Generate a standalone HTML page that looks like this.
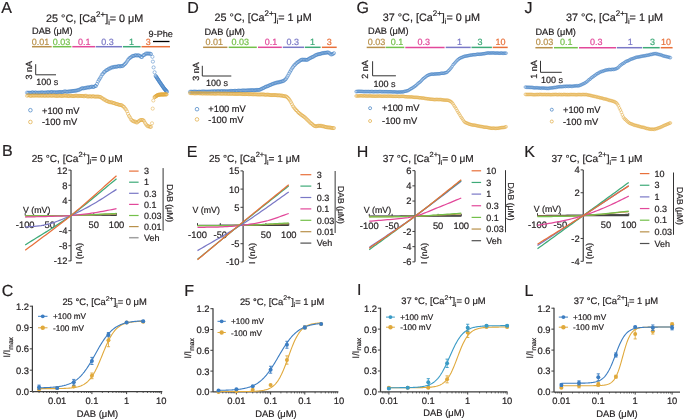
<!DOCTYPE html>
<html><head><meta charset="utf-8"><style>
html,body{margin:0;padding:0;background:#fff;width:685px;height:420px;overflow:hidden}
svg{display:block;filter:blur(0.3px)}
text{font-family:"Liberation Sans", sans-serif;text-rendering:geometricPrecision}
</style></head><body>
<svg width="685" height="420" viewBox="0 0 685 420">
<rect width="685" height="420" fill="#fff"/>
<text x="1.30" y="13.00" font-size="16" fill="#231f20" stroke="#231f20" stroke-width="0.2" text-anchor="start">A</text>
<text x="46.10" y="21.60" font-size="10.8" fill="#231f20" stroke="#231f20" stroke-width="0.2">25 °C, [Ca<tspan font-size="7.99" dy="-4.97">2+</tspan><tspan dy="4.97">]</tspan><tspan font-size="7.34" dy="3.02">i</tspan><tspan dy="-3.02">= 0 μM</tspan></text>
<text x="32.00" y="33.50" font-size="9.2" fill="#231f20" stroke="#231f20" stroke-width="0.2" text-anchor="start">DAB (μM)</text>
<line x1="32.00" y1="46.70" x2="51.70" y2="46.70" stroke="#b8904a" stroke-width="1.5"/>
<line x1="52.80" y1="46.70" x2="71.40" y2="46.70" stroke="#74c04a" stroke-width="1.5"/>
<line x1="72.30" y1="46.70" x2="95.10" y2="46.70" stroke="#e2489a" stroke-width="1.5"/>
<line x1="95.70" y1="46.70" x2="122.00" y2="46.70" stroke="#7a78c6" stroke-width="1.5"/>
<line x1="122.90" y1="46.70" x2="140.60" y2="46.70" stroke="#3eaa78" stroke-width="1.5"/>
<line x1="141.50" y1="46.70" x2="170.00" y2="46.70" stroke="#e8703a" stroke-width="1.5"/>
<text x="31.70" y="44.70" font-size="9.0" fill="#b8904a" stroke="#b8904a" stroke-width="0.2" text-anchor="start">0.01</text>
<text x="52.70" y="44.70" font-size="9.0" fill="#74c04a" stroke="#74c04a" stroke-width="0.2" text-anchor="start">0.03</text>
<text x="77.90" y="44.70" font-size="9.0" fill="#e2489a" stroke="#e2489a" stroke-width="0.2" text-anchor="start">0.1</text>
<text x="101.30" y="44.70" font-size="9.0" fill="#7a78c6" stroke="#7a78c6" stroke-width="0.2" text-anchor="start">0.3</text>
<text x="129.10" y="44.70" font-size="9.0" fill="#3eaa78" stroke="#3eaa78" stroke-width="0.2" text-anchor="start">1</text>
<text x="145.70" y="44.70" font-size="9.0" fill="#e8703a" stroke="#e8703a" stroke-width="0.2" text-anchor="start">3</text>
<path d="M35.70 64.20V74.80H56.00" fill="none" stroke="#333" stroke-width="1"/>
<text x="32.40" y="79.40" font-size="9" fill="#231f20" stroke="#231f20" stroke-width="0.2" text-anchor="start" transform="rotate(-90 32.40 79.40)">3 nA</text>
<text x="36.25" y="84.60" font-size="9" fill="#231f20" stroke="#231f20" stroke-width="0.2" text-anchor="start">100 s</text>
<circle cx="30.4" cy="110.2" r="1.8" fill="none" stroke="#3c7dc2" stroke-width="0.7"/>
<circle cx="30.4" cy="122" r="1.8" fill="none" stroke="#e0a93c" stroke-width="0.7"/>
<text x="42.00" y="113.50" font-size="9.3" fill="#231f20" stroke="#231f20" stroke-width="0.2" text-anchor="start">+100 mV</text>
<text x="42.00" y="125.00" font-size="9.3" fill="#231f20" stroke="#231f20" stroke-width="0.2" text-anchor="start">-100 mV</text>
<path d="M25.40 92.62a1.6 1.6 0 1 0 3.2 0a1.6 1.6 0 1 0 -3.2 0M26.40 92.81a1.6 1.6 0 1 0 3.2 0a1.6 1.6 0 1 0 -3.2 0M27.40 92.67a1.6 1.6 0 1 0 3.2 0a1.6 1.6 0 1 0 -3.2 0M28.40 92.81a1.6 1.6 0 1 0 3.2 0a1.6 1.6 0 1 0 -3.2 0M29.40 92.81a1.6 1.6 0 1 0 3.2 0a1.6 1.6 0 1 0 -3.2 0M30.40 92.39a1.6 1.6 0 1 0 3.2 0a1.6 1.6 0 1 0 -3.2 0M31.40 92.34a1.6 1.6 0 1 0 3.2 0a1.6 1.6 0 1 0 -3.2 0M32.40 92.90a1.6 1.6 0 1 0 3.2 0a1.6 1.6 0 1 0 -3.2 0M33.40 92.47a1.6 1.6 0 1 0 3.2 0a1.6 1.6 0 1 0 -3.2 0M34.40 92.44a1.6 1.6 0 1 0 3.2 0a1.6 1.6 0 1 0 -3.2 0M35.40 92.95a1.6 1.6 0 1 0 3.2 0a1.6 1.6 0 1 0 -3.2 0M36.40 92.56a1.6 1.6 0 1 0 3.2 0a1.6 1.6 0 1 0 -3.2 0M37.40 92.80a1.6 1.6 0 1 0 3.2 0a1.6 1.6 0 1 0 -3.2 0M38.40 92.53a1.6 1.6 0 1 0 3.2 0a1.6 1.6 0 1 0 -3.2 0M39.40 92.62a1.6 1.6 0 1 0 3.2 0a1.6 1.6 0 1 0 -3.2 0M40.40 92.26a1.6 1.6 0 1 0 3.2 0a1.6 1.6 0 1 0 -3.2 0M41.40 92.57a1.6 1.6 0 1 0 3.2 0a1.6 1.6 0 1 0 -3.2 0M42.40 92.71a1.6 1.6 0 1 0 3.2 0a1.6 1.6 0 1 0 -3.2 0M43.40 92.45a1.6 1.6 0 1 0 3.2 0a1.6 1.6 0 1 0 -3.2 0M44.40 92.58a1.6 1.6 0 1 0 3.2 0a1.6 1.6 0 1 0 -3.2 0M45.40 92.50a1.6 1.6 0 1 0 3.2 0a1.6 1.6 0 1 0 -3.2 0M46.40 92.05a1.6 1.6 0 1 0 3.2 0a1.6 1.6 0 1 0 -3.2 0M47.40 92.51a1.6 1.6 0 1 0 3.2 0a1.6 1.6 0 1 0 -3.2 0M48.40 92.36a1.6 1.6 0 1 0 3.2 0a1.6 1.6 0 1 0 -3.2 0M49.40 92.13a1.6 1.6 0 1 0 3.2 0a1.6 1.6 0 1 0 -3.2 0M50.40 91.91a1.6 1.6 0 1 0 3.2 0a1.6 1.6 0 1 0 -3.2 0M51.40 92.47a1.6 1.6 0 1 0 3.2 0a1.6 1.6 0 1 0 -3.2 0M52.40 92.16a1.6 1.6 0 1 0 3.2 0a1.6 1.6 0 1 0 -3.2 0M53.40 92.30a1.6 1.6 0 1 0 3.2 0a1.6 1.6 0 1 0 -3.2 0M54.40 92.38a1.6 1.6 0 1 0 3.2 0a1.6 1.6 0 1 0 -3.2 0M55.40 92.23a1.6 1.6 0 1 0 3.2 0a1.6 1.6 0 1 0 -3.2 0M56.40 92.34a1.6 1.6 0 1 0 3.2 0a1.6 1.6 0 1 0 -3.2 0M57.40 91.94a1.6 1.6 0 1 0 3.2 0a1.6 1.6 0 1 0 -3.2 0M58.40 92.18a1.6 1.6 0 1 0 3.2 0a1.6 1.6 0 1 0 -3.2 0M59.40 91.89a1.6 1.6 0 1 0 3.2 0a1.6 1.6 0 1 0 -3.2 0M60.40 92.19a1.6 1.6 0 1 0 3.2 0a1.6 1.6 0 1 0 -3.2 0M61.40 92.10a1.6 1.6 0 1 0 3.2 0a1.6 1.6 0 1 0 -3.2 0M62.40 91.51a1.6 1.6 0 1 0 3.2 0a1.6 1.6 0 1 0 -3.2 0M63.40 91.48a1.6 1.6 0 1 0 3.2 0a1.6 1.6 0 1 0 -3.2 0M64.40 91.48a1.6 1.6 0 1 0 3.2 0a1.6 1.6 0 1 0 -3.2 0M65.40 91.94a1.6 1.6 0 1 0 3.2 0a1.6 1.6 0 1 0 -3.2 0M66.40 91.50a1.6 1.6 0 1 0 3.2 0a1.6 1.6 0 1 0 -3.2 0M67.40 91.56a1.6 1.6 0 1 0 3.2 0a1.6 1.6 0 1 0 -3.2 0M68.40 91.26a1.6 1.6 0 1 0 3.2 0a1.6 1.6 0 1 0 -3.2 0M69.40 91.31a1.6 1.6 0 1 0 3.2 0a1.6 1.6 0 1 0 -3.2 0M70.40 91.10a1.6 1.6 0 1 0 3.2 0a1.6 1.6 0 1 0 -3.2 0M71.40 90.92a1.6 1.6 0 1 0 3.2 0a1.6 1.6 0 1 0 -3.2 0M72.40 90.90a1.6 1.6 0 1 0 3.2 0a1.6 1.6 0 1 0 -3.2 0M73.40 90.70a1.6 1.6 0 1 0 3.2 0a1.6 1.6 0 1 0 -3.2 0M74.40 90.72a1.6 1.6 0 1 0 3.2 0a1.6 1.6 0 1 0 -3.2 0M75.40 90.33a1.6 1.6 0 1 0 3.2 0a1.6 1.6 0 1 0 -3.2 0M76.40 90.19a1.6 1.6 0 1 0 3.2 0a1.6 1.6 0 1 0 -3.2 0M77.40 89.77a1.6 1.6 0 1 0 3.2 0a1.6 1.6 0 1 0 -3.2 0M78.40 89.46a1.6 1.6 0 1 0 3.2 0a1.6 1.6 0 1 0 -3.2 0M79.40 88.85a1.6 1.6 0 1 0 3.2 0a1.6 1.6 0 1 0 -3.2 0M80.40 88.15a1.6 1.6 0 1 0 3.2 0a1.6 1.6 0 1 0 -3.2 0M81.40 88.37a1.6 1.6 0 1 0 3.2 0a1.6 1.6 0 1 0 -3.2 0M82.40 88.27a1.6 1.6 0 1 0 3.2 0a1.6 1.6 0 1 0 -3.2 0M83.40 88.08a1.6 1.6 0 1 0 3.2 0a1.6 1.6 0 1 0 -3.2 0M84.40 87.72a1.6 1.6 0 1 0 3.2 0a1.6 1.6 0 1 0 -3.2 0M85.40 87.70a1.6 1.6 0 1 0 3.2 0a1.6 1.6 0 1 0 -3.2 0M86.40 87.23a1.6 1.6 0 1 0 3.2 0a1.6 1.6 0 1 0 -3.2 0M87.40 87.54a1.6 1.6 0 1 0 3.2 0a1.6 1.6 0 1 0 -3.2 0M88.40 87.21a1.6 1.6 0 1 0 3.2 0a1.6 1.6 0 1 0 -3.2 0M89.40 86.87a1.6 1.6 0 1 0 3.2 0a1.6 1.6 0 1 0 -3.2 0M90.40 86.59a1.6 1.6 0 1 0 3.2 0a1.6 1.6 0 1 0 -3.2 0M91.40 87.01a1.6 1.6 0 1 0 3.2 0a1.6 1.6 0 1 0 -3.2 0M92.40 86.91a1.6 1.6 0 1 0 3.2 0a1.6 1.6 0 1 0 -3.2 0M93.40 86.02a1.6 1.6 0 1 0 3.2 0a1.6 1.6 0 1 0 -3.2 0M94.40 86.00a1.6 1.6 0 1 0 3.2 0a1.6 1.6 0 1 0 -3.2 0M95.40 83.98a1.6 1.6 0 1 0 3.2 0a1.6 1.6 0 1 0 -3.2 0M96.40 81.63a1.6 1.6 0 1 0 3.2 0a1.6 1.6 0 1 0 -3.2 0M97.40 79.87a1.6 1.6 0 1 0 3.2 0a1.6 1.6 0 1 0 -3.2 0M98.40 78.30a1.6 1.6 0 1 0 3.2 0a1.6 1.6 0 1 0 -3.2 0M99.40 76.62a1.6 1.6 0 1 0 3.2 0a1.6 1.6 0 1 0 -3.2 0M100.40 74.59a1.6 1.6 0 1 0 3.2 0a1.6 1.6 0 1 0 -3.2 0M101.40 73.70a1.6 1.6 0 1 0 3.2 0a1.6 1.6 0 1 0 -3.2 0M102.40 72.14a1.6 1.6 0 1 0 3.2 0a1.6 1.6 0 1 0 -3.2 0M103.40 71.60a1.6 1.6 0 1 0 3.2 0a1.6 1.6 0 1 0 -3.2 0M104.40 70.46a1.6 1.6 0 1 0 3.2 0a1.6 1.6 0 1 0 -3.2 0M105.40 70.06a1.6 1.6 0 1 0 3.2 0a1.6 1.6 0 1 0 -3.2 0M106.40 69.44a1.6 1.6 0 1 0 3.2 0a1.6 1.6 0 1 0 -3.2 0M107.40 68.57a1.6 1.6 0 1 0 3.2 0a1.6 1.6 0 1 0 -3.2 0M108.40 68.54a1.6 1.6 0 1 0 3.2 0a1.6 1.6 0 1 0 -3.2 0M109.40 67.75a1.6 1.6 0 1 0 3.2 0a1.6 1.6 0 1 0 -3.2 0M110.40 67.32a1.6 1.6 0 1 0 3.2 0a1.6 1.6 0 1 0 -3.2 0M111.40 67.46a1.6 1.6 0 1 0 3.2 0a1.6 1.6 0 1 0 -3.2 0M112.40 66.86a1.6 1.6 0 1 0 3.2 0a1.6 1.6 0 1 0 -3.2 0M113.40 66.78a1.6 1.6 0 1 0 3.2 0a1.6 1.6 0 1 0 -3.2 0M114.40 66.74a1.6 1.6 0 1 0 3.2 0a1.6 1.6 0 1 0 -3.2 0M115.40 66.71a1.6 1.6 0 1 0 3.2 0a1.6 1.6 0 1 0 -3.2 0M116.40 66.25a1.6 1.6 0 1 0 3.2 0a1.6 1.6 0 1 0 -3.2 0M117.40 66.05a1.6 1.6 0 1 0 3.2 0a1.6 1.6 0 1 0 -3.2 0M118.40 66.50a1.6 1.6 0 1 0 3.2 0a1.6 1.6 0 1 0 -3.2 0M119.40 65.95a1.6 1.6 0 1 0 3.2 0a1.6 1.6 0 1 0 -3.2 0M120.40 66.18a1.6 1.6 0 1 0 3.2 0a1.6 1.6 0 1 0 -3.2 0M121.40 65.82a1.6 1.6 0 1 0 3.2 0a1.6 1.6 0 1 0 -3.2 0M122.40 64.79a1.6 1.6 0 1 0 3.2 0a1.6 1.6 0 1 0 -3.2 0M123.40 63.96a1.6 1.6 0 1 0 3.2 0a1.6 1.6 0 1 0 -3.2 0M124.40 62.88a1.6 1.6 0 1 0 3.2 0a1.6 1.6 0 1 0 -3.2 0M125.40 61.46a1.6 1.6 0 1 0 3.2 0a1.6 1.6 0 1 0 -3.2 0M126.40 59.89a1.6 1.6 0 1 0 3.2 0a1.6 1.6 0 1 0 -3.2 0M127.40 58.63a1.6 1.6 0 1 0 3.2 0a1.6 1.6 0 1 0 -3.2 0M128.40 57.81a1.6 1.6 0 1 0 3.2 0a1.6 1.6 0 1 0 -3.2 0M129.40 57.25a1.6 1.6 0 1 0 3.2 0a1.6 1.6 0 1 0 -3.2 0M130.40 56.33a1.6 1.6 0 1 0 3.2 0a1.6 1.6 0 1 0 -3.2 0M131.40 55.88a1.6 1.6 0 1 0 3.2 0a1.6 1.6 0 1 0 -3.2 0M132.40 55.86a1.6 1.6 0 1 0 3.2 0a1.6 1.6 0 1 0 -3.2 0M133.40 55.33a1.6 1.6 0 1 0 3.2 0a1.6 1.6 0 1 0 -3.2 0M134.40 55.22a1.6 1.6 0 1 0 3.2 0a1.6 1.6 0 1 0 -3.2 0M135.40 55.59a1.6 1.6 0 1 0 3.2 0a1.6 1.6 0 1 0 -3.2 0M136.40 55.22a1.6 1.6 0 1 0 3.2 0a1.6 1.6 0 1 0 -3.2 0M137.40 55.47a1.6 1.6 0 1 0 3.2 0a1.6 1.6 0 1 0 -3.2 0M138.40 55.90a1.6 1.6 0 1 0 3.2 0a1.6 1.6 0 1 0 -3.2 0M139.40 56.97a1.6 1.6 0 1 0 3.2 0a1.6 1.6 0 1 0 -3.2 0M140.40 57.09a1.6 1.6 0 1 0 3.2 0a1.6 1.6 0 1 0 -3.2 0M141.40 55.48a1.6 1.6 0 1 0 3.2 0a1.6 1.6 0 1 0 -3.2 0M142.40 55.03a1.6 1.6 0 1 0 3.2 0a1.6 1.6 0 1 0 -3.2 0M143.40 54.43a1.6 1.6 0 1 0 3.2 0a1.6 1.6 0 1 0 -3.2 0M144.40 53.53a1.6 1.6 0 1 0 3.2 0a1.6 1.6 0 1 0 -3.2 0M145.40 53.63a1.6 1.6 0 1 0 3.2 0a1.6 1.6 0 1 0 -3.2 0M146.40 53.49a1.6 1.6 0 1 0 3.2 0a1.6 1.6 0 1 0 -3.2 0M147.40 53.72a1.6 1.6 0 1 0 3.2 0a1.6 1.6 0 1 0 -3.2 0M148.40 53.61a1.6 1.6 0 1 0 3.2 0a1.6 1.6 0 1 0 -3.2 0M149.40 53.99a1.6 1.6 0 1 0 3.2 0a1.6 1.6 0 1 0 -3.2 0M150.80 56.80a1.6 1.6 0 1 0 3.2 0a1.6 1.6 0 1 0 -3.2 0M151.30 61.60a1.6 1.6 0 1 0 3.2 0a1.6 1.6 0 1 0 -3.2 0M152.00 67.40a1.6 1.6 0 1 0 3.2 0a1.6 1.6 0 1 0 -3.2 0M153.00 72.30a1.6 1.6 0 1 0 3.2 0a1.6 1.6 0 1 0 -3.2 0M154.00 75.80a1.6 1.6 0 1 0 3.2 0a1.6 1.6 0 1 0 -3.2 0M154.44 76.47a1.6 1.6 0 1 0 3.2 0a1.6 1.6 0 1 0 -3.2 0M154.88 77.14a1.6 1.6 0 1 0 3.2 0a1.6 1.6 0 1 0 -3.2 0M155.32 77.81a1.6 1.6 0 1 0 3.2 0a1.6 1.6 0 1 0 -3.2 0M155.76 78.48a1.6 1.6 0 1 0 3.2 0a1.6 1.6 0 1 0 -3.2 0M156.20 79.15a1.6 1.6 0 1 0 3.2 0a1.6 1.6 0 1 0 -3.2 0M156.64 79.82a1.6 1.6 0 1 0 3.2 0a1.6 1.6 0 1 0 -3.2 0M157.08 80.49a1.6 1.6 0 1 0 3.2 0a1.6 1.6 0 1 0 -3.2 0M157.52 81.16a1.6 1.6 0 1 0 3.2 0a1.6 1.6 0 1 0 -3.2 0M157.96 81.83a1.6 1.6 0 1 0 3.2 0a1.6 1.6 0 1 0 -3.2 0M158.40 82.50a1.6 1.6 0 1 0 3.2 0a1.6 1.6 0 1 0 -3.2 0M158.84 83.14a1.6 1.6 0 1 0 3.2 0a1.6 1.6 0 1 0 -3.2 0M159.29 83.79a1.6 1.6 0 1 0 3.2 0a1.6 1.6 0 1 0 -3.2 0M159.73 84.43a1.6 1.6 0 1 0 3.2 0a1.6 1.6 0 1 0 -3.2 0M160.18 85.08a1.6 1.6 0 1 0 3.2 0a1.6 1.6 0 1 0 -3.2 0M160.62 85.72a1.6 1.6 0 1 0 3.2 0a1.6 1.6 0 1 0 -3.2 0M161.07 86.37a1.6 1.6 0 1 0 3.2 0a1.6 1.6 0 1 0 -3.2 0M161.51 87.01a1.6 1.6 0 1 0 3.2 0a1.6 1.6 0 1 0 -3.2 0M161.96 87.66a1.6 1.6 0 1 0 3.2 0a1.6 1.6 0 1 0 -3.2 0M162.40 88.30a1.6 1.6 0 1 0 3.2 0a1.6 1.6 0 1 0 -3.2 0M162.83 88.80a1.6 1.6 0 1 0 3.2 0a1.6 1.6 0 1 0 -3.2 0M163.26 89.30a1.6 1.6 0 1 0 3.2 0a1.6 1.6 0 1 0 -3.2 0M163.69 89.80a1.6 1.6 0 1 0 3.2 0a1.6 1.6 0 1 0 -3.2 0M164.11 90.30a1.6 1.6 0 1 0 3.2 0a1.6 1.6 0 1 0 -3.2 0M164.54 90.80a1.6 1.6 0 1 0 3.2 0a1.6 1.6 0 1 0 -3.2 0M164.97 91.30a1.6 1.6 0 1 0 3.2 0a1.6 1.6 0 1 0 -3.2 0M165.40 91.80a1.6 1.6 0 1 0 3.2 0a1.6 1.6 0 1 0 -3.2 0" fill="none" stroke="#3c7dc2" stroke-width="0.5"/>
<path d="M25.40 95.77a1.6 1.6 0 1 0 3.2 0a1.6 1.6 0 1 0 -3.2 0M26.40 95.27a1.6 1.6 0 1 0 3.2 0a1.6 1.6 0 1 0 -3.2 0M27.40 95.30a1.6 1.6 0 1 0 3.2 0a1.6 1.6 0 1 0 -3.2 0M28.40 95.74a1.6 1.6 0 1 0 3.2 0a1.6 1.6 0 1 0 -3.2 0M29.40 95.95a1.6 1.6 0 1 0 3.2 0a1.6 1.6 0 1 0 -3.2 0M30.40 95.45a1.6 1.6 0 1 0 3.2 0a1.6 1.6 0 1 0 -3.2 0M31.40 95.60a1.6 1.6 0 1 0 3.2 0a1.6 1.6 0 1 0 -3.2 0M32.40 95.70a1.6 1.6 0 1 0 3.2 0a1.6 1.6 0 1 0 -3.2 0M33.40 95.52a1.6 1.6 0 1 0 3.2 0a1.6 1.6 0 1 0 -3.2 0M34.40 95.56a1.6 1.6 0 1 0 3.2 0a1.6 1.6 0 1 0 -3.2 0M35.40 95.52a1.6 1.6 0 1 0 3.2 0a1.6 1.6 0 1 0 -3.2 0M36.40 95.57a1.6 1.6 0 1 0 3.2 0a1.6 1.6 0 1 0 -3.2 0M37.40 95.73a1.6 1.6 0 1 0 3.2 0a1.6 1.6 0 1 0 -3.2 0M38.40 95.53a1.6 1.6 0 1 0 3.2 0a1.6 1.6 0 1 0 -3.2 0M39.40 95.59a1.6 1.6 0 1 0 3.2 0a1.6 1.6 0 1 0 -3.2 0M40.40 95.87a1.6 1.6 0 1 0 3.2 0a1.6 1.6 0 1 0 -3.2 0M41.40 95.36a1.6 1.6 0 1 0 3.2 0a1.6 1.6 0 1 0 -3.2 0M42.40 95.74a1.6 1.6 0 1 0 3.2 0a1.6 1.6 0 1 0 -3.2 0M43.40 95.86a1.6 1.6 0 1 0 3.2 0a1.6 1.6 0 1 0 -3.2 0M44.40 95.57a1.6 1.6 0 1 0 3.2 0a1.6 1.6 0 1 0 -3.2 0M45.40 95.52a1.6 1.6 0 1 0 3.2 0a1.6 1.6 0 1 0 -3.2 0M46.40 95.93a1.6 1.6 0 1 0 3.2 0a1.6 1.6 0 1 0 -3.2 0M47.40 95.54a1.6 1.6 0 1 0 3.2 0a1.6 1.6 0 1 0 -3.2 0M48.40 95.51a1.6 1.6 0 1 0 3.2 0a1.6 1.6 0 1 0 -3.2 0M49.40 95.69a1.6 1.6 0 1 0 3.2 0a1.6 1.6 0 1 0 -3.2 0M50.40 95.88a1.6 1.6 0 1 0 3.2 0a1.6 1.6 0 1 0 -3.2 0M51.40 95.47a1.6 1.6 0 1 0 3.2 0a1.6 1.6 0 1 0 -3.2 0M52.40 95.63a1.6 1.6 0 1 0 3.2 0a1.6 1.6 0 1 0 -3.2 0M53.40 95.64a1.6 1.6 0 1 0 3.2 0a1.6 1.6 0 1 0 -3.2 0M54.40 96.00a1.6 1.6 0 1 0 3.2 0a1.6 1.6 0 1 0 -3.2 0M55.40 95.73a1.6 1.6 0 1 0 3.2 0a1.6 1.6 0 1 0 -3.2 0M56.40 96.03a1.6 1.6 0 1 0 3.2 0a1.6 1.6 0 1 0 -3.2 0M57.40 95.56a1.6 1.6 0 1 0 3.2 0a1.6 1.6 0 1 0 -3.2 0M58.40 95.69a1.6 1.6 0 1 0 3.2 0a1.6 1.6 0 1 0 -3.2 0M59.40 95.91a1.6 1.6 0 1 0 3.2 0a1.6 1.6 0 1 0 -3.2 0M60.40 96.09a1.6 1.6 0 1 0 3.2 0a1.6 1.6 0 1 0 -3.2 0M61.40 95.79a1.6 1.6 0 1 0 3.2 0a1.6 1.6 0 1 0 -3.2 0M62.40 95.64a1.6 1.6 0 1 0 3.2 0a1.6 1.6 0 1 0 -3.2 0M63.40 95.58a1.6 1.6 0 1 0 3.2 0a1.6 1.6 0 1 0 -3.2 0M64.40 95.87a1.6 1.6 0 1 0 3.2 0a1.6 1.6 0 1 0 -3.2 0M65.40 95.64a1.6 1.6 0 1 0 3.2 0a1.6 1.6 0 1 0 -3.2 0M66.40 96.08a1.6 1.6 0 1 0 3.2 0a1.6 1.6 0 1 0 -3.2 0M67.40 96.11a1.6 1.6 0 1 0 3.2 0a1.6 1.6 0 1 0 -3.2 0M68.40 95.66a1.6 1.6 0 1 0 3.2 0a1.6 1.6 0 1 0 -3.2 0M69.40 95.74a1.6 1.6 0 1 0 3.2 0a1.6 1.6 0 1 0 -3.2 0M70.40 96.12a1.6 1.6 0 1 0 3.2 0a1.6 1.6 0 1 0 -3.2 0M71.40 96.01a1.6 1.6 0 1 0 3.2 0a1.6 1.6 0 1 0 -3.2 0M72.40 96.14a1.6 1.6 0 1 0 3.2 0a1.6 1.6 0 1 0 -3.2 0M73.40 95.83a1.6 1.6 0 1 0 3.2 0a1.6 1.6 0 1 0 -3.2 0M74.40 95.69a1.6 1.6 0 1 0 3.2 0a1.6 1.6 0 1 0 -3.2 0M75.40 95.81a1.6 1.6 0 1 0 3.2 0a1.6 1.6 0 1 0 -3.2 0M76.40 96.18a1.6 1.6 0 1 0 3.2 0a1.6 1.6 0 1 0 -3.2 0M77.40 95.83a1.6 1.6 0 1 0 3.2 0a1.6 1.6 0 1 0 -3.2 0M78.40 95.89a1.6 1.6 0 1 0 3.2 0a1.6 1.6 0 1 0 -3.2 0M79.40 95.96a1.6 1.6 0 1 0 3.2 0a1.6 1.6 0 1 0 -3.2 0M80.40 95.98a1.6 1.6 0 1 0 3.2 0a1.6 1.6 0 1 0 -3.2 0M81.40 95.99a1.6 1.6 0 1 0 3.2 0a1.6 1.6 0 1 0 -3.2 0M82.40 96.36a1.6 1.6 0 1 0 3.2 0a1.6 1.6 0 1 0 -3.2 0M83.40 95.85a1.6 1.6 0 1 0 3.2 0a1.6 1.6 0 1 0 -3.2 0M84.40 95.76a1.6 1.6 0 1 0 3.2 0a1.6 1.6 0 1 0 -3.2 0M85.40 96.44a1.6 1.6 0 1 0 3.2 0a1.6 1.6 0 1 0 -3.2 0M86.40 96.42a1.6 1.6 0 1 0 3.2 0a1.6 1.6 0 1 0 -3.2 0M87.40 96.52a1.6 1.6 0 1 0 3.2 0a1.6 1.6 0 1 0 -3.2 0M88.40 96.15a1.6 1.6 0 1 0 3.2 0a1.6 1.6 0 1 0 -3.2 0M89.40 96.54a1.6 1.6 0 1 0 3.2 0a1.6 1.6 0 1 0 -3.2 0M90.40 96.57a1.6 1.6 0 1 0 3.2 0a1.6 1.6 0 1 0 -3.2 0M91.40 96.12a1.6 1.6 0 1 0 3.2 0a1.6 1.6 0 1 0 -3.2 0M92.40 96.54a1.6 1.6 0 1 0 3.2 0a1.6 1.6 0 1 0 -3.2 0M93.40 96.67a1.6 1.6 0 1 0 3.2 0a1.6 1.6 0 1 0 -3.2 0M94.40 96.63a1.6 1.6 0 1 0 3.2 0a1.6 1.6 0 1 0 -3.2 0M95.40 96.62a1.6 1.6 0 1 0 3.2 0a1.6 1.6 0 1 0 -3.2 0M96.40 96.57a1.6 1.6 0 1 0 3.2 0a1.6 1.6 0 1 0 -3.2 0M97.40 96.74a1.6 1.6 0 1 0 3.2 0a1.6 1.6 0 1 0 -3.2 0M98.40 96.94a1.6 1.6 0 1 0 3.2 0a1.6 1.6 0 1 0 -3.2 0M99.40 97.28a1.6 1.6 0 1 0 3.2 0a1.6 1.6 0 1 0 -3.2 0M100.40 98.20a1.6 1.6 0 1 0 3.2 0a1.6 1.6 0 1 0 -3.2 0M101.40 98.61a1.6 1.6 0 1 0 3.2 0a1.6 1.6 0 1 0 -3.2 0M102.40 99.60a1.6 1.6 0 1 0 3.2 0a1.6 1.6 0 1 0 -3.2 0M103.40 99.65a1.6 1.6 0 1 0 3.2 0a1.6 1.6 0 1 0 -3.2 0M104.40 100.74a1.6 1.6 0 1 0 3.2 0a1.6 1.6 0 1 0 -3.2 0M105.40 100.99a1.6 1.6 0 1 0 3.2 0a1.6 1.6 0 1 0 -3.2 0M106.40 101.53a1.6 1.6 0 1 0 3.2 0a1.6 1.6 0 1 0 -3.2 0M107.40 101.87a1.6 1.6 0 1 0 3.2 0a1.6 1.6 0 1 0 -3.2 0M108.40 102.22a1.6 1.6 0 1 0 3.2 0a1.6 1.6 0 1 0 -3.2 0M109.40 102.33a1.6 1.6 0 1 0 3.2 0a1.6 1.6 0 1 0 -3.2 0M110.40 102.26a1.6 1.6 0 1 0 3.2 0a1.6 1.6 0 1 0 -3.2 0M111.40 103.09a1.6 1.6 0 1 0 3.2 0a1.6 1.6 0 1 0 -3.2 0M112.40 103.01a1.6 1.6 0 1 0 3.2 0a1.6 1.6 0 1 0 -3.2 0M113.40 103.42a1.6 1.6 0 1 0 3.2 0a1.6 1.6 0 1 0 -3.2 0M114.40 103.97a1.6 1.6 0 1 0 3.2 0a1.6 1.6 0 1 0 -3.2 0M115.40 104.12a1.6 1.6 0 1 0 3.2 0a1.6 1.6 0 1 0 -3.2 0M116.40 104.27a1.6 1.6 0 1 0 3.2 0a1.6 1.6 0 1 0 -3.2 0M117.40 104.88a1.6 1.6 0 1 0 3.2 0a1.6 1.6 0 1 0 -3.2 0M118.40 104.93a1.6 1.6 0 1 0 3.2 0a1.6 1.6 0 1 0 -3.2 0M119.40 105.06a1.6 1.6 0 1 0 3.2 0a1.6 1.6 0 1 0 -3.2 0M120.40 105.39a1.6 1.6 0 1 0 3.2 0a1.6 1.6 0 1 0 -3.2 0M121.40 106.31a1.6 1.6 0 1 0 3.2 0a1.6 1.6 0 1 0 -3.2 0M122.40 106.89a1.6 1.6 0 1 0 3.2 0a1.6 1.6 0 1 0 -3.2 0M123.40 108.34a1.6 1.6 0 1 0 3.2 0a1.6 1.6 0 1 0 -3.2 0M124.40 109.50a1.6 1.6 0 1 0 3.2 0a1.6 1.6 0 1 0 -3.2 0M125.40 111.32a1.6 1.6 0 1 0 3.2 0a1.6 1.6 0 1 0 -3.2 0M126.40 113.82a1.6 1.6 0 1 0 3.2 0a1.6 1.6 0 1 0 -3.2 0M127.40 115.96a1.6 1.6 0 1 0 3.2 0a1.6 1.6 0 1 0 -3.2 0M128.40 117.40a1.6 1.6 0 1 0 3.2 0a1.6 1.6 0 1 0 -3.2 0M129.40 119.40a1.6 1.6 0 1 0 3.2 0a1.6 1.6 0 1 0 -3.2 0M130.40 120.39a1.6 1.6 0 1 0 3.2 0a1.6 1.6 0 1 0 -3.2 0M131.40 120.99a1.6 1.6 0 1 0 3.2 0a1.6 1.6 0 1 0 -3.2 0M132.40 121.59a1.6 1.6 0 1 0 3.2 0a1.6 1.6 0 1 0 -3.2 0M133.40 121.49a1.6 1.6 0 1 0 3.2 0a1.6 1.6 0 1 0 -3.2 0M134.40 122.24a1.6 1.6 0 1 0 3.2 0a1.6 1.6 0 1 0 -3.2 0M135.40 122.55a1.6 1.6 0 1 0 3.2 0a1.6 1.6 0 1 0 -3.2 0M136.40 121.71a1.6 1.6 0 1 0 3.2 0a1.6 1.6 0 1 0 -3.2 0M137.40 121.04a1.6 1.6 0 1 0 3.2 0a1.6 1.6 0 1 0 -3.2 0M138.40 120.18a1.6 1.6 0 1 0 3.2 0a1.6 1.6 0 1 0 -3.2 0M139.40 120.02a1.6 1.6 0 1 0 3.2 0a1.6 1.6 0 1 0 -3.2 0M140.40 119.95a1.6 1.6 0 1 0 3.2 0a1.6 1.6 0 1 0 -3.2 0M141.40 119.98a1.6 1.6 0 1 0 3.2 0a1.6 1.6 0 1 0 -3.2 0M142.40 120.92a1.6 1.6 0 1 0 3.2 0a1.6 1.6 0 1 0 -3.2 0M143.40 122.82a1.6 1.6 0 1 0 3.2 0a1.6 1.6 0 1 0 -3.2 0M144.40 124.30a1.6 1.6 0 1 0 3.2 0a1.6 1.6 0 1 0 -3.2 0M145.40 125.59a1.6 1.6 0 1 0 3.2 0a1.6 1.6 0 1 0 -3.2 0M146.40 126.29a1.6 1.6 0 1 0 3.2 0a1.6 1.6 0 1 0 -3.2 0M147.40 126.30a1.6 1.6 0 1 0 3.2 0a1.6 1.6 0 1 0 -3.2 0M148.40 126.93a1.6 1.6 0 1 0 3.2 0a1.6 1.6 0 1 0 -3.2 0M149.40 126.85a1.6 1.6 0 1 0 3.2 0a1.6 1.6 0 1 0 -3.2 0M150.40 123.30a1.6 1.6 0 1 0 3.2 0a1.6 1.6 0 1 0 -3.2 0M151.10 108.60a1.6 1.6 0 1 0 3.2 0a1.6 1.6 0 1 0 -3.2 0M151.70 100.50a1.6 1.6 0 1 0 3.2 0a1.6 1.6 0 1 0 -3.2 0M152.90 97.23a1.6 1.6 0 1 0 3.2 0a1.6 1.6 0 1 0 -3.2 0M153.35 97.02a1.6 1.6 0 1 0 3.2 0a1.6 1.6 0 1 0 -3.2 0M153.80 96.56a1.6 1.6 0 1 0 3.2 0a1.6 1.6 0 1 0 -3.2 0M154.25 96.18a1.6 1.6 0 1 0 3.2 0a1.6 1.6 0 1 0 -3.2 0M154.70 95.87a1.6 1.6 0 1 0 3.2 0a1.6 1.6 0 1 0 -3.2 0M155.15 95.71a1.6 1.6 0 1 0 3.2 0a1.6 1.6 0 1 0 -3.2 0M155.60 95.43a1.6 1.6 0 1 0 3.2 0a1.6 1.6 0 1 0 -3.2 0M156.05 95.13a1.6 1.6 0 1 0 3.2 0a1.6 1.6 0 1 0 -3.2 0M156.50 94.90a1.6 1.6 0 1 0 3.2 0a1.6 1.6 0 1 0 -3.2 0M156.95 94.86a1.6 1.6 0 1 0 3.2 0a1.6 1.6 0 1 0 -3.2 0M157.40 94.69a1.6 1.6 0 1 0 3.2 0a1.6 1.6 0 1 0 -3.2 0M157.85 94.79a1.6 1.6 0 1 0 3.2 0a1.6 1.6 0 1 0 -3.2 0M158.30 94.79a1.6 1.6 0 1 0 3.2 0a1.6 1.6 0 1 0 -3.2 0M158.75 94.60a1.6 1.6 0 1 0 3.2 0a1.6 1.6 0 1 0 -3.2 0M159.20 94.43a1.6 1.6 0 1 0 3.2 0a1.6 1.6 0 1 0 -3.2 0M159.65 94.43a1.6 1.6 0 1 0 3.2 0a1.6 1.6 0 1 0 -3.2 0M160.10 94.47a1.6 1.6 0 1 0 3.2 0a1.6 1.6 0 1 0 -3.2 0M160.55 94.53a1.6 1.6 0 1 0 3.2 0a1.6 1.6 0 1 0 -3.2 0M161.00 94.58a1.6 1.6 0 1 0 3.2 0a1.6 1.6 0 1 0 -3.2 0M161.45 94.40a1.6 1.6 0 1 0 3.2 0a1.6 1.6 0 1 0 -3.2 0M161.90 94.54a1.6 1.6 0 1 0 3.2 0a1.6 1.6 0 1 0 -3.2 0M162.35 94.45a1.6 1.6 0 1 0 3.2 0a1.6 1.6 0 1 0 -3.2 0M162.80 94.36a1.6 1.6 0 1 0 3.2 0a1.6 1.6 0 1 0 -3.2 0M163.25 94.32a1.6 1.6 0 1 0 3.2 0a1.6 1.6 0 1 0 -3.2 0M163.70 94.36a1.6 1.6 0 1 0 3.2 0a1.6 1.6 0 1 0 -3.2 0M164.15 94.43a1.6 1.6 0 1 0 3.2 0a1.6 1.6 0 1 0 -3.2 0M164.60 94.30a1.6 1.6 0 1 0 3.2 0a1.6 1.6 0 1 0 -3.2 0M165.05 94.39a1.6 1.6 0 1 0 3.2 0a1.6 1.6 0 1 0 -3.2 0" fill="none" stroke="#e0a93c" stroke-width="0.5"/>
<text x="148.60" y="37.30" font-size="9.1" fill="#231f20" stroke="#231f20" stroke-width="0.2" text-anchor="start">9-Phe</text>
<line x1="153.00" y1="41.50" x2="169.50" y2="41.50" stroke="#000" stroke-width="1.3"/>
<text x="187.30" y="12.90" font-size="16" fill="#231f20" stroke="#231f20" stroke-width="0.2" text-anchor="start">D</text>
<text x="214.60" y="21.30" font-size="10.8" fill="#231f20" stroke="#231f20" stroke-width="0.2">25 °C, [Ca<tspan font-size="7.99" dy="-4.97">2+</tspan><tspan dy="4.97">]</tspan><tspan font-size="7.34" dy="3.02">i</tspan><tspan dy="-3.02">= 1 μM</tspan></text>
<text x="204.40" y="34.50" font-size="9.2" fill="#231f20" stroke="#231f20" stroke-width="0.2" text-anchor="start">DAB (μM)</text>
<line x1="203.10" y1="47.30" x2="227.40" y2="47.30" stroke="#b8904a" stroke-width="1.5"/>
<line x1="228.70" y1="47.30" x2="256.80" y2="47.30" stroke="#74c04a" stroke-width="1.5"/>
<line x1="258.00" y1="47.30" x2="281.80" y2="47.30" stroke="#e2489a" stroke-width="1.5"/>
<line x1="282.80" y1="47.30" x2="304.00" y2="47.30" stroke="#7a78c6" stroke-width="1.5"/>
<line x1="304.80" y1="47.30" x2="320.60" y2="47.30" stroke="#3eaa78" stroke-width="1.5"/>
<line x1="321.90" y1="47.30" x2="336.70" y2="47.30" stroke="#e8703a" stroke-width="1.5"/>
<text x="205.40" y="45.10" font-size="9.0" fill="#b8904a" stroke="#b8904a" stroke-width="0.2" text-anchor="start">0.01</text>
<text x="231.40" y="45.10" font-size="9.0" fill="#74c04a" stroke="#74c04a" stroke-width="0.2" text-anchor="start">0.03</text>
<text x="264.70" y="45.10" font-size="9.0" fill="#e2489a" stroke="#e2489a" stroke-width="0.2" text-anchor="start">0.1</text>
<text x="286.40" y="45.10" font-size="9.0" fill="#7a78c6" stroke="#7a78c6" stroke-width="0.2" text-anchor="start">0.3</text>
<text x="310.10" y="45.10" font-size="9.0" fill="#3eaa78" stroke="#3eaa78" stroke-width="0.2" text-anchor="start">1</text>
<text x="326.70" y="45.10" font-size="9.0" fill="#e8703a" stroke="#e8703a" stroke-width="0.2" text-anchor="start">3</text>
<path d="M202.30 65.80V76.00H231.30" fill="none" stroke="#333" stroke-width="1"/>
<text x="198.80" y="80.80" font-size="9" fill="#231f20" stroke="#231f20" stroke-width="0.2" text-anchor="start" transform="rotate(-90 198.80 80.80)">3 nA</text>
<text x="205.90" y="86.25" font-size="9" fill="#231f20" stroke="#231f20" stroke-width="0.2" text-anchor="start">100 s</text>
<circle cx="197.0" cy="109.2" r="1.8" fill="none" stroke="#3c7dc2" stroke-width="0.7"/>
<circle cx="197.0" cy="119.4" r="1.8" fill="none" stroke="#e0a93c" stroke-width="0.7"/>
<text x="208.30" y="112.10" font-size="9.3" fill="#231f20" stroke="#231f20" stroke-width="0.2" text-anchor="start">+100 mV</text>
<text x="208.30" y="122.50" font-size="9.3" fill="#231f20" stroke="#231f20" stroke-width="0.2" text-anchor="start">-100 mV</text>
<path d="M188.40 91.78a1.6 1.6 0 1 0 3.2 0a1.6 1.6 0 1 0 -3.2 0M189.40 91.68a1.6 1.6 0 1 0 3.2 0a1.6 1.6 0 1 0 -3.2 0M190.40 91.78a1.6 1.6 0 1 0 3.2 0a1.6 1.6 0 1 0 -3.2 0M191.40 91.83a1.6 1.6 0 1 0 3.2 0a1.6 1.6 0 1 0 -3.2 0M192.40 91.56a1.6 1.6 0 1 0 3.2 0a1.6 1.6 0 1 0 -3.2 0M193.40 91.69a1.6 1.6 0 1 0 3.2 0a1.6 1.6 0 1 0 -3.2 0M194.40 91.68a1.6 1.6 0 1 0 3.2 0a1.6 1.6 0 1 0 -3.2 0M195.40 91.84a1.6 1.6 0 1 0 3.2 0a1.6 1.6 0 1 0 -3.2 0M196.40 91.85a1.6 1.6 0 1 0 3.2 0a1.6 1.6 0 1 0 -3.2 0M197.40 91.61a1.6 1.6 0 1 0 3.2 0a1.6 1.6 0 1 0 -3.2 0M198.40 91.80a1.6 1.6 0 1 0 3.2 0a1.6 1.6 0 1 0 -3.2 0M199.40 91.75a1.6 1.6 0 1 0 3.2 0a1.6 1.6 0 1 0 -3.2 0M200.40 91.52a1.6 1.6 0 1 0 3.2 0a1.6 1.6 0 1 0 -3.2 0M201.40 91.59a1.6 1.6 0 1 0 3.2 0a1.6 1.6 0 1 0 -3.2 0M202.40 91.44a1.6 1.6 0 1 0 3.2 0a1.6 1.6 0 1 0 -3.2 0M203.40 91.70a1.6 1.6 0 1 0 3.2 0a1.6 1.6 0 1 0 -3.2 0M204.40 91.62a1.6 1.6 0 1 0 3.2 0a1.6 1.6 0 1 0 -3.2 0M205.40 91.69a1.6 1.6 0 1 0 3.2 0a1.6 1.6 0 1 0 -3.2 0M206.40 91.64a1.6 1.6 0 1 0 3.2 0a1.6 1.6 0 1 0 -3.2 0M207.40 91.57a1.6 1.6 0 1 0 3.2 0a1.6 1.6 0 1 0 -3.2 0M208.40 91.58a1.6 1.6 0 1 0 3.2 0a1.6 1.6 0 1 0 -3.2 0M209.40 91.50a1.6 1.6 0 1 0 3.2 0a1.6 1.6 0 1 0 -3.2 0M210.40 91.30a1.6 1.6 0 1 0 3.2 0a1.6 1.6 0 1 0 -3.2 0M211.40 91.47a1.6 1.6 0 1 0 3.2 0a1.6 1.6 0 1 0 -3.2 0M212.40 91.22a1.6 1.6 0 1 0 3.2 0a1.6 1.6 0 1 0 -3.2 0M213.40 91.26a1.6 1.6 0 1 0 3.2 0a1.6 1.6 0 1 0 -3.2 0M214.40 91.49a1.6 1.6 0 1 0 3.2 0a1.6 1.6 0 1 0 -3.2 0M215.40 91.18a1.6 1.6 0 1 0 3.2 0a1.6 1.6 0 1 0 -3.2 0M216.40 91.18a1.6 1.6 0 1 0 3.2 0a1.6 1.6 0 1 0 -3.2 0M217.40 91.16a1.6 1.6 0 1 0 3.2 0a1.6 1.6 0 1 0 -3.2 0M218.40 91.45a1.6 1.6 0 1 0 3.2 0a1.6 1.6 0 1 0 -3.2 0M219.40 91.15a1.6 1.6 0 1 0 3.2 0a1.6 1.6 0 1 0 -3.2 0M220.40 91.06a1.6 1.6 0 1 0 3.2 0a1.6 1.6 0 1 0 -3.2 0M221.40 91.37a1.6 1.6 0 1 0 3.2 0a1.6 1.6 0 1 0 -3.2 0M222.40 91.05a1.6 1.6 0 1 0 3.2 0a1.6 1.6 0 1 0 -3.2 0M223.40 91.32a1.6 1.6 0 1 0 3.2 0a1.6 1.6 0 1 0 -3.2 0M224.40 91.22a1.6 1.6 0 1 0 3.2 0a1.6 1.6 0 1 0 -3.2 0M225.40 91.26a1.6 1.6 0 1 0 3.2 0a1.6 1.6 0 1 0 -3.2 0M226.40 91.28a1.6 1.6 0 1 0 3.2 0a1.6 1.6 0 1 0 -3.2 0M227.40 91.10a1.6 1.6 0 1 0 3.2 0a1.6 1.6 0 1 0 -3.2 0M228.40 91.16a1.6 1.6 0 1 0 3.2 0a1.6 1.6 0 1 0 -3.2 0M229.40 90.82a1.6 1.6 0 1 0 3.2 0a1.6 1.6 0 1 0 -3.2 0M230.40 91.08a1.6 1.6 0 1 0 3.2 0a1.6 1.6 0 1 0 -3.2 0M231.40 90.95a1.6 1.6 0 1 0 3.2 0a1.6 1.6 0 1 0 -3.2 0M232.40 91.00a1.6 1.6 0 1 0 3.2 0a1.6 1.6 0 1 0 -3.2 0M233.40 90.72a1.6 1.6 0 1 0 3.2 0a1.6 1.6 0 1 0 -3.2 0M234.40 90.94a1.6 1.6 0 1 0 3.2 0a1.6 1.6 0 1 0 -3.2 0M235.40 90.98a1.6 1.6 0 1 0 3.2 0a1.6 1.6 0 1 0 -3.2 0M236.40 90.60a1.6 1.6 0 1 0 3.2 0a1.6 1.6 0 1 0 -3.2 0M237.40 90.67a1.6 1.6 0 1 0 3.2 0a1.6 1.6 0 1 0 -3.2 0M238.40 90.73a1.6 1.6 0 1 0 3.2 0a1.6 1.6 0 1 0 -3.2 0M239.40 90.80a1.6 1.6 0 1 0 3.2 0a1.6 1.6 0 1 0 -3.2 0M240.40 90.52a1.6 1.6 0 1 0 3.2 0a1.6 1.6 0 1 0 -3.2 0M241.40 90.46a1.6 1.6 0 1 0 3.2 0a1.6 1.6 0 1 0 -3.2 0M242.40 90.45a1.6 1.6 0 1 0 3.2 0a1.6 1.6 0 1 0 -3.2 0M243.40 90.55a1.6 1.6 0 1 0 3.2 0a1.6 1.6 0 1 0 -3.2 0M244.40 90.57a1.6 1.6 0 1 0 3.2 0a1.6 1.6 0 1 0 -3.2 0M245.40 90.38a1.6 1.6 0 1 0 3.2 0a1.6 1.6 0 1 0 -3.2 0M246.40 90.33a1.6 1.6 0 1 0 3.2 0a1.6 1.6 0 1 0 -3.2 0M247.40 90.30a1.6 1.6 0 1 0 3.2 0a1.6 1.6 0 1 0 -3.2 0M248.40 90.24a1.6 1.6 0 1 0 3.2 0a1.6 1.6 0 1 0 -3.2 0M249.40 90.23a1.6 1.6 0 1 0 3.2 0a1.6 1.6 0 1 0 -3.2 0M250.40 90.06a1.6 1.6 0 1 0 3.2 0a1.6 1.6 0 1 0 -3.2 0M251.40 90.19a1.6 1.6 0 1 0 3.2 0a1.6 1.6 0 1 0 -3.2 0M252.40 90.34a1.6 1.6 0 1 0 3.2 0a1.6 1.6 0 1 0 -3.2 0M253.40 90.07a1.6 1.6 0 1 0 3.2 0a1.6 1.6 0 1 0 -3.2 0M254.40 90.15a1.6 1.6 0 1 0 3.2 0a1.6 1.6 0 1 0 -3.2 0M255.40 89.86a1.6 1.6 0 1 0 3.2 0a1.6 1.6 0 1 0 -3.2 0M256.40 89.99a1.6 1.6 0 1 0 3.2 0a1.6 1.6 0 1 0 -3.2 0M257.40 89.92a1.6 1.6 0 1 0 3.2 0a1.6 1.6 0 1 0 -3.2 0M258.40 89.69a1.6 1.6 0 1 0 3.2 0a1.6 1.6 0 1 0 -3.2 0M259.40 89.19a1.6 1.6 0 1 0 3.2 0a1.6 1.6 0 1 0 -3.2 0M260.40 88.65a1.6 1.6 0 1 0 3.2 0a1.6 1.6 0 1 0 -3.2 0M261.40 88.20a1.6 1.6 0 1 0 3.2 0a1.6 1.6 0 1 0 -3.2 0M262.40 87.86a1.6 1.6 0 1 0 3.2 0a1.6 1.6 0 1 0 -3.2 0M263.40 87.11a1.6 1.6 0 1 0 3.2 0a1.6 1.6 0 1 0 -3.2 0M264.40 86.64a1.6 1.6 0 1 0 3.2 0a1.6 1.6 0 1 0 -3.2 0M265.40 86.45a1.6 1.6 0 1 0 3.2 0a1.6 1.6 0 1 0 -3.2 0M266.40 86.08a1.6 1.6 0 1 0 3.2 0a1.6 1.6 0 1 0 -3.2 0M267.40 85.49a1.6 1.6 0 1 0 3.2 0a1.6 1.6 0 1 0 -3.2 0M268.40 85.06a1.6 1.6 0 1 0 3.2 0a1.6 1.6 0 1 0 -3.2 0M269.40 84.77a1.6 1.6 0 1 0 3.2 0a1.6 1.6 0 1 0 -3.2 0M270.40 84.17a1.6 1.6 0 1 0 3.2 0a1.6 1.6 0 1 0 -3.2 0M271.40 83.83a1.6 1.6 0 1 0 3.2 0a1.6 1.6 0 1 0 -3.2 0M272.40 83.44a1.6 1.6 0 1 0 3.2 0a1.6 1.6 0 1 0 -3.2 0M273.40 83.25a1.6 1.6 0 1 0 3.2 0a1.6 1.6 0 1 0 -3.2 0M274.40 82.82a1.6 1.6 0 1 0 3.2 0a1.6 1.6 0 1 0 -3.2 0M275.40 82.49a1.6 1.6 0 1 0 3.2 0a1.6 1.6 0 1 0 -3.2 0M276.40 82.43a1.6 1.6 0 1 0 3.2 0a1.6 1.6 0 1 0 -3.2 0M277.40 82.32a1.6 1.6 0 1 0 3.2 0a1.6 1.6 0 1 0 -3.2 0M278.40 81.83a1.6 1.6 0 1 0 3.2 0a1.6 1.6 0 1 0 -3.2 0M279.40 81.75a1.6 1.6 0 1 0 3.2 0a1.6 1.6 0 1 0 -3.2 0M280.40 81.35a1.6 1.6 0 1 0 3.2 0a1.6 1.6 0 1 0 -3.2 0M281.40 81.16a1.6 1.6 0 1 0 3.2 0a1.6 1.6 0 1 0 -3.2 0M282.40 80.58a1.6 1.6 0 1 0 3.2 0a1.6 1.6 0 1 0 -3.2 0M283.40 79.80a1.6 1.6 0 1 0 3.2 0a1.6 1.6 0 1 0 -3.2 0M284.40 78.86a1.6 1.6 0 1 0 3.2 0a1.6 1.6 0 1 0 -3.2 0M285.40 77.27a1.6 1.6 0 1 0 3.2 0a1.6 1.6 0 1 0 -3.2 0M286.40 75.58a1.6 1.6 0 1 0 3.2 0a1.6 1.6 0 1 0 -3.2 0M287.40 73.65a1.6 1.6 0 1 0 3.2 0a1.6 1.6 0 1 0 -3.2 0M288.40 71.84a1.6 1.6 0 1 0 3.2 0a1.6 1.6 0 1 0 -3.2 0M289.40 70.14a1.6 1.6 0 1 0 3.2 0a1.6 1.6 0 1 0 -3.2 0M290.40 68.40a1.6 1.6 0 1 0 3.2 0a1.6 1.6 0 1 0 -3.2 0M291.40 67.04a1.6 1.6 0 1 0 3.2 0a1.6 1.6 0 1 0 -3.2 0M292.40 65.53a1.6 1.6 0 1 0 3.2 0a1.6 1.6 0 1 0 -3.2 0M293.40 64.75a1.6 1.6 0 1 0 3.2 0a1.6 1.6 0 1 0 -3.2 0M294.40 63.56a1.6 1.6 0 1 0 3.2 0a1.6 1.6 0 1 0 -3.2 0M295.40 62.76a1.6 1.6 0 1 0 3.2 0a1.6 1.6 0 1 0 -3.2 0M296.40 61.97a1.6 1.6 0 1 0 3.2 0a1.6 1.6 0 1 0 -3.2 0M297.40 61.37a1.6 1.6 0 1 0 3.2 0a1.6 1.6 0 1 0 -3.2 0M298.40 60.67a1.6 1.6 0 1 0 3.2 0a1.6 1.6 0 1 0 -3.2 0M299.40 60.01a1.6 1.6 0 1 0 3.2 0a1.6 1.6 0 1 0 -3.2 0M300.40 59.65a1.6 1.6 0 1 0 3.2 0a1.6 1.6 0 1 0 -3.2 0M301.40 59.69a1.6 1.6 0 1 0 3.2 0a1.6 1.6 0 1 0 -3.2 0M302.40 59.80a1.6 1.6 0 1 0 3.2 0a1.6 1.6 0 1 0 -3.2 0M303.40 59.69a1.6 1.6 0 1 0 3.2 0a1.6 1.6 0 1 0 -3.2 0M304.40 59.88a1.6 1.6 0 1 0 3.2 0a1.6 1.6 0 1 0 -3.2 0M305.40 59.94a1.6 1.6 0 1 0 3.2 0a1.6 1.6 0 1 0 -3.2 0M306.40 59.42a1.6 1.6 0 1 0 3.2 0a1.6 1.6 0 1 0 -3.2 0M307.40 58.79a1.6 1.6 0 1 0 3.2 0a1.6 1.6 0 1 0 -3.2 0M308.40 58.16a1.6 1.6 0 1 0 3.2 0a1.6 1.6 0 1 0 -3.2 0M309.40 57.72a1.6 1.6 0 1 0 3.2 0a1.6 1.6 0 1 0 -3.2 0M310.40 57.18a1.6 1.6 0 1 0 3.2 0a1.6 1.6 0 1 0 -3.2 0M311.40 56.81a1.6 1.6 0 1 0 3.2 0a1.6 1.6 0 1 0 -3.2 0M312.40 56.27a1.6 1.6 0 1 0 3.2 0a1.6 1.6 0 1 0 -3.2 0M313.40 55.54a1.6 1.6 0 1 0 3.2 0a1.6 1.6 0 1 0 -3.2 0M314.40 55.06a1.6 1.6 0 1 0 3.2 0a1.6 1.6 0 1 0 -3.2 0M315.40 54.67a1.6 1.6 0 1 0 3.2 0a1.6 1.6 0 1 0 -3.2 0M316.40 54.27a1.6 1.6 0 1 0 3.2 0a1.6 1.6 0 1 0 -3.2 0M317.40 54.16a1.6 1.6 0 1 0 3.2 0a1.6 1.6 0 1 0 -3.2 0M318.40 53.93a1.6 1.6 0 1 0 3.2 0a1.6 1.6 0 1 0 -3.2 0M319.40 53.67a1.6 1.6 0 1 0 3.2 0a1.6 1.6 0 1 0 -3.2 0M320.40 53.17a1.6 1.6 0 1 0 3.2 0a1.6 1.6 0 1 0 -3.2 0M321.40 53.23a1.6 1.6 0 1 0 3.2 0a1.6 1.6 0 1 0 -3.2 0M322.40 52.88a1.6 1.6 0 1 0 3.2 0a1.6 1.6 0 1 0 -3.2 0M323.40 52.81a1.6 1.6 0 1 0 3.2 0a1.6 1.6 0 1 0 -3.2 0M324.40 52.83a1.6 1.6 0 1 0 3.2 0a1.6 1.6 0 1 0 -3.2 0M325.40 52.50a1.6 1.6 0 1 0 3.2 0a1.6 1.6 0 1 0 -3.2 0M326.40 52.45a1.6 1.6 0 1 0 3.2 0a1.6 1.6 0 1 0 -3.2 0M327.40 52.78a1.6 1.6 0 1 0 3.2 0a1.6 1.6 0 1 0 -3.2 0M328.40 53.60a1.6 1.6 0 1 0 3.2 0a1.6 1.6 0 1 0 -3.2 0M329.40 54.44a1.6 1.6 0 1 0 3.2 0a1.6 1.6 0 1 0 -3.2 0M330.40 54.32a1.6 1.6 0 1 0 3.2 0a1.6 1.6 0 1 0 -3.2 0M331.40 53.89a1.6 1.6 0 1 0 3.2 0a1.6 1.6 0 1 0 -3.2 0M332.40 53.14a1.6 1.6 0 1 0 3.2 0a1.6 1.6 0 1 0 -3.2 0" fill="none" stroke="#3c7dc2" stroke-width="0.5"/>
<path d="M188.40 93.13a1.6 1.6 0 1 0 3.2 0a1.6 1.6 0 1 0 -3.2 0M189.40 93.19a1.6 1.6 0 1 0 3.2 0a1.6 1.6 0 1 0 -3.2 0M190.40 93.23a1.6 1.6 0 1 0 3.2 0a1.6 1.6 0 1 0 -3.2 0M191.40 93.13a1.6 1.6 0 1 0 3.2 0a1.6 1.6 0 1 0 -3.2 0M192.40 93.30a1.6 1.6 0 1 0 3.2 0a1.6 1.6 0 1 0 -3.2 0M193.40 93.46a1.6 1.6 0 1 0 3.2 0a1.6 1.6 0 1 0 -3.2 0M194.40 93.25a1.6 1.6 0 1 0 3.2 0a1.6 1.6 0 1 0 -3.2 0M195.40 93.33a1.6 1.6 0 1 0 3.2 0a1.6 1.6 0 1 0 -3.2 0M196.40 93.17a1.6 1.6 0 1 0 3.2 0a1.6 1.6 0 1 0 -3.2 0M197.40 93.25a1.6 1.6 0 1 0 3.2 0a1.6 1.6 0 1 0 -3.2 0M198.40 93.42a1.6 1.6 0 1 0 3.2 0a1.6 1.6 0 1 0 -3.2 0M199.40 93.22a1.6 1.6 0 1 0 3.2 0a1.6 1.6 0 1 0 -3.2 0M200.40 93.54a1.6 1.6 0 1 0 3.2 0a1.6 1.6 0 1 0 -3.2 0M201.40 93.56a1.6 1.6 0 1 0 3.2 0a1.6 1.6 0 1 0 -3.2 0M202.40 93.25a1.6 1.6 0 1 0 3.2 0a1.6 1.6 0 1 0 -3.2 0M203.40 93.61a1.6 1.6 0 1 0 3.2 0a1.6 1.6 0 1 0 -3.2 0M204.40 93.39a1.6 1.6 0 1 0 3.2 0a1.6 1.6 0 1 0 -3.2 0M205.40 93.57a1.6 1.6 0 1 0 3.2 0a1.6 1.6 0 1 0 -3.2 0M206.40 93.57a1.6 1.6 0 1 0 3.2 0a1.6 1.6 0 1 0 -3.2 0M207.40 93.40a1.6 1.6 0 1 0 3.2 0a1.6 1.6 0 1 0 -3.2 0M208.40 93.57a1.6 1.6 0 1 0 3.2 0a1.6 1.6 0 1 0 -3.2 0M209.40 93.58a1.6 1.6 0 1 0 3.2 0a1.6 1.6 0 1 0 -3.2 0M210.40 93.65a1.6 1.6 0 1 0 3.2 0a1.6 1.6 0 1 0 -3.2 0M211.40 93.45a1.6 1.6 0 1 0 3.2 0a1.6 1.6 0 1 0 -3.2 0M212.40 93.66a1.6 1.6 0 1 0 3.2 0a1.6 1.6 0 1 0 -3.2 0M213.40 93.76a1.6 1.6 0 1 0 3.2 0a1.6 1.6 0 1 0 -3.2 0M214.40 93.65a1.6 1.6 0 1 0 3.2 0a1.6 1.6 0 1 0 -3.2 0M215.40 93.61a1.6 1.6 0 1 0 3.2 0a1.6 1.6 0 1 0 -3.2 0M216.40 93.46a1.6 1.6 0 1 0 3.2 0a1.6 1.6 0 1 0 -3.2 0M217.40 93.63a1.6 1.6 0 1 0 3.2 0a1.6 1.6 0 1 0 -3.2 0M218.40 93.58a1.6 1.6 0 1 0 3.2 0a1.6 1.6 0 1 0 -3.2 0M219.40 93.75a1.6 1.6 0 1 0 3.2 0a1.6 1.6 0 1 0 -3.2 0M220.40 93.75a1.6 1.6 0 1 0 3.2 0a1.6 1.6 0 1 0 -3.2 0M221.40 93.72a1.6 1.6 0 1 0 3.2 0a1.6 1.6 0 1 0 -3.2 0M222.40 93.58a1.6 1.6 0 1 0 3.2 0a1.6 1.6 0 1 0 -3.2 0M223.40 93.78a1.6 1.6 0 1 0 3.2 0a1.6 1.6 0 1 0 -3.2 0M224.40 93.79a1.6 1.6 0 1 0 3.2 0a1.6 1.6 0 1 0 -3.2 0M225.40 93.62a1.6 1.6 0 1 0 3.2 0a1.6 1.6 0 1 0 -3.2 0M226.40 93.92a1.6 1.6 0 1 0 3.2 0a1.6 1.6 0 1 0 -3.2 0M227.40 93.85a1.6 1.6 0 1 0 3.2 0a1.6 1.6 0 1 0 -3.2 0M228.40 93.65a1.6 1.6 0 1 0 3.2 0a1.6 1.6 0 1 0 -3.2 0M229.40 93.99a1.6 1.6 0 1 0 3.2 0a1.6 1.6 0 1 0 -3.2 0M230.40 93.69a1.6 1.6 0 1 0 3.2 0a1.6 1.6 0 1 0 -3.2 0M231.40 93.78a1.6 1.6 0 1 0 3.2 0a1.6 1.6 0 1 0 -3.2 0M232.40 93.96a1.6 1.6 0 1 0 3.2 0a1.6 1.6 0 1 0 -3.2 0M233.40 93.93a1.6 1.6 0 1 0 3.2 0a1.6 1.6 0 1 0 -3.2 0M234.40 93.93a1.6 1.6 0 1 0 3.2 0a1.6 1.6 0 1 0 -3.2 0M235.40 93.98a1.6 1.6 0 1 0 3.2 0a1.6 1.6 0 1 0 -3.2 0M236.40 93.93a1.6 1.6 0 1 0 3.2 0a1.6 1.6 0 1 0 -3.2 0M237.40 93.89a1.6 1.6 0 1 0 3.2 0a1.6 1.6 0 1 0 -3.2 0M238.40 93.85a1.6 1.6 0 1 0 3.2 0a1.6 1.6 0 1 0 -3.2 0M239.40 93.83a1.6 1.6 0 1 0 3.2 0a1.6 1.6 0 1 0 -3.2 0M240.40 94.11a1.6 1.6 0 1 0 3.2 0a1.6 1.6 0 1 0 -3.2 0M241.40 94.14a1.6 1.6 0 1 0 3.2 0a1.6 1.6 0 1 0 -3.2 0M242.40 94.08a1.6 1.6 0 1 0 3.2 0a1.6 1.6 0 1 0 -3.2 0M243.40 94.18a1.6 1.6 0 1 0 3.2 0a1.6 1.6 0 1 0 -3.2 0M244.40 94.05a1.6 1.6 0 1 0 3.2 0a1.6 1.6 0 1 0 -3.2 0M245.40 94.04a1.6 1.6 0 1 0 3.2 0a1.6 1.6 0 1 0 -3.2 0M246.40 94.11a1.6 1.6 0 1 0 3.2 0a1.6 1.6 0 1 0 -3.2 0M247.40 94.33a1.6 1.6 0 1 0 3.2 0a1.6 1.6 0 1 0 -3.2 0M248.40 94.02a1.6 1.6 0 1 0 3.2 0a1.6 1.6 0 1 0 -3.2 0M249.40 94.23a1.6 1.6 0 1 0 3.2 0a1.6 1.6 0 1 0 -3.2 0M250.40 94.15a1.6 1.6 0 1 0 3.2 0a1.6 1.6 0 1 0 -3.2 0M251.40 94.38a1.6 1.6 0 1 0 3.2 0a1.6 1.6 0 1 0 -3.2 0M252.40 94.25a1.6 1.6 0 1 0 3.2 0a1.6 1.6 0 1 0 -3.2 0M253.40 94.27a1.6 1.6 0 1 0 3.2 0a1.6 1.6 0 1 0 -3.2 0M254.40 94.32a1.6 1.6 0 1 0 3.2 0a1.6 1.6 0 1 0 -3.2 0M255.40 94.41a1.6 1.6 0 1 0 3.2 0a1.6 1.6 0 1 0 -3.2 0M256.40 94.53a1.6 1.6 0 1 0 3.2 0a1.6 1.6 0 1 0 -3.2 0M257.40 94.40a1.6 1.6 0 1 0 3.2 0a1.6 1.6 0 1 0 -3.2 0M258.40 94.63a1.6 1.6 0 1 0 3.2 0a1.6 1.6 0 1 0 -3.2 0M259.40 94.37a1.6 1.6 0 1 0 3.2 0a1.6 1.6 0 1 0 -3.2 0M260.40 94.47a1.6 1.6 0 1 0 3.2 0a1.6 1.6 0 1 0 -3.2 0M261.40 94.44a1.6 1.6 0 1 0 3.2 0a1.6 1.6 0 1 0 -3.2 0M262.40 94.49a1.6 1.6 0 1 0 3.2 0a1.6 1.6 0 1 0 -3.2 0M263.40 94.79a1.6 1.6 0 1 0 3.2 0a1.6 1.6 0 1 0 -3.2 0M264.40 94.82a1.6 1.6 0 1 0 3.2 0a1.6 1.6 0 1 0 -3.2 0M265.40 94.64a1.6 1.6 0 1 0 3.2 0a1.6 1.6 0 1 0 -3.2 0M266.40 94.69a1.6 1.6 0 1 0 3.2 0a1.6 1.6 0 1 0 -3.2 0M267.40 94.83a1.6 1.6 0 1 0 3.2 0a1.6 1.6 0 1 0 -3.2 0M268.40 95.01a1.6 1.6 0 1 0 3.2 0a1.6 1.6 0 1 0 -3.2 0M269.40 95.09a1.6 1.6 0 1 0 3.2 0a1.6 1.6 0 1 0 -3.2 0M270.40 95.11a1.6 1.6 0 1 0 3.2 0a1.6 1.6 0 1 0 -3.2 0M271.40 95.09a1.6 1.6 0 1 0 3.2 0a1.6 1.6 0 1 0 -3.2 0M272.40 94.96a1.6 1.6 0 1 0 3.2 0a1.6 1.6 0 1 0 -3.2 0M273.40 95.11a1.6 1.6 0 1 0 3.2 0a1.6 1.6 0 1 0 -3.2 0M274.40 95.08a1.6 1.6 0 1 0 3.2 0a1.6 1.6 0 1 0 -3.2 0M275.40 95.27a1.6 1.6 0 1 0 3.2 0a1.6 1.6 0 1 0 -3.2 0M276.40 95.35a1.6 1.6 0 1 0 3.2 0a1.6 1.6 0 1 0 -3.2 0M277.40 95.28a1.6 1.6 0 1 0 3.2 0a1.6 1.6 0 1 0 -3.2 0M278.40 95.38a1.6 1.6 0 1 0 3.2 0a1.6 1.6 0 1 0 -3.2 0M279.40 95.69a1.6 1.6 0 1 0 3.2 0a1.6 1.6 0 1 0 -3.2 0M280.40 95.50a1.6 1.6 0 1 0 3.2 0a1.6 1.6 0 1 0 -3.2 0M281.40 95.93a1.6 1.6 0 1 0 3.2 0a1.6 1.6 0 1 0 -3.2 0M282.40 96.11a1.6 1.6 0 1 0 3.2 0a1.6 1.6 0 1 0 -3.2 0M283.40 96.29a1.6 1.6 0 1 0 3.2 0a1.6 1.6 0 1 0 -3.2 0M284.40 96.31a1.6 1.6 0 1 0 3.2 0a1.6 1.6 0 1 0 -3.2 0M285.40 97.00a1.6 1.6 0 1 0 3.2 0a1.6 1.6 0 1 0 -3.2 0M286.40 97.96a1.6 1.6 0 1 0 3.2 0a1.6 1.6 0 1 0 -3.2 0M287.40 99.09a1.6 1.6 0 1 0 3.2 0a1.6 1.6 0 1 0 -3.2 0M288.40 100.52a1.6 1.6 0 1 0 3.2 0a1.6 1.6 0 1 0 -3.2 0M289.40 102.23a1.6 1.6 0 1 0 3.2 0a1.6 1.6 0 1 0 -3.2 0M290.40 104.13a1.6 1.6 0 1 0 3.2 0a1.6 1.6 0 1 0 -3.2 0M291.40 106.23a1.6 1.6 0 1 0 3.2 0a1.6 1.6 0 1 0 -3.2 0M292.40 107.51a1.6 1.6 0 1 0 3.2 0a1.6 1.6 0 1 0 -3.2 0M293.40 108.83a1.6 1.6 0 1 0 3.2 0a1.6 1.6 0 1 0 -3.2 0M294.40 110.05a1.6 1.6 0 1 0 3.2 0a1.6 1.6 0 1 0 -3.2 0M295.40 110.83a1.6 1.6 0 1 0 3.2 0a1.6 1.6 0 1 0 -3.2 0M296.40 112.14a1.6 1.6 0 1 0 3.2 0a1.6 1.6 0 1 0 -3.2 0M297.40 113.03a1.6 1.6 0 1 0 3.2 0a1.6 1.6 0 1 0 -3.2 0M298.40 113.82a1.6 1.6 0 1 0 3.2 0a1.6 1.6 0 1 0 -3.2 0M299.40 114.61a1.6 1.6 0 1 0 3.2 0a1.6 1.6 0 1 0 -3.2 0M300.40 115.33a1.6 1.6 0 1 0 3.2 0a1.6 1.6 0 1 0 -3.2 0M301.40 115.96a1.6 1.6 0 1 0 3.2 0a1.6 1.6 0 1 0 -3.2 0M302.40 116.85a1.6 1.6 0 1 0 3.2 0a1.6 1.6 0 1 0 -3.2 0M303.40 117.45a1.6 1.6 0 1 0 3.2 0a1.6 1.6 0 1 0 -3.2 0M304.40 118.50a1.6 1.6 0 1 0 3.2 0a1.6 1.6 0 1 0 -3.2 0M305.40 119.49a1.6 1.6 0 1 0 3.2 0a1.6 1.6 0 1 0 -3.2 0M306.40 120.37a1.6 1.6 0 1 0 3.2 0a1.6 1.6 0 1 0 -3.2 0M307.40 121.38a1.6 1.6 0 1 0 3.2 0a1.6 1.6 0 1 0 -3.2 0M308.40 122.47a1.6 1.6 0 1 0 3.2 0a1.6 1.6 0 1 0 -3.2 0M309.40 123.32a1.6 1.6 0 1 0 3.2 0a1.6 1.6 0 1 0 -3.2 0M310.40 123.81a1.6 1.6 0 1 0 3.2 0a1.6 1.6 0 1 0 -3.2 0M311.40 124.94a1.6 1.6 0 1 0 3.2 0a1.6 1.6 0 1 0 -3.2 0M312.40 125.72a1.6 1.6 0 1 0 3.2 0a1.6 1.6 0 1 0 -3.2 0M313.40 126.08a1.6 1.6 0 1 0 3.2 0a1.6 1.6 0 1 0 -3.2 0M314.40 126.33a1.6 1.6 0 1 0 3.2 0a1.6 1.6 0 1 0 -3.2 0M315.40 126.11a1.6 1.6 0 1 0 3.2 0a1.6 1.6 0 1 0 -3.2 0M316.40 125.79a1.6 1.6 0 1 0 3.2 0a1.6 1.6 0 1 0 -3.2 0M317.40 125.76a1.6 1.6 0 1 0 3.2 0a1.6 1.6 0 1 0 -3.2 0M318.40 125.88a1.6 1.6 0 1 0 3.2 0a1.6 1.6 0 1 0 -3.2 0M319.40 125.74a1.6 1.6 0 1 0 3.2 0a1.6 1.6 0 1 0 -3.2 0M320.40 126.15a1.6 1.6 0 1 0 3.2 0a1.6 1.6 0 1 0 -3.2 0M321.40 126.32a1.6 1.6 0 1 0 3.2 0a1.6 1.6 0 1 0 -3.2 0M322.40 126.36a1.6 1.6 0 1 0 3.2 0a1.6 1.6 0 1 0 -3.2 0M323.40 126.90a1.6 1.6 0 1 0 3.2 0a1.6 1.6 0 1 0 -3.2 0M324.40 127.01a1.6 1.6 0 1 0 3.2 0a1.6 1.6 0 1 0 -3.2 0M325.40 127.30a1.6 1.6 0 1 0 3.2 0a1.6 1.6 0 1 0 -3.2 0M326.40 127.36a1.6 1.6 0 1 0 3.2 0a1.6 1.6 0 1 0 -3.2 0M327.40 127.51a1.6 1.6 0 1 0 3.2 0a1.6 1.6 0 1 0 -3.2 0M328.40 127.49a1.6 1.6 0 1 0 3.2 0a1.6 1.6 0 1 0 -3.2 0M329.40 127.81a1.6 1.6 0 1 0 3.2 0a1.6 1.6 0 1 0 -3.2 0M330.40 127.99a1.6 1.6 0 1 0 3.2 0a1.6 1.6 0 1 0 -3.2 0M331.40 128.09a1.6 1.6 0 1 0 3.2 0a1.6 1.6 0 1 0 -3.2 0M332.40 128.06a1.6 1.6 0 1 0 3.2 0a1.6 1.6 0 1 0 -3.2 0" fill="none" stroke="#e0a93c" stroke-width="0.5"/>
<text x="356.50" y="12.90" font-size="16" fill="#231f20" stroke="#231f20" stroke-width="0.2" text-anchor="start">G</text>
<text x="382.80" y="21.30" font-size="10.8" fill="#231f20" stroke="#231f20" stroke-width="0.2">37 °C, [Ca<tspan font-size="7.99" dy="-4.97">2+</tspan><tspan dy="4.97">]</tspan><tspan font-size="7.34" dy="3.02">i</tspan><tspan dy="-3.02">= 0 μM</tspan></text>
<text x="368.00" y="33.50" font-size="9.2" fill="#231f20" stroke="#231f20" stroke-width="0.2" text-anchor="start">DAB (μM)</text>
<line x1="366.70" y1="47.40" x2="385.40" y2="47.40" stroke="#b8904a" stroke-width="1.5"/>
<line x1="385.90" y1="47.40" x2="404.30" y2="47.40" stroke="#74c04a" stroke-width="1.5"/>
<line x1="405.30" y1="47.40" x2="444.60" y2="47.40" stroke="#e2489a" stroke-width="1.5"/>
<line x1="445.70" y1="47.40" x2="470.70" y2="47.40" stroke="#7a78c6" stroke-width="1.5"/>
<line x1="471.50" y1="47.40" x2="491.90" y2="47.40" stroke="#3eaa78" stroke-width="1.5"/>
<line x1="492.70" y1="47.40" x2="507.70" y2="47.40" stroke="#e8703a" stroke-width="1.5"/>
<text x="367.70" y="45.10" font-size="9.0" fill="#b8904a" stroke="#b8904a" stroke-width="0.2" text-anchor="start">0.03</text>
<text x="390.70" y="45.10" font-size="9.0" fill="#74c04a" stroke="#74c04a" stroke-width="0.2" text-anchor="start">0.1</text>
<text x="417.50" y="45.10" font-size="9.0" fill="#e2489a" stroke="#e2489a" stroke-width="0.2" text-anchor="start">0.3</text>
<text x="457.10" y="45.10" font-size="9.0" fill="#7a78c6" stroke="#7a78c6" stroke-width="0.2" text-anchor="start">1</text>
<text x="477.60" y="45.10" font-size="9.0" fill="#3eaa78" stroke="#3eaa78" stroke-width="0.2" text-anchor="start">3</text>
<text x="495.40" y="45.10" font-size="9.0" fill="#e8703a" stroke="#e8703a" stroke-width="0.2" text-anchor="start">10</text>
<path d="M372.60 61.25V75.80H395.90" fill="none" stroke="#333" stroke-width="1"/>
<text x="368.40" y="78.75" font-size="9" fill="#231f20" stroke="#231f20" stroke-width="0.2" text-anchor="start" transform="rotate(-90 368.40 78.75)">2 nA</text>
<text x="373.40" y="86.70" font-size="9" fill="#231f20" stroke="#231f20" stroke-width="0.2" text-anchor="start">100 s</text>
<circle cx="370.1" cy="108.2" r="1.5" fill="none" stroke="#3c7dc2" stroke-width="0.7"/>
<circle cx="370.1" cy="121" r="1.5" fill="none" stroke="#e0a93c" stroke-width="0.7"/>
<text x="382.10" y="111.30" font-size="9.3" fill="#231f20" stroke="#231f20" stroke-width="0.2" text-anchor="start">+100 mV</text>
<text x="382.10" y="123.50" font-size="9.3" fill="#231f20" stroke="#231f20" stroke-width="0.2" text-anchor="start">-100 mV</text>
<path d="M354.70 91.60a1.4 1.4 0 1 0 2.8 0a1.4 1.4 0 1 0 -2.8 0M355.70 91.50a1.4 1.4 0 1 0 2.8 0a1.4 1.4 0 1 0 -2.8 0M356.70 91.36a1.4 1.4 0 1 0 2.8 0a1.4 1.4 0 1 0 -2.8 0M357.70 91.34a1.4 1.4 0 1 0 2.8 0a1.4 1.4 0 1 0 -2.8 0M358.70 91.36a1.4 1.4 0 1 0 2.8 0a1.4 1.4 0 1 0 -2.8 0M359.70 91.42a1.4 1.4 0 1 0 2.8 0a1.4 1.4 0 1 0 -2.8 0M360.70 91.41a1.4 1.4 0 1 0 2.8 0a1.4 1.4 0 1 0 -2.8 0M361.70 91.55a1.4 1.4 0 1 0 2.8 0a1.4 1.4 0 1 0 -2.8 0M362.70 91.64a1.4 1.4 0 1 0 2.8 0a1.4 1.4 0 1 0 -2.8 0M363.70 91.58a1.4 1.4 0 1 0 2.8 0a1.4 1.4 0 1 0 -2.8 0M364.70 91.54a1.4 1.4 0 1 0 2.8 0a1.4 1.4 0 1 0 -2.8 0M365.70 91.64a1.4 1.4 0 1 0 2.8 0a1.4 1.4 0 1 0 -2.8 0M366.70 91.51a1.4 1.4 0 1 0 2.8 0a1.4 1.4 0 1 0 -2.8 0M367.70 91.58a1.4 1.4 0 1 0 2.8 0a1.4 1.4 0 1 0 -2.8 0M368.70 91.71a1.4 1.4 0 1 0 2.8 0a1.4 1.4 0 1 0 -2.8 0M369.70 91.57a1.4 1.4 0 1 0 2.8 0a1.4 1.4 0 1 0 -2.8 0M370.70 91.49a1.4 1.4 0 1 0 2.8 0a1.4 1.4 0 1 0 -2.8 0M371.70 91.79a1.4 1.4 0 1 0 2.8 0a1.4 1.4 0 1 0 -2.8 0M372.70 91.73a1.4 1.4 0 1 0 2.8 0a1.4 1.4 0 1 0 -2.8 0M373.70 91.59a1.4 1.4 0 1 0 2.8 0a1.4 1.4 0 1 0 -2.8 0M374.70 91.61a1.4 1.4 0 1 0 2.8 0a1.4 1.4 0 1 0 -2.8 0M375.70 91.68a1.4 1.4 0 1 0 2.8 0a1.4 1.4 0 1 0 -2.8 0M376.70 91.72a1.4 1.4 0 1 0 2.8 0a1.4 1.4 0 1 0 -2.8 0M377.70 91.58a1.4 1.4 0 1 0 2.8 0a1.4 1.4 0 1 0 -2.8 0M378.70 91.50a1.4 1.4 0 1 0 2.8 0a1.4 1.4 0 1 0 -2.8 0M379.70 91.60a1.4 1.4 0 1 0 2.8 0a1.4 1.4 0 1 0 -2.8 0M380.70 91.85a1.4 1.4 0 1 0 2.8 0a1.4 1.4 0 1 0 -2.8 0M381.70 91.61a1.4 1.4 0 1 0 2.8 0a1.4 1.4 0 1 0 -2.8 0M382.70 91.76a1.4 1.4 0 1 0 2.8 0a1.4 1.4 0 1 0 -2.8 0M383.70 91.68a1.4 1.4 0 1 0 2.8 0a1.4 1.4 0 1 0 -2.8 0M384.70 91.71a1.4 1.4 0 1 0 2.8 0a1.4 1.4 0 1 0 -2.8 0M385.70 91.72a1.4 1.4 0 1 0 2.8 0a1.4 1.4 0 1 0 -2.8 0M386.70 91.84a1.4 1.4 0 1 0 2.8 0a1.4 1.4 0 1 0 -2.8 0M387.70 91.77a1.4 1.4 0 1 0 2.8 0a1.4 1.4 0 1 0 -2.8 0M388.70 91.74a1.4 1.4 0 1 0 2.8 0a1.4 1.4 0 1 0 -2.8 0M389.70 91.80a1.4 1.4 0 1 0 2.8 0a1.4 1.4 0 1 0 -2.8 0M390.70 91.85a1.4 1.4 0 1 0 2.8 0a1.4 1.4 0 1 0 -2.8 0M391.70 92.00a1.4 1.4 0 1 0 2.8 0a1.4 1.4 0 1 0 -2.8 0M392.70 91.85a1.4 1.4 0 1 0 2.8 0a1.4 1.4 0 1 0 -2.8 0M393.70 91.86a1.4 1.4 0 1 0 2.8 0a1.4 1.4 0 1 0 -2.8 0M394.70 92.05a1.4 1.4 0 1 0 2.8 0a1.4 1.4 0 1 0 -2.8 0M395.70 92.04a1.4 1.4 0 1 0 2.8 0a1.4 1.4 0 1 0 -2.8 0M396.70 92.17a1.4 1.4 0 1 0 2.8 0a1.4 1.4 0 1 0 -2.8 0M397.70 91.92a1.4 1.4 0 1 0 2.8 0a1.4 1.4 0 1 0 -2.8 0M398.70 92.06a1.4 1.4 0 1 0 2.8 0a1.4 1.4 0 1 0 -2.8 0M399.70 92.02a1.4 1.4 0 1 0 2.8 0a1.4 1.4 0 1 0 -2.8 0M400.70 91.78a1.4 1.4 0 1 0 2.8 0a1.4 1.4 0 1 0 -2.8 0M401.70 92.01a1.4 1.4 0 1 0 2.8 0a1.4 1.4 0 1 0 -2.8 0M402.70 91.52a1.4 1.4 0 1 0 2.8 0a1.4 1.4 0 1 0 -2.8 0M403.70 91.26a1.4 1.4 0 1 0 2.8 0a1.4 1.4 0 1 0 -2.8 0M404.70 91.19a1.4 1.4 0 1 0 2.8 0a1.4 1.4 0 1 0 -2.8 0M405.70 90.80a1.4 1.4 0 1 0 2.8 0a1.4 1.4 0 1 0 -2.8 0M406.70 90.59a1.4 1.4 0 1 0 2.8 0a1.4 1.4 0 1 0 -2.8 0M407.70 89.98a1.4 1.4 0 1 0 2.8 0a1.4 1.4 0 1 0 -2.8 0M408.70 89.31a1.4 1.4 0 1 0 2.8 0a1.4 1.4 0 1 0 -2.8 0M409.70 88.64a1.4 1.4 0 1 0 2.8 0a1.4 1.4 0 1 0 -2.8 0M410.70 88.25a1.4 1.4 0 1 0 2.8 0a1.4 1.4 0 1 0 -2.8 0M411.70 87.41a1.4 1.4 0 1 0 2.8 0a1.4 1.4 0 1 0 -2.8 0M412.70 86.93a1.4 1.4 0 1 0 2.8 0a1.4 1.4 0 1 0 -2.8 0M413.70 86.05a1.4 1.4 0 1 0 2.8 0a1.4 1.4 0 1 0 -2.8 0M414.70 85.44a1.4 1.4 0 1 0 2.8 0a1.4 1.4 0 1 0 -2.8 0M415.70 84.35a1.4 1.4 0 1 0 2.8 0a1.4 1.4 0 1 0 -2.8 0M416.70 83.48a1.4 1.4 0 1 0 2.8 0a1.4 1.4 0 1 0 -2.8 0M417.70 82.63a1.4 1.4 0 1 0 2.8 0a1.4 1.4 0 1 0 -2.8 0M418.70 81.99a1.4 1.4 0 1 0 2.8 0a1.4 1.4 0 1 0 -2.8 0M419.70 80.96a1.4 1.4 0 1 0 2.8 0a1.4 1.4 0 1 0 -2.8 0M420.70 79.85a1.4 1.4 0 1 0 2.8 0a1.4 1.4 0 1 0 -2.8 0M421.70 78.75a1.4 1.4 0 1 0 2.8 0a1.4 1.4 0 1 0 -2.8 0M422.70 78.04a1.4 1.4 0 1 0 2.8 0a1.4 1.4 0 1 0 -2.8 0M423.70 77.32a1.4 1.4 0 1 0 2.8 0a1.4 1.4 0 1 0 -2.8 0M424.70 76.49a1.4 1.4 0 1 0 2.8 0a1.4 1.4 0 1 0 -2.8 0M425.70 75.72a1.4 1.4 0 1 0 2.8 0a1.4 1.4 0 1 0 -2.8 0M426.70 75.23a1.4 1.4 0 1 0 2.8 0a1.4 1.4 0 1 0 -2.8 0M427.70 74.82a1.4 1.4 0 1 0 2.8 0a1.4 1.4 0 1 0 -2.8 0M428.70 74.50a1.4 1.4 0 1 0 2.8 0a1.4 1.4 0 1 0 -2.8 0M429.70 74.21a1.4 1.4 0 1 0 2.8 0a1.4 1.4 0 1 0 -2.8 0M430.70 74.07a1.4 1.4 0 1 0 2.8 0a1.4 1.4 0 1 0 -2.8 0M431.70 74.19a1.4 1.4 0 1 0 2.8 0a1.4 1.4 0 1 0 -2.8 0M432.70 74.19a1.4 1.4 0 1 0 2.8 0a1.4 1.4 0 1 0 -2.8 0M433.70 73.83a1.4 1.4 0 1 0 2.8 0a1.4 1.4 0 1 0 -2.8 0M434.70 74.06a1.4 1.4 0 1 0 2.8 0a1.4 1.4 0 1 0 -2.8 0M435.70 73.78a1.4 1.4 0 1 0 2.8 0a1.4 1.4 0 1 0 -2.8 0M436.70 73.83a1.4 1.4 0 1 0 2.8 0a1.4 1.4 0 1 0 -2.8 0M437.70 73.78a1.4 1.4 0 1 0 2.8 0a1.4 1.4 0 1 0 -2.8 0M438.70 73.69a1.4 1.4 0 1 0 2.8 0a1.4 1.4 0 1 0 -2.8 0M439.70 73.24a1.4 1.4 0 1 0 2.8 0a1.4 1.4 0 1 0 -2.8 0M440.70 73.26a1.4 1.4 0 1 0 2.8 0a1.4 1.4 0 1 0 -2.8 0M441.70 73.28a1.4 1.4 0 1 0 2.8 0a1.4 1.4 0 1 0 -2.8 0M442.70 73.29a1.4 1.4 0 1 0 2.8 0a1.4 1.4 0 1 0 -2.8 0M443.70 72.78a1.4 1.4 0 1 0 2.8 0a1.4 1.4 0 1 0 -2.8 0M444.70 72.63a1.4 1.4 0 1 0 2.8 0a1.4 1.4 0 1 0 -2.8 0M445.70 72.27a1.4 1.4 0 1 0 2.8 0a1.4 1.4 0 1 0 -2.8 0M446.70 71.11a1.4 1.4 0 1 0 2.8 0a1.4 1.4 0 1 0 -2.8 0M447.70 70.26a1.4 1.4 0 1 0 2.8 0a1.4 1.4 0 1 0 -2.8 0M448.70 69.12a1.4 1.4 0 1 0 2.8 0a1.4 1.4 0 1 0 -2.8 0M449.70 67.89a1.4 1.4 0 1 0 2.8 0a1.4 1.4 0 1 0 -2.8 0M450.70 66.53a1.4 1.4 0 1 0 2.8 0a1.4 1.4 0 1 0 -2.8 0M451.70 64.80a1.4 1.4 0 1 0 2.8 0a1.4 1.4 0 1 0 -2.8 0M452.70 63.78a1.4 1.4 0 1 0 2.8 0a1.4 1.4 0 1 0 -2.8 0M453.70 62.62a1.4 1.4 0 1 0 2.8 0a1.4 1.4 0 1 0 -2.8 0M454.70 61.53a1.4 1.4 0 1 0 2.8 0a1.4 1.4 0 1 0 -2.8 0M455.70 60.37a1.4 1.4 0 1 0 2.8 0a1.4 1.4 0 1 0 -2.8 0M456.70 59.63a1.4 1.4 0 1 0 2.8 0a1.4 1.4 0 1 0 -2.8 0M457.70 58.73a1.4 1.4 0 1 0 2.8 0a1.4 1.4 0 1 0 -2.8 0M458.70 58.19a1.4 1.4 0 1 0 2.8 0a1.4 1.4 0 1 0 -2.8 0M459.70 57.62a1.4 1.4 0 1 0 2.8 0a1.4 1.4 0 1 0 -2.8 0M460.70 57.40a1.4 1.4 0 1 0 2.8 0a1.4 1.4 0 1 0 -2.8 0M461.70 56.89a1.4 1.4 0 1 0 2.8 0a1.4 1.4 0 1 0 -2.8 0M462.70 56.47a1.4 1.4 0 1 0 2.8 0a1.4 1.4 0 1 0 -2.8 0M463.70 56.14a1.4 1.4 0 1 0 2.8 0a1.4 1.4 0 1 0 -2.8 0M464.70 56.12a1.4 1.4 0 1 0 2.8 0a1.4 1.4 0 1 0 -2.8 0M465.70 55.86a1.4 1.4 0 1 0 2.8 0a1.4 1.4 0 1 0 -2.8 0M466.70 55.71a1.4 1.4 0 1 0 2.8 0a1.4 1.4 0 1 0 -2.8 0M467.70 55.41a1.4 1.4 0 1 0 2.8 0a1.4 1.4 0 1 0 -2.8 0M468.70 55.29a1.4 1.4 0 1 0 2.8 0a1.4 1.4 0 1 0 -2.8 0M469.70 55.00a1.4 1.4 0 1 0 2.8 0a1.4 1.4 0 1 0 -2.8 0M470.70 55.09a1.4 1.4 0 1 0 2.8 0a1.4 1.4 0 1 0 -2.8 0M471.70 54.68a1.4 1.4 0 1 0 2.8 0a1.4 1.4 0 1 0 -2.8 0M472.70 54.72a1.4 1.4 0 1 0 2.8 0a1.4 1.4 0 1 0 -2.8 0M473.70 54.72a1.4 1.4 0 1 0 2.8 0a1.4 1.4 0 1 0 -2.8 0M474.70 54.57a1.4 1.4 0 1 0 2.8 0a1.4 1.4 0 1 0 -2.8 0M475.70 54.23a1.4 1.4 0 1 0 2.8 0a1.4 1.4 0 1 0 -2.8 0M476.70 54.18a1.4 1.4 0 1 0 2.8 0a1.4 1.4 0 1 0 -2.8 0M477.70 54.32a1.4 1.4 0 1 0 2.8 0a1.4 1.4 0 1 0 -2.8 0M478.70 54.14a1.4 1.4 0 1 0 2.8 0a1.4 1.4 0 1 0 -2.8 0M479.70 54.13a1.4 1.4 0 1 0 2.8 0a1.4 1.4 0 1 0 -2.8 0M480.70 54.01a1.4 1.4 0 1 0 2.8 0a1.4 1.4 0 1 0 -2.8 0M481.70 53.72a1.4 1.4 0 1 0 2.8 0a1.4 1.4 0 1 0 -2.8 0M482.70 53.75a1.4 1.4 0 1 0 2.8 0a1.4 1.4 0 1 0 -2.8 0M483.70 53.54a1.4 1.4 0 1 0 2.8 0a1.4 1.4 0 1 0 -2.8 0M484.70 53.24a1.4 1.4 0 1 0 2.8 0a1.4 1.4 0 1 0 -2.8 0M485.70 53.13a1.4 1.4 0 1 0 2.8 0a1.4 1.4 0 1 0 -2.8 0M486.70 52.91a1.4 1.4 0 1 0 2.8 0a1.4 1.4 0 1 0 -2.8 0M487.70 52.98a1.4 1.4 0 1 0 2.8 0a1.4 1.4 0 1 0 -2.8 0M488.70 53.18a1.4 1.4 0 1 0 2.8 0a1.4 1.4 0 1 0 -2.8 0M489.70 52.85a1.4 1.4 0 1 0 2.8 0a1.4 1.4 0 1 0 -2.8 0M490.70 53.06a1.4 1.4 0 1 0 2.8 0a1.4 1.4 0 1 0 -2.8 0M491.70 52.91a1.4 1.4 0 1 0 2.8 0a1.4 1.4 0 1 0 -2.8 0M492.70 52.94a1.4 1.4 0 1 0 2.8 0a1.4 1.4 0 1 0 -2.8 0M493.70 53.20a1.4 1.4 0 1 0 2.8 0a1.4 1.4 0 1 0 -2.8 0M494.70 53.07a1.4 1.4 0 1 0 2.8 0a1.4 1.4 0 1 0 -2.8 0M495.70 53.01a1.4 1.4 0 1 0 2.8 0a1.4 1.4 0 1 0 -2.8 0M496.70 53.06a1.4 1.4 0 1 0 2.8 0a1.4 1.4 0 1 0 -2.8 0M497.70 53.26a1.4 1.4 0 1 0 2.8 0a1.4 1.4 0 1 0 -2.8 0M498.70 53.23a1.4 1.4 0 1 0 2.8 0a1.4 1.4 0 1 0 -2.8 0M499.70 53.00a1.4 1.4 0 1 0 2.8 0a1.4 1.4 0 1 0 -2.8 0M500.70 53.09a1.4 1.4 0 1 0 2.8 0a1.4 1.4 0 1 0 -2.8 0M501.70 53.39a1.4 1.4 0 1 0 2.8 0a1.4 1.4 0 1 0 -2.8 0M502.70 53.09a1.4 1.4 0 1 0 2.8 0a1.4 1.4 0 1 0 -2.8 0M503.70 53.22a1.4 1.4 0 1 0 2.8 0a1.4 1.4 0 1 0 -2.8 0M504.70 53.17a1.4 1.4 0 1 0 2.8 0a1.4 1.4 0 1 0 -2.8 0" fill="none" stroke="#3c7dc2" stroke-width="0.5"/>
<path d="M354.70 96.01a1.4 1.4 0 1 0 2.8 0a1.4 1.4 0 1 0 -2.8 0M355.70 95.95a1.4 1.4 0 1 0 2.8 0a1.4 1.4 0 1 0 -2.8 0M356.70 96.04a1.4 1.4 0 1 0 2.8 0a1.4 1.4 0 1 0 -2.8 0M357.70 95.95a1.4 1.4 0 1 0 2.8 0a1.4 1.4 0 1 0 -2.8 0M358.70 95.82a1.4 1.4 0 1 0 2.8 0a1.4 1.4 0 1 0 -2.8 0M359.70 95.82a1.4 1.4 0 1 0 2.8 0a1.4 1.4 0 1 0 -2.8 0M360.70 95.79a1.4 1.4 0 1 0 2.8 0a1.4 1.4 0 1 0 -2.8 0M361.70 96.10a1.4 1.4 0 1 0 2.8 0a1.4 1.4 0 1 0 -2.8 0M362.70 95.82a1.4 1.4 0 1 0 2.8 0a1.4 1.4 0 1 0 -2.8 0M363.70 95.80a1.4 1.4 0 1 0 2.8 0a1.4 1.4 0 1 0 -2.8 0M364.70 96.18a1.4 1.4 0 1 0 2.8 0a1.4 1.4 0 1 0 -2.8 0M365.70 95.89a1.4 1.4 0 1 0 2.8 0a1.4 1.4 0 1 0 -2.8 0M366.70 96.17a1.4 1.4 0 1 0 2.8 0a1.4 1.4 0 1 0 -2.8 0M367.70 95.86a1.4 1.4 0 1 0 2.8 0a1.4 1.4 0 1 0 -2.8 0M368.70 96.02a1.4 1.4 0 1 0 2.8 0a1.4 1.4 0 1 0 -2.8 0M369.70 95.93a1.4 1.4 0 1 0 2.8 0a1.4 1.4 0 1 0 -2.8 0M370.70 96.18a1.4 1.4 0 1 0 2.8 0a1.4 1.4 0 1 0 -2.8 0M371.70 96.10a1.4 1.4 0 1 0 2.8 0a1.4 1.4 0 1 0 -2.8 0M372.70 96.12a1.4 1.4 0 1 0 2.8 0a1.4 1.4 0 1 0 -2.8 0M373.70 96.18a1.4 1.4 0 1 0 2.8 0a1.4 1.4 0 1 0 -2.8 0M374.70 96.23a1.4 1.4 0 1 0 2.8 0a1.4 1.4 0 1 0 -2.8 0M375.70 96.03a1.4 1.4 0 1 0 2.8 0a1.4 1.4 0 1 0 -2.8 0M376.70 96.14a1.4 1.4 0 1 0 2.8 0a1.4 1.4 0 1 0 -2.8 0M377.70 96.09a1.4 1.4 0 1 0 2.8 0a1.4 1.4 0 1 0 -2.8 0M378.70 95.96a1.4 1.4 0 1 0 2.8 0a1.4 1.4 0 1 0 -2.8 0M379.70 96.26a1.4 1.4 0 1 0 2.8 0a1.4 1.4 0 1 0 -2.8 0M380.70 96.17a1.4 1.4 0 1 0 2.8 0a1.4 1.4 0 1 0 -2.8 0M381.70 96.27a1.4 1.4 0 1 0 2.8 0a1.4 1.4 0 1 0 -2.8 0M382.70 96.04a1.4 1.4 0 1 0 2.8 0a1.4 1.4 0 1 0 -2.8 0M383.70 96.18a1.4 1.4 0 1 0 2.8 0a1.4 1.4 0 1 0 -2.8 0M384.70 96.17a1.4 1.4 0 1 0 2.8 0a1.4 1.4 0 1 0 -2.8 0M385.70 96.28a1.4 1.4 0 1 0 2.8 0a1.4 1.4 0 1 0 -2.8 0M386.70 96.03a1.4 1.4 0 1 0 2.8 0a1.4 1.4 0 1 0 -2.8 0M387.70 96.16a1.4 1.4 0 1 0 2.8 0a1.4 1.4 0 1 0 -2.8 0M388.70 96.22a1.4 1.4 0 1 0 2.8 0a1.4 1.4 0 1 0 -2.8 0M389.70 96.07a1.4 1.4 0 1 0 2.8 0a1.4 1.4 0 1 0 -2.8 0M390.70 96.28a1.4 1.4 0 1 0 2.8 0a1.4 1.4 0 1 0 -2.8 0M391.70 96.37a1.4 1.4 0 1 0 2.8 0a1.4 1.4 0 1 0 -2.8 0M392.70 96.26a1.4 1.4 0 1 0 2.8 0a1.4 1.4 0 1 0 -2.8 0M393.70 96.37a1.4 1.4 0 1 0 2.8 0a1.4 1.4 0 1 0 -2.8 0M394.70 96.37a1.4 1.4 0 1 0 2.8 0a1.4 1.4 0 1 0 -2.8 0M395.70 96.23a1.4 1.4 0 1 0 2.8 0a1.4 1.4 0 1 0 -2.8 0M396.70 96.30a1.4 1.4 0 1 0 2.8 0a1.4 1.4 0 1 0 -2.8 0M397.70 96.58a1.4 1.4 0 1 0 2.8 0a1.4 1.4 0 1 0 -2.8 0M398.70 96.34a1.4 1.4 0 1 0 2.8 0a1.4 1.4 0 1 0 -2.8 0M399.70 96.40a1.4 1.4 0 1 0 2.8 0a1.4 1.4 0 1 0 -2.8 0M400.70 96.29a1.4 1.4 0 1 0 2.8 0a1.4 1.4 0 1 0 -2.8 0M401.70 96.38a1.4 1.4 0 1 0 2.8 0a1.4 1.4 0 1 0 -2.8 0M402.70 96.40a1.4 1.4 0 1 0 2.8 0a1.4 1.4 0 1 0 -2.8 0M403.70 96.75a1.4 1.4 0 1 0 2.8 0a1.4 1.4 0 1 0 -2.8 0M404.70 96.71a1.4 1.4 0 1 0 2.8 0a1.4 1.4 0 1 0 -2.8 0M405.70 96.82a1.4 1.4 0 1 0 2.8 0a1.4 1.4 0 1 0 -2.8 0M406.70 96.92a1.4 1.4 0 1 0 2.8 0a1.4 1.4 0 1 0 -2.8 0M407.70 96.83a1.4 1.4 0 1 0 2.8 0a1.4 1.4 0 1 0 -2.8 0M408.70 97.02a1.4 1.4 0 1 0 2.8 0a1.4 1.4 0 1 0 -2.8 0M409.70 96.93a1.4 1.4 0 1 0 2.8 0a1.4 1.4 0 1 0 -2.8 0M410.70 96.95a1.4 1.4 0 1 0 2.8 0a1.4 1.4 0 1 0 -2.8 0M411.70 97.23a1.4 1.4 0 1 0 2.8 0a1.4 1.4 0 1 0 -2.8 0M412.70 97.29a1.4 1.4 0 1 0 2.8 0a1.4 1.4 0 1 0 -2.8 0M413.70 97.38a1.4 1.4 0 1 0 2.8 0a1.4 1.4 0 1 0 -2.8 0M414.70 97.27a1.4 1.4 0 1 0 2.8 0a1.4 1.4 0 1 0 -2.8 0M415.70 97.47a1.4 1.4 0 1 0 2.8 0a1.4 1.4 0 1 0 -2.8 0M416.70 97.42a1.4 1.4 0 1 0 2.8 0a1.4 1.4 0 1 0 -2.8 0M417.70 97.77a1.4 1.4 0 1 0 2.8 0a1.4 1.4 0 1 0 -2.8 0M418.70 97.87a1.4 1.4 0 1 0 2.8 0a1.4 1.4 0 1 0 -2.8 0M419.70 97.76a1.4 1.4 0 1 0 2.8 0a1.4 1.4 0 1 0 -2.8 0M420.70 98.16a1.4 1.4 0 1 0 2.8 0a1.4 1.4 0 1 0 -2.8 0M421.70 98.02a1.4 1.4 0 1 0 2.8 0a1.4 1.4 0 1 0 -2.8 0M422.70 98.14a1.4 1.4 0 1 0 2.8 0a1.4 1.4 0 1 0 -2.8 0M423.70 98.55a1.4 1.4 0 1 0 2.8 0a1.4 1.4 0 1 0 -2.8 0M424.70 98.53a1.4 1.4 0 1 0 2.8 0a1.4 1.4 0 1 0 -2.8 0M425.70 98.77a1.4 1.4 0 1 0 2.8 0a1.4 1.4 0 1 0 -2.8 0M426.70 98.96a1.4 1.4 0 1 0 2.8 0a1.4 1.4 0 1 0 -2.8 0M427.70 98.86a1.4 1.4 0 1 0 2.8 0a1.4 1.4 0 1 0 -2.8 0M428.70 99.26a1.4 1.4 0 1 0 2.8 0a1.4 1.4 0 1 0 -2.8 0M429.70 99.18a1.4 1.4 0 1 0 2.8 0a1.4 1.4 0 1 0 -2.8 0M430.70 99.33a1.4 1.4 0 1 0 2.8 0a1.4 1.4 0 1 0 -2.8 0M431.70 99.36a1.4 1.4 0 1 0 2.8 0a1.4 1.4 0 1 0 -2.8 0M432.70 99.58a1.4 1.4 0 1 0 2.8 0a1.4 1.4 0 1 0 -2.8 0M433.70 99.63a1.4 1.4 0 1 0 2.8 0a1.4 1.4 0 1 0 -2.8 0M434.70 99.48a1.4 1.4 0 1 0 2.8 0a1.4 1.4 0 1 0 -2.8 0M435.70 99.44a1.4 1.4 0 1 0 2.8 0a1.4 1.4 0 1 0 -2.8 0M436.70 99.55a1.4 1.4 0 1 0 2.8 0a1.4 1.4 0 1 0 -2.8 0M437.70 99.62a1.4 1.4 0 1 0 2.8 0a1.4 1.4 0 1 0 -2.8 0M438.70 99.52a1.4 1.4 0 1 0 2.8 0a1.4 1.4 0 1 0 -2.8 0M439.70 99.59a1.4 1.4 0 1 0 2.8 0a1.4 1.4 0 1 0 -2.8 0M440.70 99.87a1.4 1.4 0 1 0 2.8 0a1.4 1.4 0 1 0 -2.8 0M441.70 99.89a1.4 1.4 0 1 0 2.8 0a1.4 1.4 0 1 0 -2.8 0M442.70 100.06a1.4 1.4 0 1 0 2.8 0a1.4 1.4 0 1 0 -2.8 0M443.70 100.13a1.4 1.4 0 1 0 2.8 0a1.4 1.4 0 1 0 -2.8 0M444.70 100.18a1.4 1.4 0 1 0 2.8 0a1.4 1.4 0 1 0 -2.8 0M445.70 100.14a1.4 1.4 0 1 0 2.8 0a1.4 1.4 0 1 0 -2.8 0M446.70 100.29a1.4 1.4 0 1 0 2.8 0a1.4 1.4 0 1 0 -2.8 0M447.70 100.66a1.4 1.4 0 1 0 2.8 0a1.4 1.4 0 1 0 -2.8 0M448.70 101.12a1.4 1.4 0 1 0 2.8 0a1.4 1.4 0 1 0 -2.8 0M449.70 101.65a1.4 1.4 0 1 0 2.8 0a1.4 1.4 0 1 0 -2.8 0M450.70 102.62a1.4 1.4 0 1 0 2.8 0a1.4 1.4 0 1 0 -2.8 0M451.70 103.90a1.4 1.4 0 1 0 2.8 0a1.4 1.4 0 1 0 -2.8 0M452.70 105.67a1.4 1.4 0 1 0 2.8 0a1.4 1.4 0 1 0 -2.8 0M453.70 107.05a1.4 1.4 0 1 0 2.8 0a1.4 1.4 0 1 0 -2.8 0M454.70 108.65a1.4 1.4 0 1 0 2.8 0a1.4 1.4 0 1 0 -2.8 0M455.70 110.49a1.4 1.4 0 1 0 2.8 0a1.4 1.4 0 1 0 -2.8 0M456.70 112.21a1.4 1.4 0 1 0 2.8 0a1.4 1.4 0 1 0 -2.8 0M457.70 113.76a1.4 1.4 0 1 0 2.8 0a1.4 1.4 0 1 0 -2.8 0M458.70 115.39a1.4 1.4 0 1 0 2.8 0a1.4 1.4 0 1 0 -2.8 0M459.70 117.14a1.4 1.4 0 1 0 2.8 0a1.4 1.4 0 1 0 -2.8 0M460.70 118.42a1.4 1.4 0 1 0 2.8 0a1.4 1.4 0 1 0 -2.8 0M461.70 120.01a1.4 1.4 0 1 0 2.8 0a1.4 1.4 0 1 0 -2.8 0M462.70 121.49a1.4 1.4 0 1 0 2.8 0a1.4 1.4 0 1 0 -2.8 0M463.70 122.43a1.4 1.4 0 1 0 2.8 0a1.4 1.4 0 1 0 -2.8 0M464.70 122.81a1.4 1.4 0 1 0 2.8 0a1.4 1.4 0 1 0 -2.8 0M465.70 123.19a1.4 1.4 0 1 0 2.8 0a1.4 1.4 0 1 0 -2.8 0M466.70 123.61a1.4 1.4 0 1 0 2.8 0a1.4 1.4 0 1 0 -2.8 0M467.70 124.15a1.4 1.4 0 1 0 2.8 0a1.4 1.4 0 1 0 -2.8 0M468.70 124.29a1.4 1.4 0 1 0 2.8 0a1.4 1.4 0 1 0 -2.8 0M469.70 124.73a1.4 1.4 0 1 0 2.8 0a1.4 1.4 0 1 0 -2.8 0M470.70 124.88a1.4 1.4 0 1 0 2.8 0a1.4 1.4 0 1 0 -2.8 0M471.70 125.18a1.4 1.4 0 1 0 2.8 0a1.4 1.4 0 1 0 -2.8 0M472.70 125.03a1.4 1.4 0 1 0 2.8 0a1.4 1.4 0 1 0 -2.8 0M473.70 125.31a1.4 1.4 0 1 0 2.8 0a1.4 1.4 0 1 0 -2.8 0M474.70 125.46a1.4 1.4 0 1 0 2.8 0a1.4 1.4 0 1 0 -2.8 0M475.70 125.83a1.4 1.4 0 1 0 2.8 0a1.4 1.4 0 1 0 -2.8 0M476.70 125.99a1.4 1.4 0 1 0 2.8 0a1.4 1.4 0 1 0 -2.8 0M477.70 126.07a1.4 1.4 0 1 0 2.8 0a1.4 1.4 0 1 0 -2.8 0M478.70 126.45a1.4 1.4 0 1 0 2.8 0a1.4 1.4 0 1 0 -2.8 0M479.70 126.44a1.4 1.4 0 1 0 2.8 0a1.4 1.4 0 1 0 -2.8 0M480.70 126.69a1.4 1.4 0 1 0 2.8 0a1.4 1.4 0 1 0 -2.8 0M481.70 126.82a1.4 1.4 0 1 0 2.8 0a1.4 1.4 0 1 0 -2.8 0M482.70 127.19a1.4 1.4 0 1 0 2.8 0a1.4 1.4 0 1 0 -2.8 0M483.70 127.18a1.4 1.4 0 1 0 2.8 0a1.4 1.4 0 1 0 -2.8 0M484.70 127.26a1.4 1.4 0 1 0 2.8 0a1.4 1.4 0 1 0 -2.8 0M485.70 127.33a1.4 1.4 0 1 0 2.8 0a1.4 1.4 0 1 0 -2.8 0M486.70 127.63a1.4 1.4 0 1 0 2.8 0a1.4 1.4 0 1 0 -2.8 0M487.70 127.86a1.4 1.4 0 1 0 2.8 0a1.4 1.4 0 1 0 -2.8 0M488.70 128.02a1.4 1.4 0 1 0 2.8 0a1.4 1.4 0 1 0 -2.8 0M489.70 128.23a1.4 1.4 0 1 0 2.8 0a1.4 1.4 0 1 0 -2.8 0M490.70 128.29a1.4 1.4 0 1 0 2.8 0a1.4 1.4 0 1 0 -2.8 0M491.70 128.14a1.4 1.4 0 1 0 2.8 0a1.4 1.4 0 1 0 -2.8 0M492.70 128.14a1.4 1.4 0 1 0 2.8 0a1.4 1.4 0 1 0 -2.8 0M493.70 128.40a1.4 1.4 0 1 0 2.8 0a1.4 1.4 0 1 0 -2.8 0M494.70 128.39a1.4 1.4 0 1 0 2.8 0a1.4 1.4 0 1 0 -2.8 0M495.70 128.22a1.4 1.4 0 1 0 2.8 0a1.4 1.4 0 1 0 -2.8 0M496.70 128.28a1.4 1.4 0 1 0 2.8 0a1.4 1.4 0 1 0 -2.8 0M497.70 128.07a1.4 1.4 0 1 0 2.8 0a1.4 1.4 0 1 0 -2.8 0M498.70 127.86a1.4 1.4 0 1 0 2.8 0a1.4 1.4 0 1 0 -2.8 0M499.70 127.70a1.4 1.4 0 1 0 2.8 0a1.4 1.4 0 1 0 -2.8 0M500.70 127.51a1.4 1.4 0 1 0 2.8 0a1.4 1.4 0 1 0 -2.8 0M501.70 127.55a1.4 1.4 0 1 0 2.8 0a1.4 1.4 0 1 0 -2.8 0M502.70 127.41a1.4 1.4 0 1 0 2.8 0a1.4 1.4 0 1 0 -2.8 0M503.70 127.16a1.4 1.4 0 1 0 2.8 0a1.4 1.4 0 1 0 -2.8 0M504.70 126.73a1.4 1.4 0 1 0 2.8 0a1.4 1.4 0 1 0 -2.8 0" fill="none" stroke="#e0a93c" stroke-width="0.5"/>
<text x="524.40" y="12.90" font-size="16" fill="#231f20" stroke="#231f20" stroke-width="0.2" text-anchor="start">J</text>
<text x="565.90" y="21.30" font-size="10.8" fill="#231f20" stroke="#231f20" stroke-width="0.2">37 °C, [Ca<tspan font-size="7.99" dy="-4.97">2+</tspan><tspan dy="4.97">]</tspan><tspan font-size="7.34" dy="3.02">i</tspan><tspan dy="-3.02">= 1 μM</tspan></text>
<text x="535.40" y="34.70" font-size="9.2" fill="#231f20" stroke="#231f20" stroke-width="0.2" text-anchor="start">DAB (μM)</text>
<line x1="535.40" y1="47.70" x2="552.70" y2="47.70" stroke="#b8904a" stroke-width="1.5"/>
<line x1="554.00" y1="47.70" x2="577.80" y2="47.70" stroke="#74c04a" stroke-width="1.5"/>
<line x1="579.00" y1="47.70" x2="616.00" y2="47.70" stroke="#e2489a" stroke-width="1.5"/>
<line x1="616.80" y1="47.70" x2="642.10" y2="47.70" stroke="#7a78c6" stroke-width="1.5"/>
<line x1="642.80" y1="47.70" x2="659.70" y2="47.70" stroke="#3eaa78" stroke-width="1.5"/>
<line x1="660.70" y1="47.70" x2="672.60" y2="47.70" stroke="#e8703a" stroke-width="1.5"/>
<text x="535.70" y="45.30" font-size="9.0" fill="#b8904a" stroke="#b8904a" stroke-width="0.2" text-anchor="start">0.03</text>
<text x="560.10" y="45.30" font-size="9.0" fill="#74c04a" stroke="#74c04a" stroke-width="0.2" text-anchor="start">0.1</text>
<text x="589.90" y="45.30" font-size="9.0" fill="#e2489a" stroke="#e2489a" stroke-width="0.2" text-anchor="start">0.3</text>
<text x="627.70" y="45.30" font-size="9.0" fill="#7a78c6" stroke="#7a78c6" stroke-width="0.2" text-anchor="start">1</text>
<text x="650.00" y="45.30" font-size="9.0" fill="#3eaa78" stroke="#3eaa78" stroke-width="0.2" text-anchor="start">3</text>
<text x="661.10" y="45.30" font-size="9.0" fill="#e8703a" stroke="#e8703a" stroke-width="0.2" text-anchor="start">10</text>
<path d="M540.50 60.80V72.30H561.75" fill="none" stroke="#333" stroke-width="1"/>
<text x="536.75" y="78.75" font-size="9" fill="#231f20" stroke="#231f20" stroke-width="0.2" text-anchor="start" transform="rotate(-90 536.75 78.75)">1 nA</text>
<text x="540.90" y="82.50" font-size="9" fill="#231f20" stroke="#231f20" stroke-width="0.2" text-anchor="start">100 s</text>
<circle cx="551.8" cy="109.7" r="1.5" fill="none" stroke="#3c7dc2" stroke-width="0.7"/>
<circle cx="551.8" cy="121.5" r="1.5" fill="none" stroke="#e0a93c" stroke-width="0.7"/>
<text x="563.00" y="112.80" font-size="9.3" fill="#231f20" stroke="#231f20" stroke-width="0.2" text-anchor="start">+100 mV</text>
<text x="563.00" y="124.50" font-size="9.3" fill="#231f20" stroke="#231f20" stroke-width="0.2" text-anchor="start">-100 mV</text>
<path d="M524.00 87.07a1.4 1.4 0 1 0 2.8 0a1.4 1.4 0 1 0 -2.8 0M525.00 87.26a1.4 1.4 0 1 0 2.8 0a1.4 1.4 0 1 0 -2.8 0M526.00 87.30a1.4 1.4 0 1 0 2.8 0a1.4 1.4 0 1 0 -2.8 0M527.00 87.31a1.4 1.4 0 1 0 2.8 0a1.4 1.4 0 1 0 -2.8 0M528.00 87.32a1.4 1.4 0 1 0 2.8 0a1.4 1.4 0 1 0 -2.8 0M529.00 87.45a1.4 1.4 0 1 0 2.8 0a1.4 1.4 0 1 0 -2.8 0M530.00 87.39a1.4 1.4 0 1 0 2.8 0a1.4 1.4 0 1 0 -2.8 0M531.00 87.47a1.4 1.4 0 1 0 2.8 0a1.4 1.4 0 1 0 -2.8 0M532.00 87.74a1.4 1.4 0 1 0 2.8 0a1.4 1.4 0 1 0 -2.8 0M533.00 87.92a1.4 1.4 0 1 0 2.8 0a1.4 1.4 0 1 0 -2.8 0M534.00 87.79a1.4 1.4 0 1 0 2.8 0a1.4 1.4 0 1 0 -2.8 0M535.00 87.79a1.4 1.4 0 1 0 2.8 0a1.4 1.4 0 1 0 -2.8 0M536.00 87.81a1.4 1.4 0 1 0 2.8 0a1.4 1.4 0 1 0 -2.8 0M537.00 87.91a1.4 1.4 0 1 0 2.8 0a1.4 1.4 0 1 0 -2.8 0M538.00 88.09a1.4 1.4 0 1 0 2.8 0a1.4 1.4 0 1 0 -2.8 0M539.00 88.00a1.4 1.4 0 1 0 2.8 0a1.4 1.4 0 1 0 -2.8 0M540.00 88.24a1.4 1.4 0 1 0 2.8 0a1.4 1.4 0 1 0 -2.8 0M541.00 87.95a1.4 1.4 0 1 0 2.8 0a1.4 1.4 0 1 0 -2.8 0M542.00 88.05a1.4 1.4 0 1 0 2.8 0a1.4 1.4 0 1 0 -2.8 0M543.00 88.16a1.4 1.4 0 1 0 2.8 0a1.4 1.4 0 1 0 -2.8 0M544.00 88.14a1.4 1.4 0 1 0 2.8 0a1.4 1.4 0 1 0 -2.8 0M545.00 88.33a1.4 1.4 0 1 0 2.8 0a1.4 1.4 0 1 0 -2.8 0M546.00 88.33a1.4 1.4 0 1 0 2.8 0a1.4 1.4 0 1 0 -2.8 0M547.00 88.37a1.4 1.4 0 1 0 2.8 0a1.4 1.4 0 1 0 -2.8 0M548.00 88.21a1.4 1.4 0 1 0 2.8 0a1.4 1.4 0 1 0 -2.8 0M549.00 87.90a1.4 1.4 0 1 0 2.8 0a1.4 1.4 0 1 0 -2.8 0M550.00 88.02a1.4 1.4 0 1 0 2.8 0a1.4 1.4 0 1 0 -2.8 0M551.00 87.88a1.4 1.4 0 1 0 2.8 0a1.4 1.4 0 1 0 -2.8 0M552.00 87.71a1.4 1.4 0 1 0 2.8 0a1.4 1.4 0 1 0 -2.8 0M553.00 87.47a1.4 1.4 0 1 0 2.8 0a1.4 1.4 0 1 0 -2.8 0M554.00 87.48a1.4 1.4 0 1 0 2.8 0a1.4 1.4 0 1 0 -2.8 0M555.00 87.39a1.4 1.4 0 1 0 2.8 0a1.4 1.4 0 1 0 -2.8 0M556.00 86.90a1.4 1.4 0 1 0 2.8 0a1.4 1.4 0 1 0 -2.8 0M557.00 86.97a1.4 1.4 0 1 0 2.8 0a1.4 1.4 0 1 0 -2.8 0M558.00 86.71a1.4 1.4 0 1 0 2.8 0a1.4 1.4 0 1 0 -2.8 0M559.00 86.65a1.4 1.4 0 1 0 2.8 0a1.4 1.4 0 1 0 -2.8 0M560.00 86.70a1.4 1.4 0 1 0 2.8 0a1.4 1.4 0 1 0 -2.8 0M561.00 86.66a1.4 1.4 0 1 0 2.8 0a1.4 1.4 0 1 0 -2.8 0M562.00 86.48a1.4 1.4 0 1 0 2.8 0a1.4 1.4 0 1 0 -2.8 0M563.00 86.25a1.4 1.4 0 1 0 2.8 0a1.4 1.4 0 1 0 -2.8 0M564.00 86.50a1.4 1.4 0 1 0 2.8 0a1.4 1.4 0 1 0 -2.8 0M565.00 86.17a1.4 1.4 0 1 0 2.8 0a1.4 1.4 0 1 0 -2.8 0M566.00 86.22a1.4 1.4 0 1 0 2.8 0a1.4 1.4 0 1 0 -2.8 0M567.00 86.38a1.4 1.4 0 1 0 2.8 0a1.4 1.4 0 1 0 -2.8 0M568.00 86.15a1.4 1.4 0 1 0 2.8 0a1.4 1.4 0 1 0 -2.8 0M569.00 86.10a1.4 1.4 0 1 0 2.8 0a1.4 1.4 0 1 0 -2.8 0M570.00 86.35a1.4 1.4 0 1 0 2.8 0a1.4 1.4 0 1 0 -2.8 0M571.00 86.31a1.4 1.4 0 1 0 2.8 0a1.4 1.4 0 1 0 -2.8 0M572.00 86.03a1.4 1.4 0 1 0 2.8 0a1.4 1.4 0 1 0 -2.8 0M573.00 86.02a1.4 1.4 0 1 0 2.8 0a1.4 1.4 0 1 0 -2.8 0M574.00 85.92a1.4 1.4 0 1 0 2.8 0a1.4 1.4 0 1 0 -2.8 0M575.00 85.80a1.4 1.4 0 1 0 2.8 0a1.4 1.4 0 1 0 -2.8 0M576.00 85.78a1.4 1.4 0 1 0 2.8 0a1.4 1.4 0 1 0 -2.8 0M577.00 85.99a1.4 1.4 0 1 0 2.8 0a1.4 1.4 0 1 0 -2.8 0M578.00 85.46a1.4 1.4 0 1 0 2.8 0a1.4 1.4 0 1 0 -2.8 0M579.00 85.20a1.4 1.4 0 1 0 2.8 0a1.4 1.4 0 1 0 -2.8 0M580.00 84.76a1.4 1.4 0 1 0 2.8 0a1.4 1.4 0 1 0 -2.8 0M581.00 84.19a1.4 1.4 0 1 0 2.8 0a1.4 1.4 0 1 0 -2.8 0M582.00 83.79a1.4 1.4 0 1 0 2.8 0a1.4 1.4 0 1 0 -2.8 0M583.00 83.29a1.4 1.4 0 1 0 2.8 0a1.4 1.4 0 1 0 -2.8 0M584.00 82.74a1.4 1.4 0 1 0 2.8 0a1.4 1.4 0 1 0 -2.8 0M585.00 82.02a1.4 1.4 0 1 0 2.8 0a1.4 1.4 0 1 0 -2.8 0M586.00 81.35a1.4 1.4 0 1 0 2.8 0a1.4 1.4 0 1 0 -2.8 0M587.00 80.22a1.4 1.4 0 1 0 2.8 0a1.4 1.4 0 1 0 -2.8 0M588.00 79.49a1.4 1.4 0 1 0 2.8 0a1.4 1.4 0 1 0 -2.8 0M589.00 78.92a1.4 1.4 0 1 0 2.8 0a1.4 1.4 0 1 0 -2.8 0M590.00 77.76a1.4 1.4 0 1 0 2.8 0a1.4 1.4 0 1 0 -2.8 0M591.00 77.11a1.4 1.4 0 1 0 2.8 0a1.4 1.4 0 1 0 -2.8 0M592.00 76.49a1.4 1.4 0 1 0 2.8 0a1.4 1.4 0 1 0 -2.8 0M593.00 75.69a1.4 1.4 0 1 0 2.8 0a1.4 1.4 0 1 0 -2.8 0M594.00 75.09a1.4 1.4 0 1 0 2.8 0a1.4 1.4 0 1 0 -2.8 0M595.00 74.19a1.4 1.4 0 1 0 2.8 0a1.4 1.4 0 1 0 -2.8 0M596.00 73.59a1.4 1.4 0 1 0 2.8 0a1.4 1.4 0 1 0 -2.8 0M597.00 73.24a1.4 1.4 0 1 0 2.8 0a1.4 1.4 0 1 0 -2.8 0M598.00 72.34a1.4 1.4 0 1 0 2.8 0a1.4 1.4 0 1 0 -2.8 0M599.00 72.13a1.4 1.4 0 1 0 2.8 0a1.4 1.4 0 1 0 -2.8 0M600.00 71.42a1.4 1.4 0 1 0 2.8 0a1.4 1.4 0 1 0 -2.8 0M601.00 71.40a1.4 1.4 0 1 0 2.8 0a1.4 1.4 0 1 0 -2.8 0M602.00 70.96a1.4 1.4 0 1 0 2.8 0a1.4 1.4 0 1 0 -2.8 0M603.00 70.66a1.4 1.4 0 1 0 2.8 0a1.4 1.4 0 1 0 -2.8 0M604.00 70.21a1.4 1.4 0 1 0 2.8 0a1.4 1.4 0 1 0 -2.8 0M605.00 69.95a1.4 1.4 0 1 0 2.8 0a1.4 1.4 0 1 0 -2.8 0M606.00 70.03a1.4 1.4 0 1 0 2.8 0a1.4 1.4 0 1 0 -2.8 0M607.00 69.63a1.4 1.4 0 1 0 2.8 0a1.4 1.4 0 1 0 -2.8 0M608.00 69.50a1.4 1.4 0 1 0 2.8 0a1.4 1.4 0 1 0 -2.8 0M609.00 69.65a1.4 1.4 0 1 0 2.8 0a1.4 1.4 0 1 0 -2.8 0M610.00 69.60a1.4 1.4 0 1 0 2.8 0a1.4 1.4 0 1 0 -2.8 0M611.00 69.20a1.4 1.4 0 1 0 2.8 0a1.4 1.4 0 1 0 -2.8 0M612.00 69.49a1.4 1.4 0 1 0 2.8 0a1.4 1.4 0 1 0 -2.8 0M613.00 69.22a1.4 1.4 0 1 0 2.8 0a1.4 1.4 0 1 0 -2.8 0M614.00 69.02a1.4 1.4 0 1 0 2.8 0a1.4 1.4 0 1 0 -2.8 0M615.00 68.64a1.4 1.4 0 1 0 2.8 0a1.4 1.4 0 1 0 -2.8 0M616.00 68.11a1.4 1.4 0 1 0 2.8 0a1.4 1.4 0 1 0 -2.8 0M617.00 67.47a1.4 1.4 0 1 0 2.8 0a1.4 1.4 0 1 0 -2.8 0M618.00 66.24a1.4 1.4 0 1 0 2.8 0a1.4 1.4 0 1 0 -2.8 0M619.00 65.35a1.4 1.4 0 1 0 2.8 0a1.4 1.4 0 1 0 -2.8 0M620.00 64.64a1.4 1.4 0 1 0 2.8 0a1.4 1.4 0 1 0 -2.8 0M621.00 63.90a1.4 1.4 0 1 0 2.8 0a1.4 1.4 0 1 0 -2.8 0M622.00 63.28a1.4 1.4 0 1 0 2.8 0a1.4 1.4 0 1 0 -2.8 0M623.00 62.81a1.4 1.4 0 1 0 2.8 0a1.4 1.4 0 1 0 -2.8 0M624.00 61.82a1.4 1.4 0 1 0 2.8 0a1.4 1.4 0 1 0 -2.8 0M625.00 61.26a1.4 1.4 0 1 0 2.8 0a1.4 1.4 0 1 0 -2.8 0M626.00 61.02a1.4 1.4 0 1 0 2.8 0a1.4 1.4 0 1 0 -2.8 0M627.00 60.57a1.4 1.4 0 1 0 2.8 0a1.4 1.4 0 1 0 -2.8 0M628.00 60.11a1.4 1.4 0 1 0 2.8 0a1.4 1.4 0 1 0 -2.8 0M629.00 59.38a1.4 1.4 0 1 0 2.8 0a1.4 1.4 0 1 0 -2.8 0M630.00 59.02a1.4 1.4 0 1 0 2.8 0a1.4 1.4 0 1 0 -2.8 0M631.00 58.87a1.4 1.4 0 1 0 2.8 0a1.4 1.4 0 1 0 -2.8 0M632.00 58.32a1.4 1.4 0 1 0 2.8 0a1.4 1.4 0 1 0 -2.8 0M633.00 58.07a1.4 1.4 0 1 0 2.8 0a1.4 1.4 0 1 0 -2.8 0M634.00 57.61a1.4 1.4 0 1 0 2.8 0a1.4 1.4 0 1 0 -2.8 0M635.00 57.21a1.4 1.4 0 1 0 2.8 0a1.4 1.4 0 1 0 -2.8 0M636.00 57.09a1.4 1.4 0 1 0 2.8 0a1.4 1.4 0 1 0 -2.8 0M637.00 57.02a1.4 1.4 0 1 0 2.8 0a1.4 1.4 0 1 0 -2.8 0M638.00 56.82a1.4 1.4 0 1 0 2.8 0a1.4 1.4 0 1 0 -2.8 0M639.00 56.54a1.4 1.4 0 1 0 2.8 0a1.4 1.4 0 1 0 -2.8 0M640.00 56.31a1.4 1.4 0 1 0 2.8 0a1.4 1.4 0 1 0 -2.8 0M641.00 56.17a1.4 1.4 0 1 0 2.8 0a1.4 1.4 0 1 0 -2.8 0M642.00 55.96a1.4 1.4 0 1 0 2.8 0a1.4 1.4 0 1 0 -2.8 0M643.00 55.82a1.4 1.4 0 1 0 2.8 0a1.4 1.4 0 1 0 -2.8 0M644.00 55.76a1.4 1.4 0 1 0 2.8 0a1.4 1.4 0 1 0 -2.8 0M645.00 55.32a1.4 1.4 0 1 0 2.8 0a1.4 1.4 0 1 0 -2.8 0M646.00 55.27a1.4 1.4 0 1 0 2.8 0a1.4 1.4 0 1 0 -2.8 0M647.00 55.17a1.4 1.4 0 1 0 2.8 0a1.4 1.4 0 1 0 -2.8 0M648.00 54.90a1.4 1.4 0 1 0 2.8 0a1.4 1.4 0 1 0 -2.8 0M649.00 54.39a1.4 1.4 0 1 0 2.8 0a1.4 1.4 0 1 0 -2.8 0M650.00 54.48a1.4 1.4 0 1 0 2.8 0a1.4 1.4 0 1 0 -2.8 0M651.00 54.24a1.4 1.4 0 1 0 2.8 0a1.4 1.4 0 1 0 -2.8 0M652.00 53.82a1.4 1.4 0 1 0 2.8 0a1.4 1.4 0 1 0 -2.8 0M653.00 53.75a1.4 1.4 0 1 0 2.8 0a1.4 1.4 0 1 0 -2.8 0M654.00 53.68a1.4 1.4 0 1 0 2.8 0a1.4 1.4 0 1 0 -2.8 0M655.00 53.67a1.4 1.4 0 1 0 2.8 0a1.4 1.4 0 1 0 -2.8 0M656.00 54.20a1.4 1.4 0 1 0 2.8 0a1.4 1.4 0 1 0 -2.8 0M657.00 54.21a1.4 1.4 0 1 0 2.8 0a1.4 1.4 0 1 0 -2.8 0M658.00 54.69a1.4 1.4 0 1 0 2.8 0a1.4 1.4 0 1 0 -2.8 0M659.00 54.71a1.4 1.4 0 1 0 2.8 0a1.4 1.4 0 1 0 -2.8 0M660.00 54.99a1.4 1.4 0 1 0 2.8 0a1.4 1.4 0 1 0 -2.8 0M661.00 55.62a1.4 1.4 0 1 0 2.8 0a1.4 1.4 0 1 0 -2.8 0M662.00 55.86a1.4 1.4 0 1 0 2.8 0a1.4 1.4 0 1 0 -2.8 0M663.00 56.21a1.4 1.4 0 1 0 2.8 0a1.4 1.4 0 1 0 -2.8 0M664.00 56.36a1.4 1.4 0 1 0 2.8 0a1.4 1.4 0 1 0 -2.8 0M665.00 56.58a1.4 1.4 0 1 0 2.8 0a1.4 1.4 0 1 0 -2.8 0M666.00 56.96a1.4 1.4 0 1 0 2.8 0a1.4 1.4 0 1 0 -2.8 0M667.00 56.98a1.4 1.4 0 1 0 2.8 0a1.4 1.4 0 1 0 -2.8 0M668.00 57.45a1.4 1.4 0 1 0 2.8 0a1.4 1.4 0 1 0 -2.8 0M669.00 57.69a1.4 1.4 0 1 0 2.8 0a1.4 1.4 0 1 0 -2.8 0" fill="none" stroke="#3c7dc2" stroke-width="0.5"/>
<path d="M524.00 94.36a1.4 1.4 0 1 0 2.8 0a1.4 1.4 0 1 0 -2.8 0M525.00 94.54a1.4 1.4 0 1 0 2.8 0a1.4 1.4 0 1 0 -2.8 0M526.00 94.44a1.4 1.4 0 1 0 2.8 0a1.4 1.4 0 1 0 -2.8 0M527.00 94.51a1.4 1.4 0 1 0 2.8 0a1.4 1.4 0 1 0 -2.8 0M528.00 94.46a1.4 1.4 0 1 0 2.8 0a1.4 1.4 0 1 0 -2.8 0M529.00 94.44a1.4 1.4 0 1 0 2.8 0a1.4 1.4 0 1 0 -2.8 0M530.00 94.46a1.4 1.4 0 1 0 2.8 0a1.4 1.4 0 1 0 -2.8 0M531.00 94.56a1.4 1.4 0 1 0 2.8 0a1.4 1.4 0 1 0 -2.8 0M532.00 94.71a1.4 1.4 0 1 0 2.8 0a1.4 1.4 0 1 0 -2.8 0M533.00 94.70a1.4 1.4 0 1 0 2.8 0a1.4 1.4 0 1 0 -2.8 0M534.00 94.67a1.4 1.4 0 1 0 2.8 0a1.4 1.4 0 1 0 -2.8 0M535.00 94.66a1.4 1.4 0 1 0 2.8 0a1.4 1.4 0 1 0 -2.8 0M536.00 94.45a1.4 1.4 0 1 0 2.8 0a1.4 1.4 0 1 0 -2.8 0M537.00 94.72a1.4 1.4 0 1 0 2.8 0a1.4 1.4 0 1 0 -2.8 0M538.00 94.44a1.4 1.4 0 1 0 2.8 0a1.4 1.4 0 1 0 -2.8 0M539.00 94.39a1.4 1.4 0 1 0 2.8 0a1.4 1.4 0 1 0 -2.8 0M540.00 94.54a1.4 1.4 0 1 0 2.8 0a1.4 1.4 0 1 0 -2.8 0M541.00 94.63a1.4 1.4 0 1 0 2.8 0a1.4 1.4 0 1 0 -2.8 0M542.00 94.48a1.4 1.4 0 1 0 2.8 0a1.4 1.4 0 1 0 -2.8 0M543.00 94.60a1.4 1.4 0 1 0 2.8 0a1.4 1.4 0 1 0 -2.8 0M544.00 94.46a1.4 1.4 0 1 0 2.8 0a1.4 1.4 0 1 0 -2.8 0M545.00 94.73a1.4 1.4 0 1 0 2.8 0a1.4 1.4 0 1 0 -2.8 0M546.00 94.53a1.4 1.4 0 1 0 2.8 0a1.4 1.4 0 1 0 -2.8 0M547.00 94.54a1.4 1.4 0 1 0 2.8 0a1.4 1.4 0 1 0 -2.8 0M548.00 94.56a1.4 1.4 0 1 0 2.8 0a1.4 1.4 0 1 0 -2.8 0M549.00 94.70a1.4 1.4 0 1 0 2.8 0a1.4 1.4 0 1 0 -2.8 0M550.00 94.75a1.4 1.4 0 1 0 2.8 0a1.4 1.4 0 1 0 -2.8 0M551.00 94.57a1.4 1.4 0 1 0 2.8 0a1.4 1.4 0 1 0 -2.8 0M552.00 94.53a1.4 1.4 0 1 0 2.8 0a1.4 1.4 0 1 0 -2.8 0M553.00 94.61a1.4 1.4 0 1 0 2.8 0a1.4 1.4 0 1 0 -2.8 0M554.00 94.39a1.4 1.4 0 1 0 2.8 0a1.4 1.4 0 1 0 -2.8 0M555.00 94.53a1.4 1.4 0 1 0 2.8 0a1.4 1.4 0 1 0 -2.8 0M556.00 94.71a1.4 1.4 0 1 0 2.8 0a1.4 1.4 0 1 0 -2.8 0M557.00 94.68a1.4 1.4 0 1 0 2.8 0a1.4 1.4 0 1 0 -2.8 0M558.00 94.39a1.4 1.4 0 1 0 2.8 0a1.4 1.4 0 1 0 -2.8 0M559.00 94.72a1.4 1.4 0 1 0 2.8 0a1.4 1.4 0 1 0 -2.8 0M560.00 94.53a1.4 1.4 0 1 0 2.8 0a1.4 1.4 0 1 0 -2.8 0M561.00 94.77a1.4 1.4 0 1 0 2.8 0a1.4 1.4 0 1 0 -2.8 0M562.00 94.53a1.4 1.4 0 1 0 2.8 0a1.4 1.4 0 1 0 -2.8 0M563.00 94.47a1.4 1.4 0 1 0 2.8 0a1.4 1.4 0 1 0 -2.8 0M564.00 94.61a1.4 1.4 0 1 0 2.8 0a1.4 1.4 0 1 0 -2.8 0M565.00 94.75a1.4 1.4 0 1 0 2.8 0a1.4 1.4 0 1 0 -2.8 0M566.00 94.57a1.4 1.4 0 1 0 2.8 0a1.4 1.4 0 1 0 -2.8 0M567.00 94.75a1.4 1.4 0 1 0 2.8 0a1.4 1.4 0 1 0 -2.8 0M568.00 94.69a1.4 1.4 0 1 0 2.8 0a1.4 1.4 0 1 0 -2.8 0M569.00 94.55a1.4 1.4 0 1 0 2.8 0a1.4 1.4 0 1 0 -2.8 0M570.00 94.53a1.4 1.4 0 1 0 2.8 0a1.4 1.4 0 1 0 -2.8 0M571.00 94.62a1.4 1.4 0 1 0 2.8 0a1.4 1.4 0 1 0 -2.8 0M572.00 94.58a1.4 1.4 0 1 0 2.8 0a1.4 1.4 0 1 0 -2.8 0M573.00 94.58a1.4 1.4 0 1 0 2.8 0a1.4 1.4 0 1 0 -2.8 0M574.00 94.69a1.4 1.4 0 1 0 2.8 0a1.4 1.4 0 1 0 -2.8 0M575.00 94.79a1.4 1.4 0 1 0 2.8 0a1.4 1.4 0 1 0 -2.8 0M576.00 94.68a1.4 1.4 0 1 0 2.8 0a1.4 1.4 0 1 0 -2.8 0M577.00 94.51a1.4 1.4 0 1 0 2.8 0a1.4 1.4 0 1 0 -2.8 0M578.00 94.54a1.4 1.4 0 1 0 2.8 0a1.4 1.4 0 1 0 -2.8 0M579.00 94.61a1.4 1.4 0 1 0 2.8 0a1.4 1.4 0 1 0 -2.8 0M580.00 94.71a1.4 1.4 0 1 0 2.8 0a1.4 1.4 0 1 0 -2.8 0M581.00 94.53a1.4 1.4 0 1 0 2.8 0a1.4 1.4 0 1 0 -2.8 0M582.00 94.52a1.4 1.4 0 1 0 2.8 0a1.4 1.4 0 1 0 -2.8 0M583.00 94.62a1.4 1.4 0 1 0 2.8 0a1.4 1.4 0 1 0 -2.8 0M584.00 94.61a1.4 1.4 0 1 0 2.8 0a1.4 1.4 0 1 0 -2.8 0M585.00 94.55a1.4 1.4 0 1 0 2.8 0a1.4 1.4 0 1 0 -2.8 0M586.00 94.84a1.4 1.4 0 1 0 2.8 0a1.4 1.4 0 1 0 -2.8 0M587.00 95.13a1.4 1.4 0 1 0 2.8 0a1.4 1.4 0 1 0 -2.8 0M588.00 95.15a1.4 1.4 0 1 0 2.8 0a1.4 1.4 0 1 0 -2.8 0M589.00 95.43a1.4 1.4 0 1 0 2.8 0a1.4 1.4 0 1 0 -2.8 0M590.00 95.70a1.4 1.4 0 1 0 2.8 0a1.4 1.4 0 1 0 -2.8 0M591.00 95.95a1.4 1.4 0 1 0 2.8 0a1.4 1.4 0 1 0 -2.8 0M592.00 96.23a1.4 1.4 0 1 0 2.8 0a1.4 1.4 0 1 0 -2.8 0M593.00 96.31a1.4 1.4 0 1 0 2.8 0a1.4 1.4 0 1 0 -2.8 0M594.00 96.66a1.4 1.4 0 1 0 2.8 0a1.4 1.4 0 1 0 -2.8 0M595.00 96.68a1.4 1.4 0 1 0 2.8 0a1.4 1.4 0 1 0 -2.8 0M596.00 97.22a1.4 1.4 0 1 0 2.8 0a1.4 1.4 0 1 0 -2.8 0M597.00 97.25a1.4 1.4 0 1 0 2.8 0a1.4 1.4 0 1 0 -2.8 0M598.00 97.54a1.4 1.4 0 1 0 2.8 0a1.4 1.4 0 1 0 -2.8 0M599.00 97.95a1.4 1.4 0 1 0 2.8 0a1.4 1.4 0 1 0 -2.8 0M600.00 97.97a1.4 1.4 0 1 0 2.8 0a1.4 1.4 0 1 0 -2.8 0M601.00 98.19a1.4 1.4 0 1 0 2.8 0a1.4 1.4 0 1 0 -2.8 0M602.00 98.72a1.4 1.4 0 1 0 2.8 0a1.4 1.4 0 1 0 -2.8 0M603.00 98.91a1.4 1.4 0 1 0 2.8 0a1.4 1.4 0 1 0 -2.8 0M604.00 98.98a1.4 1.4 0 1 0 2.8 0a1.4 1.4 0 1 0 -2.8 0M605.00 99.25a1.4 1.4 0 1 0 2.8 0a1.4 1.4 0 1 0 -2.8 0M606.00 99.67a1.4 1.4 0 1 0 2.8 0a1.4 1.4 0 1 0 -2.8 0M607.00 99.82a1.4 1.4 0 1 0 2.8 0a1.4 1.4 0 1 0 -2.8 0M608.00 100.45a1.4 1.4 0 1 0 2.8 0a1.4 1.4 0 1 0 -2.8 0M609.00 100.45a1.4 1.4 0 1 0 2.8 0a1.4 1.4 0 1 0 -2.8 0M610.00 100.73a1.4 1.4 0 1 0 2.8 0a1.4 1.4 0 1 0 -2.8 0M611.00 101.03a1.4 1.4 0 1 0 2.8 0a1.4 1.4 0 1 0 -2.8 0M612.00 101.37a1.4 1.4 0 1 0 2.8 0a1.4 1.4 0 1 0 -2.8 0M613.00 101.69a1.4 1.4 0 1 0 2.8 0a1.4 1.4 0 1 0 -2.8 0M614.00 102.22a1.4 1.4 0 1 0 2.8 0a1.4 1.4 0 1 0 -2.8 0M615.00 102.87a1.4 1.4 0 1 0 2.8 0a1.4 1.4 0 1 0 -2.8 0M616.00 104.09a1.4 1.4 0 1 0 2.8 0a1.4 1.4 0 1 0 -2.8 0M617.00 105.74a1.4 1.4 0 1 0 2.8 0a1.4 1.4 0 1 0 -2.8 0M618.00 108.01a1.4 1.4 0 1 0 2.8 0a1.4 1.4 0 1 0 -2.8 0M619.00 109.99a1.4 1.4 0 1 0 2.8 0a1.4 1.4 0 1 0 -2.8 0M620.00 112.25a1.4 1.4 0 1 0 2.8 0a1.4 1.4 0 1 0 -2.8 0M621.00 114.92a1.4 1.4 0 1 0 2.8 0a1.4 1.4 0 1 0 -2.8 0M622.00 117.17a1.4 1.4 0 1 0 2.8 0a1.4 1.4 0 1 0 -2.8 0M623.00 118.69a1.4 1.4 0 1 0 2.8 0a1.4 1.4 0 1 0 -2.8 0M624.00 119.45a1.4 1.4 0 1 0 2.8 0a1.4 1.4 0 1 0 -2.8 0M625.00 120.43a1.4 1.4 0 1 0 2.8 0a1.4 1.4 0 1 0 -2.8 0M626.00 121.50a1.4 1.4 0 1 0 2.8 0a1.4 1.4 0 1 0 -2.8 0M627.00 122.23a1.4 1.4 0 1 0 2.8 0a1.4 1.4 0 1 0 -2.8 0M628.00 123.07a1.4 1.4 0 1 0 2.8 0a1.4 1.4 0 1 0 -2.8 0M629.00 123.58a1.4 1.4 0 1 0 2.8 0a1.4 1.4 0 1 0 -2.8 0M630.00 123.85a1.4 1.4 0 1 0 2.8 0a1.4 1.4 0 1 0 -2.8 0M631.00 124.30a1.4 1.4 0 1 0 2.8 0a1.4 1.4 0 1 0 -2.8 0M632.00 124.75a1.4 1.4 0 1 0 2.8 0a1.4 1.4 0 1 0 -2.8 0M633.00 125.22a1.4 1.4 0 1 0 2.8 0a1.4 1.4 0 1 0 -2.8 0M634.00 125.27a1.4 1.4 0 1 0 2.8 0a1.4 1.4 0 1 0 -2.8 0M635.00 125.65a1.4 1.4 0 1 0 2.8 0a1.4 1.4 0 1 0 -2.8 0M636.00 125.81a1.4 1.4 0 1 0 2.8 0a1.4 1.4 0 1 0 -2.8 0M637.00 126.29a1.4 1.4 0 1 0 2.8 0a1.4 1.4 0 1 0 -2.8 0M638.00 126.30a1.4 1.4 0 1 0 2.8 0a1.4 1.4 0 1 0 -2.8 0M639.00 126.91a1.4 1.4 0 1 0 2.8 0a1.4 1.4 0 1 0 -2.8 0M640.00 126.99a1.4 1.4 0 1 0 2.8 0a1.4 1.4 0 1 0 -2.8 0M641.00 127.26a1.4 1.4 0 1 0 2.8 0a1.4 1.4 0 1 0 -2.8 0M642.00 127.32a1.4 1.4 0 1 0 2.8 0a1.4 1.4 0 1 0 -2.8 0M643.00 127.65a1.4 1.4 0 1 0 2.8 0a1.4 1.4 0 1 0 -2.8 0M644.00 128.01a1.4 1.4 0 1 0 2.8 0a1.4 1.4 0 1 0 -2.8 0M645.00 128.43a1.4 1.4 0 1 0 2.8 0a1.4 1.4 0 1 0 -2.8 0M646.00 128.54a1.4 1.4 0 1 0 2.8 0a1.4 1.4 0 1 0 -2.8 0M647.00 128.66a1.4 1.4 0 1 0 2.8 0a1.4 1.4 0 1 0 -2.8 0M648.00 129.14a1.4 1.4 0 1 0 2.8 0a1.4 1.4 0 1 0 -2.8 0M649.00 129.17a1.4 1.4 0 1 0 2.8 0a1.4 1.4 0 1 0 -2.8 0M650.00 129.23a1.4 1.4 0 1 0 2.8 0a1.4 1.4 0 1 0 -2.8 0M651.00 129.17a1.4 1.4 0 1 0 2.8 0a1.4 1.4 0 1 0 -2.8 0M652.00 129.21a1.4 1.4 0 1 0 2.8 0a1.4 1.4 0 1 0 -2.8 0M653.00 129.36a1.4 1.4 0 1 0 2.8 0a1.4 1.4 0 1 0 -2.8 0M654.00 128.86a1.4 1.4 0 1 0 2.8 0a1.4 1.4 0 1 0 -2.8 0M655.00 128.74a1.4 1.4 0 1 0 2.8 0a1.4 1.4 0 1 0 -2.8 0M656.00 128.43a1.4 1.4 0 1 0 2.8 0a1.4 1.4 0 1 0 -2.8 0M657.00 127.94a1.4 1.4 0 1 0 2.8 0a1.4 1.4 0 1 0 -2.8 0M658.00 127.69a1.4 1.4 0 1 0 2.8 0a1.4 1.4 0 1 0 -2.8 0M659.00 127.32a1.4 1.4 0 1 0 2.8 0a1.4 1.4 0 1 0 -2.8 0M660.00 126.87a1.4 1.4 0 1 0 2.8 0a1.4 1.4 0 1 0 -2.8 0M661.00 126.43a1.4 1.4 0 1 0 2.8 0a1.4 1.4 0 1 0 -2.8 0M662.00 125.83a1.4 1.4 0 1 0 2.8 0a1.4 1.4 0 1 0 -2.8 0M663.00 125.37a1.4 1.4 0 1 0 2.8 0a1.4 1.4 0 1 0 -2.8 0M664.00 125.08a1.4 1.4 0 1 0 2.8 0a1.4 1.4 0 1 0 -2.8 0M665.00 124.59a1.4 1.4 0 1 0 2.8 0a1.4 1.4 0 1 0 -2.8 0M666.00 124.08a1.4 1.4 0 1 0 2.8 0a1.4 1.4 0 1 0 -2.8 0M667.00 123.89a1.4 1.4 0 1 0 2.8 0a1.4 1.4 0 1 0 -2.8 0M668.00 123.17a1.4 1.4 0 1 0 2.8 0a1.4 1.4 0 1 0 -2.8 0M669.00 122.96a1.4 1.4 0 1 0 2.8 0a1.4 1.4 0 1 0 -2.8 0" fill="none" stroke="#e0a93c" stroke-width="0.5"/>
<text x="2.10" y="155.70" font-size="16" fill="#231f20" stroke="#231f20" stroke-width="0.2" text-anchor="start">B</text>
<text x="31.70" y="161.50" font-size="10.1" fill="#231f20" stroke="#231f20" stroke-width="0.2">25 °C, [Ca<tspan font-size="7.47" dy="-4.65">2+</tspan><tspan dy="4.65">]</tspan><tspan font-size="6.87" dy="2.83">i</tspan><tspan dy="-2.83">= 0 μM</tspan></text>
<line x1="71.00" y1="170.10" x2="71.00" y2="260.90" stroke="#3d3d3d" stroke-width="1.2"/>
<line x1="25.20" y1="215.50" x2="116.50" y2="215.50" stroke="#3d3d3d" stroke-width="1.2"/>
<line x1="68.40" y1="260.90" x2="71.00" y2="260.90" stroke="#3d3d3d" stroke-width="1"/>
<line x1="68.40" y1="245.76" x2="71.00" y2="245.76" stroke="#3d3d3d" stroke-width="1"/>
<line x1="68.40" y1="230.63" x2="71.00" y2="230.63" stroke="#3d3d3d" stroke-width="1"/>
<line x1="68.40" y1="200.37" x2="71.00" y2="200.37" stroke="#3d3d3d" stroke-width="1"/>
<line x1="68.40" y1="185.24" x2="71.00" y2="185.24" stroke="#3d3d3d" stroke-width="1"/>
<line x1="68.40" y1="170.10" x2="71.00" y2="170.10" stroke="#3d3d3d" stroke-width="1"/>
<text x="67.40" y="173.50" font-size="9.4" fill="#231f20" stroke="#231f20" stroke-width="0.2" text-anchor="end">12</text>
<text x="67.40" y="188.64" font-size="9.4" fill="#231f20" stroke="#231f20" stroke-width="0.2" text-anchor="end">8</text>
<text x="67.40" y="203.77" font-size="9.4" fill="#231f20" stroke="#231f20" stroke-width="0.2" text-anchor="end">4</text>
<text x="67.40" y="234.03" font-size="9.4" fill="#231f20" stroke="#231f20" stroke-width="0.2" text-anchor="end">-4</text>
<text x="67.40" y="249.16" font-size="9.4" fill="#231f20" stroke="#231f20" stroke-width="0.2" text-anchor="end">-8</text>
<text x="67.40" y="264.30" font-size="9.4" fill="#231f20" stroke="#231f20" stroke-width="0.2" text-anchor="end">-12</text>
<line x1="25.20" y1="215.50" x2="25.20" y2="213.10" stroke="#3d3d3d" stroke-width="1"/>
<text x="25.20" y="228.00" font-size="9.4" fill="#231f20" stroke="#231f20" stroke-width="0.2" text-anchor="middle">-100</text>
<line x1="48.10" y1="215.50" x2="48.10" y2="213.10" stroke="#3d3d3d" stroke-width="1"/>
<text x="48.10" y="228.00" font-size="9.4" fill="#231f20" stroke="#231f20" stroke-width="0.2" text-anchor="middle">-50</text>
<line x1="93.75" y1="215.50" x2="93.75" y2="213.10" stroke="#3d3d3d" stroke-width="1"/>
<text x="93.75" y="228.00" font-size="9.4" fill="#231f20" stroke="#231f20" stroke-width="0.2" text-anchor="middle">50</text>
<line x1="116.50" y1="215.50" x2="116.50" y2="213.10" stroke="#3d3d3d" stroke-width="1"/>
<text x="116.50" y="228.00" font-size="9.4" fill="#231f20" stroke="#231f20" stroke-width="0.2" text-anchor="middle">100</text>
<text x="23.00" y="212.70" font-size="8.8" fill="#231f20" stroke="#231f20" stroke-width="0.2" text-anchor="start">V (mV)</text>
<text x="82.00" y="264.00" font-size="8.6" fill="#231f20" stroke="#231f20" stroke-width="0.2" text-anchor="start" transform="rotate(-90 82.00 264.00)">I (nA)</text>
<polyline points="25.20,215.69 27.49,215.68 29.78,215.67 32.07,215.67 34.36,215.67 36.65,215.66 38.94,215.66 41.23,215.66 43.52,215.66 45.81,215.66 48.10,215.65 50.39,215.65 52.68,215.64 54.97,215.64 57.26,215.63 59.55,215.61 61.84,215.60 64.13,215.58 66.42,215.56 68.71,215.53 71.00,215.50 73.28,215.46 75.55,215.42 77.83,215.38 80.10,215.33 82.38,215.28 84.65,215.23 86.92,215.17 89.20,215.11 91.47,215.05 93.75,214.99 96.03,214.93 98.30,214.86 100.58,214.80 102.85,214.74 105.12,214.67 107.40,214.61 109.67,214.54 111.95,214.48 114.22,214.42 116.50,214.37" fill="none" stroke="#9a9a9a" stroke-width="1.25"/>
<polyline points="25.20,215.88 27.49,215.86 29.78,215.85 32.07,215.83 34.36,215.82 36.65,215.81 38.94,215.80 41.23,215.79 43.52,215.78 45.81,215.77 48.10,215.76 50.39,215.75 52.68,215.73 54.97,215.72 57.26,215.70 59.55,215.67 61.84,215.65 64.13,215.62 66.42,215.58 68.71,215.54 71.00,215.50 73.28,215.45 75.55,215.39 77.83,215.33 80.10,215.27 82.38,215.20 84.65,215.13 86.92,215.05 89.20,214.98 91.47,214.90 93.75,214.81 96.03,214.73 98.30,214.65 100.58,214.56 102.85,214.48 105.12,214.39 107.40,214.31 109.67,214.22 111.95,214.14 114.22,214.06 116.50,213.99" fill="none" stroke="#b8904a" stroke-width="1.25"/>
<polyline points="25.20,215.88 27.49,215.86 29.78,215.85 32.07,215.84 34.36,215.83 36.65,215.82 38.94,215.82 41.23,215.81 43.52,215.81 45.81,215.80 48.10,215.80 50.39,215.79 52.68,215.77 54.97,215.76 57.26,215.74 59.55,215.71 61.84,215.68 64.13,215.65 66.42,215.61 68.71,215.56 71.00,215.50 73.28,215.43 75.55,215.36 77.83,215.28 80.10,215.19 82.38,215.10 84.65,215.00 86.92,214.90 89.20,214.79 91.47,214.68 93.75,214.57 96.03,214.45 98.30,214.33 100.58,214.22 102.85,214.10 105.12,213.98 107.40,213.86 109.67,213.75 111.95,213.64 114.22,213.53 116.50,213.42" fill="none" stroke="#74c04a" stroke-width="1.25"/>
<polyline points="25.20,217.01 27.49,216.96 29.78,216.91 32.07,216.85 34.36,216.80 36.65,216.75 38.94,216.70 41.23,216.64 43.52,216.58 45.81,216.52 48.10,216.45 50.39,216.37 52.68,216.31 54.97,216.24 57.26,216.18 59.55,216.10 61.84,216.02 64.13,215.92 66.42,215.80 68.71,215.67 71.00,215.50 73.28,215.31 75.55,215.10 77.83,214.88 80.10,214.64 82.38,214.38 84.65,214.10 86.92,213.81 89.20,213.51 91.47,213.19 93.75,212.85 96.03,212.50 98.30,212.12 100.58,211.71 102.85,211.30 105.12,210.87 107.40,210.43 109.67,209.99 111.95,209.55 114.22,209.11 116.50,208.69" fill="none" stroke="#e2489a" stroke-width="1.25"/>
<polyline points="25.20,227.23 27.49,226.95 29.78,226.71 32.07,226.50 34.36,226.29 36.65,226.07 38.94,225.82 41.23,225.53 43.52,225.17 45.81,224.73 48.10,224.20 50.39,223.57 52.68,222.87 54.97,222.10 57.26,221.27 59.55,220.39 61.84,219.47 64.13,218.51 66.42,217.52 68.71,216.52 71.00,215.50 73.28,214.46 75.55,213.39 77.83,212.29 80.10,211.15 82.38,209.99 84.65,208.80 86.92,207.58 89.20,206.34 91.47,205.07 93.75,203.77 96.03,202.44 98.30,201.07 100.58,199.65 102.85,198.21 105.12,196.75 107.40,195.27 109.67,193.79 111.95,192.31 114.22,190.85 116.50,189.40" fill="none" stroke="#7a78c6" stroke-width="1.25"/>
<polyline points="25.20,245.01 27.49,243.54 29.78,242.09 32.07,240.65 34.36,239.22 36.65,237.80 38.94,236.38 41.23,234.97 43.52,233.55 45.81,232.13 48.10,230.70 50.39,229.27 52.68,227.82 54.97,226.36 57.26,224.88 59.55,223.38 61.84,221.86 64.13,220.32 66.42,218.74 68.71,217.14 71.00,215.50 73.28,213.83 75.55,212.12 77.83,210.39 80.10,208.62 82.38,206.83 84.65,205.02 86.92,203.19 89.20,201.34 91.47,199.48 93.75,197.60 96.03,195.72 98.30,193.83 100.58,191.93 102.85,190.04 105.12,188.15 107.40,186.26 109.67,184.38 111.95,182.51 114.22,180.65 116.50,178.80" fill="none" stroke="#3eaa78" stroke-width="1.25"/>
<polyline points="25.20,250.30 27.49,248.57 29.78,246.85 32.07,245.13 34.36,243.42 36.65,241.72 38.94,240.02 41.23,238.32 43.52,236.62 45.81,234.92 48.10,233.21 50.39,231.50 52.68,229.78 54.97,228.04 57.26,226.30 59.55,224.55 61.84,222.78 64.13,220.99 66.42,219.18 68.71,217.35 71.00,215.50 73.28,213.62 75.55,211.73 77.83,209.81 80.10,207.87 82.38,205.92 84.65,203.95 86.92,201.96 89.20,199.97 91.47,197.96 93.75,195.95 96.03,193.93 98.30,191.90 100.58,189.88 102.85,187.85 105.12,185.82 107.40,183.80 109.67,181.78 111.95,179.77 114.22,177.77 116.50,175.78" fill="none" stroke="#e8703a" stroke-width="1.25"/>
<line x1="129.10" y1="171.10" x2="138.60" y2="171.10" stroke="#e8703a" stroke-width="1.2"/>
<text x="143.90" y="174.30" font-size="9.0" fill="#231f20" stroke="#231f20" stroke-width="0.2" text-anchor="start">3</text>
<line x1="129.10" y1="182.20" x2="138.60" y2="182.20" stroke="#3eaa78" stroke-width="1.2"/>
<text x="143.90" y="185.40" font-size="9.0" fill="#231f20" stroke="#231f20" stroke-width="0.2" text-anchor="start">1</text>
<line x1="129.10" y1="193.30" x2="138.60" y2="193.30" stroke="#7a78c6" stroke-width="1.2"/>
<text x="143.90" y="196.50" font-size="9.0" fill="#231f20" stroke="#231f20" stroke-width="0.2" text-anchor="start">0.3</text>
<line x1="129.10" y1="204.40" x2="138.60" y2="204.40" stroke="#e2489a" stroke-width="1.2"/>
<text x="143.90" y="207.60" font-size="9.0" fill="#231f20" stroke="#231f20" stroke-width="0.2" text-anchor="start">0.1</text>
<line x1="129.10" y1="215.50" x2="138.60" y2="215.50" stroke="#74c04a" stroke-width="1.2"/>
<text x="143.90" y="218.70" font-size="9.0" fill="#231f20" stroke="#231f20" stroke-width="0.2" text-anchor="start">0.03</text>
<line x1="129.10" y1="226.60" x2="138.60" y2="226.60" stroke="#b8904a" stroke-width="1.2"/>
<text x="143.90" y="229.80" font-size="9.0" fill="#231f20" stroke="#231f20" stroke-width="0.2" text-anchor="start">0.01</text>
<line x1="129.10" y1="237.70" x2="138.60" y2="237.70" stroke="#a0a0a0" stroke-width="1.5"/>
<text x="143.90" y="240.90" font-size="9.0" fill="#231f20" stroke="#231f20" stroke-width="0.2" text-anchor="start">Veh</text>
<line x1="163.10" y1="168.10" x2="163.10" y2="230.80" stroke="#333" stroke-width="1"/>
<text x="167.00" y="184.30" font-size="8.6" fill="#231f20" stroke="#231f20" stroke-width="0.2" text-anchor="start" transform="rotate(90 167.00 184.30)">DAB (μM)</text>
<text x="186.80" y="157.00" font-size="16" fill="#231f20" stroke="#231f20" stroke-width="0.2" text-anchor="start">E</text>
<text x="209.00" y="161.70" font-size="10.1" fill="#231f20" stroke="#231f20" stroke-width="0.2">25 °C, [Ca<tspan font-size="7.47" dy="-4.65">2+</tspan><tspan dy="4.65">]</tspan><tspan font-size="6.87" dy="2.83">i</tspan><tspan dy="-2.83">= 1 μM</tspan></text>
<line x1="243.10" y1="170.90" x2="243.10" y2="261.90" stroke="#3d3d3d" stroke-width="1.2"/>
<line x1="197.50" y1="225.50" x2="288.75" y2="225.50" stroke="#3d3d3d" stroke-width="1.2"/>
<line x1="240.50" y1="261.90" x2="243.10" y2="261.90" stroke="#3d3d3d" stroke-width="1"/>
<line x1="240.50" y1="243.70" x2="243.10" y2="243.70" stroke="#3d3d3d" stroke-width="1"/>
<line x1="240.50" y1="207.30" x2="243.10" y2="207.30" stroke="#3d3d3d" stroke-width="1"/>
<line x1="240.50" y1="189.10" x2="243.10" y2="189.10" stroke="#3d3d3d" stroke-width="1"/>
<line x1="240.50" y1="170.90" x2="243.10" y2="170.90" stroke="#3d3d3d" stroke-width="1"/>
<text x="239.50" y="174.30" font-size="9.4" fill="#231f20" stroke="#231f20" stroke-width="0.2" text-anchor="end">15</text>
<text x="239.50" y="192.50" font-size="9.4" fill="#231f20" stroke="#231f20" stroke-width="0.2" text-anchor="end">10</text>
<text x="239.50" y="210.70" font-size="9.4" fill="#231f20" stroke="#231f20" stroke-width="0.2" text-anchor="end">5</text>
<text x="239.50" y="247.10" font-size="9.4" fill="#231f20" stroke="#231f20" stroke-width="0.2" text-anchor="end">-5</text>
<text x="239.50" y="265.30" font-size="9.4" fill="#231f20" stroke="#231f20" stroke-width="0.2" text-anchor="end">-10</text>
<line x1="197.50" y1="225.50" x2="197.50" y2="223.10" stroke="#3d3d3d" stroke-width="1"/>
<text x="197.50" y="238.00" font-size="9.4" fill="#231f20" stroke="#231f20" stroke-width="0.2" text-anchor="middle">-100</text>
<line x1="220.30" y1="225.50" x2="220.30" y2="223.10" stroke="#3d3d3d" stroke-width="1"/>
<text x="220.30" y="238.00" font-size="9.4" fill="#231f20" stroke="#231f20" stroke-width="0.2" text-anchor="middle">-50</text>
<line x1="265.93" y1="225.50" x2="265.93" y2="223.10" stroke="#3d3d3d" stroke-width="1"/>
<text x="265.93" y="238.00" font-size="9.4" fill="#231f20" stroke="#231f20" stroke-width="0.2" text-anchor="middle">50</text>
<line x1="288.75" y1="225.50" x2="288.75" y2="223.10" stroke="#3d3d3d" stroke-width="1"/>
<text x="288.75" y="238.00" font-size="9.4" fill="#231f20" stroke="#231f20" stroke-width="0.2" text-anchor="middle">100</text>
<text x="192.50" y="212.70" font-size="8.8" fill="#231f20" stroke="#231f20" stroke-width="0.2" text-anchor="start">V (mV)</text>
<text x="254.50" y="264.00" font-size="8.6" fill="#231f20" stroke="#231f20" stroke-width="0.2" text-anchor="start" transform="rotate(-90 254.50 264.00)">I (nA)</text>
<polyline points="197.50,225.50 199.78,225.47 202.06,225.45 204.34,225.42 206.62,225.39 208.90,225.36 211.18,225.34 213.46,225.31 215.74,225.28 218.02,225.25 220.30,225.23 222.58,225.20 224.86,225.17 227.14,225.15 229.42,225.12 231.70,225.09 233.98,225.06 236.26,225.04 238.54,225.01 240.82,224.98 243.10,224.95 245.38,224.93 247.66,224.90 249.95,224.87 252.23,224.84 254.51,224.82 256.80,224.79 259.08,224.76 261.36,224.74 263.64,224.71 265.93,224.68 268.21,224.65 270.49,224.63 272.77,224.60 275.06,224.57 277.34,224.54 279.62,224.52 281.90,224.49 284.19,224.46 286.47,224.44 288.75,224.41" fill="none" stroke="#505050" stroke-width="1.25"/>
<polyline points="197.50,225.68 199.78,225.67 202.06,225.65 204.34,225.64 206.62,225.63 208.90,225.62 211.18,225.61 213.46,225.61 215.74,225.60 218.02,225.59 220.30,225.58 222.58,225.57 224.86,225.56 227.14,225.54 229.42,225.52 231.70,225.50 233.98,225.47 236.26,225.44 238.54,225.41 240.82,225.36 243.10,225.32 245.38,225.26 247.66,225.21 249.95,225.14 252.23,225.07 254.51,225.00 256.80,224.92 259.08,224.84 261.36,224.75 263.64,224.67 265.93,224.58 268.21,224.49 270.49,224.40 272.77,224.30 275.06,224.21 277.34,224.12 279.62,224.03 281.90,223.94 284.19,223.85 286.47,223.76 288.75,223.68" fill="none" stroke="#b8904a" stroke-width="1.25"/>
<polyline points="197.50,225.68 199.78,225.67 202.06,225.65 204.34,225.65 206.62,225.64 208.90,225.64 211.18,225.64 213.46,225.63 215.74,225.63 218.02,225.63 220.30,225.63 222.58,225.62 224.86,225.61 227.14,225.59 229.42,225.57 231.70,225.55 233.98,225.52 236.26,225.48 238.54,225.44 240.82,225.38 243.10,225.32 245.38,225.24 247.66,225.16 249.95,225.07 252.23,224.97 254.51,224.87 256.80,224.76 259.08,224.64 261.36,224.52 263.64,224.39 265.93,224.26 268.21,224.13 270.49,223.99 272.77,223.86 275.06,223.72 277.34,223.59 279.62,223.46 281.90,223.33 284.19,223.20 286.47,223.07 288.75,222.95" fill="none" stroke="#74c04a" stroke-width="1.25"/>
<polyline points="197.50,227.32 199.78,227.29 202.06,227.27 204.34,227.26 206.62,227.24 208.90,227.23 211.18,227.21 213.46,227.17 215.74,227.12 218.02,227.05 220.30,226.96 222.58,226.84 224.86,226.72 227.14,226.59 229.42,226.44 231.70,226.27 233.98,226.09 236.26,225.89 238.54,225.66 240.82,225.41 243.10,225.14 245.38,224.84 247.66,224.53 249.95,224.21 252.23,223.87 254.51,223.50 256.80,223.10 259.08,222.67 261.36,222.20 263.64,221.69 265.93,221.13 268.21,220.52 270.49,219.84 272.77,219.11 275.06,218.34 277.34,217.54 279.62,216.72 281.90,215.90 284.19,215.08 286.47,214.27 288.75,213.49" fill="none" stroke="#e2489a" stroke-width="1.25"/>
<polyline points="197.50,250.62 199.78,249.27 202.06,247.94 204.34,246.62 206.62,245.30 208.90,243.99 211.18,242.68 213.46,241.38 215.74,240.07 218.02,238.76 220.30,237.44 222.58,236.12 224.86,234.80 227.14,233.46 229.42,232.11 231.70,230.75 233.98,229.37 236.26,227.98 238.54,226.57 240.82,225.13 243.10,223.68 245.38,222.20 247.66,220.70 249.95,219.19 252.23,217.65 254.51,216.10 256.80,214.53 259.08,212.95 261.36,211.35 263.64,209.75 265.93,208.14 268.21,206.53 270.49,204.91 272.77,203.28 275.06,201.66 277.34,200.04 279.62,198.42 281.90,196.81 284.19,195.20 286.47,193.60 288.75,192.01" fill="none" stroke="#7a78c6" stroke-width="1.25"/>
<polyline points="197.50,259.35 199.78,257.49 202.06,255.64 204.34,253.78 206.62,251.91 208.90,250.05 211.18,248.19 213.46,246.33 215.74,244.47 218.02,242.60 220.30,240.74 222.58,238.88 224.86,237.02 227.14,235.16 229.42,233.31 231.70,231.45 233.98,229.60 236.26,227.75 238.54,225.91 240.82,224.06 243.10,222.22 245.38,220.39 247.66,218.55 249.95,216.72 252.23,214.90 254.51,213.07 256.80,211.25 259.08,209.43 261.36,207.61 263.64,205.79 265.93,203.98 268.21,202.16 270.49,200.35 272.77,198.54 275.06,196.72 277.34,194.91 279.62,193.09 281.90,191.28 284.19,189.46 286.47,187.64 288.75,185.82" fill="none" stroke="#3eaa78" stroke-width="1.25"/>
<polyline points="197.50,259.72 199.78,257.82 202.06,255.93 204.34,254.03 206.62,252.13 208.90,250.23 211.18,248.34 213.46,246.44 215.74,244.54 218.02,242.64 220.30,240.74 222.58,238.85 224.86,236.95 227.14,235.06 229.42,233.16 231.70,231.27 233.98,229.38 236.26,227.50 238.54,225.62 240.82,223.74 243.10,221.86 245.38,219.99 247.66,218.12 249.95,216.25 252.23,214.39 254.51,212.53 256.80,210.67 259.08,208.81 261.36,206.96 263.64,205.10 265.93,203.25 268.21,201.40 270.49,199.55 272.77,197.70 275.06,195.85 277.34,194.00 279.62,192.15 281.90,190.29 284.19,188.44 286.47,186.59 288.75,184.73" fill="none" stroke="#e8703a" stroke-width="1.25"/>
<line x1="300.40" y1="174.70" x2="311.30" y2="174.70" stroke="#e8703a" stroke-width="1.2"/>
<text x="316.80" y="177.90" font-size="9.0" fill="#231f20" stroke="#231f20" stroke-width="0.2" text-anchor="start">3</text>
<line x1="300.40" y1="186.10" x2="311.30" y2="186.10" stroke="#3eaa78" stroke-width="1.2"/>
<text x="316.80" y="189.30" font-size="9.0" fill="#231f20" stroke="#231f20" stroke-width="0.2" text-anchor="start">1</text>
<line x1="300.40" y1="197.50" x2="311.30" y2="197.50" stroke="#7a78c6" stroke-width="1.2"/>
<text x="316.80" y="200.70" font-size="9.0" fill="#231f20" stroke="#231f20" stroke-width="0.2" text-anchor="start">0.3</text>
<line x1="300.40" y1="208.90" x2="311.30" y2="208.90" stroke="#e2489a" stroke-width="1.2"/>
<text x="316.80" y="212.10" font-size="9.0" fill="#231f20" stroke="#231f20" stroke-width="0.2" text-anchor="start">0.1</text>
<line x1="300.40" y1="220.30" x2="311.30" y2="220.30" stroke="#74c04a" stroke-width="1.2"/>
<text x="316.80" y="223.50" font-size="9.0" fill="#231f20" stroke="#231f20" stroke-width="0.2" text-anchor="start">0.03</text>
<line x1="300.40" y1="231.70" x2="311.30" y2="231.70" stroke="#b8904a" stroke-width="1.2"/>
<text x="316.80" y="234.90" font-size="9.0" fill="#231f20" stroke="#231f20" stroke-width="0.2" text-anchor="start">0.01</text>
<line x1="300.40" y1="243.10" x2="311.30" y2="243.10" stroke="#505050" stroke-width="1.2"/>
<text x="316.80" y="246.30" font-size="9.0" fill="#231f20" stroke="#231f20" stroke-width="0.2" text-anchor="start">Veh</text>
<line x1="335.20" y1="171.00" x2="335.20" y2="232.90" stroke="#7a7a7a" stroke-width="1.5"/>
<text x="338.40" y="186.00" font-size="8.6" fill="#231f20" stroke="#231f20" stroke-width="0.2" text-anchor="start" transform="rotate(90 338.40 186.00)">DAB (μM)</text>
<text x="356.80" y="157.00" font-size="16" fill="#231f20" stroke="#231f20" stroke-width="0.2" text-anchor="start">H</text>
<text x="382.80" y="161.70" font-size="10.1" fill="#231f20" stroke="#231f20" stroke-width="0.2">37 °C, [Ca<tspan font-size="7.47" dy="-4.65">2+</tspan><tspan dy="4.65">]</tspan><tspan font-size="6.87" dy="2.83">i</tspan><tspan dy="-2.83">= 0 μM</tspan></text>
<line x1="415.00" y1="170.65" x2="415.00" y2="261.85" stroke="#3d3d3d" stroke-width="1.2"/>
<line x1="369.25" y1="216.25" x2="461.25" y2="216.25" stroke="#3d3d3d" stroke-width="1.2"/>
<line x1="412.40" y1="261.85" x2="415.00" y2="261.85" stroke="#3d3d3d" stroke-width="1"/>
<line x1="412.40" y1="246.65" x2="415.00" y2="246.65" stroke="#3d3d3d" stroke-width="1"/>
<line x1="412.40" y1="231.45" x2="415.00" y2="231.45" stroke="#3d3d3d" stroke-width="1"/>
<line x1="412.40" y1="201.05" x2="415.00" y2="201.05" stroke="#3d3d3d" stroke-width="1"/>
<line x1="412.40" y1="185.85" x2="415.00" y2="185.85" stroke="#3d3d3d" stroke-width="1"/>
<line x1="412.40" y1="170.65" x2="415.00" y2="170.65" stroke="#3d3d3d" stroke-width="1"/>
<text x="411.40" y="174.05" font-size="9.4" fill="#231f20" stroke="#231f20" stroke-width="0.2" text-anchor="end">6</text>
<text x="411.40" y="189.25" font-size="9.4" fill="#231f20" stroke="#231f20" stroke-width="0.2" text-anchor="end">4</text>
<text x="411.40" y="204.45" font-size="9.4" fill="#231f20" stroke="#231f20" stroke-width="0.2" text-anchor="end">2</text>
<text x="411.40" y="234.85" font-size="9.4" fill="#231f20" stroke="#231f20" stroke-width="0.2" text-anchor="end">-2</text>
<text x="411.40" y="250.05" font-size="9.4" fill="#231f20" stroke="#231f20" stroke-width="0.2" text-anchor="end">-4</text>
<text x="411.40" y="265.25" font-size="9.4" fill="#231f20" stroke="#231f20" stroke-width="0.2" text-anchor="end">-6</text>
<line x1="369.25" y1="216.25" x2="369.25" y2="213.85" stroke="#3d3d3d" stroke-width="1"/>
<text x="369.25" y="228.75" font-size="9.4" fill="#231f20" stroke="#231f20" stroke-width="0.2" text-anchor="middle">-100</text>
<line x1="392.12" y1="216.25" x2="392.12" y2="213.85" stroke="#3d3d3d" stroke-width="1"/>
<text x="392.12" y="228.75" font-size="9.4" fill="#231f20" stroke="#231f20" stroke-width="0.2" text-anchor="middle">-50</text>
<line x1="438.12" y1="216.25" x2="438.12" y2="213.85" stroke="#3d3d3d" stroke-width="1"/>
<text x="438.12" y="228.75" font-size="9.4" fill="#231f20" stroke="#231f20" stroke-width="0.2" text-anchor="middle">50</text>
<line x1="461.25" y1="216.25" x2="461.25" y2="213.85" stroke="#3d3d3d" stroke-width="1"/>
<text x="461.25" y="228.75" font-size="9.4" fill="#231f20" stroke="#231f20" stroke-width="0.2" text-anchor="middle">100</text>
<text x="363.75" y="212.70" font-size="8.8" fill="#231f20" stroke="#231f20" stroke-width="0.2" text-anchor="start">V (mV)</text>
<text x="426.50" y="264.00" font-size="8.6" fill="#231f20" stroke="#231f20" stroke-width="0.2" text-anchor="start" transform="rotate(-90 426.50 264.00)">I (nA)</text>
<polyline points="369.25,216.25 371.54,216.23 373.82,216.21 376.11,216.19 378.40,216.17 380.69,216.16 382.98,216.14 385.26,216.12 387.55,216.10 389.84,216.08 392.12,216.06 394.41,216.04 396.70,216.02 398.99,216.00 401.27,215.98 403.56,215.97 405.85,215.95 408.14,215.93 410.43,215.91 412.71,215.89 415.00,215.87 417.31,215.85 419.62,215.83 421.94,215.81 424.25,215.79 426.56,215.78 428.88,215.76 431.19,215.74 433.50,215.72 435.81,215.70 438.12,215.68 440.44,215.66 442.75,215.64 445.06,215.62 447.38,215.60 449.69,215.59 452.00,215.57 454.31,215.55 456.62,215.53 458.94,215.51 461.25,215.49" fill="none" stroke="#505050" stroke-width="1.25"/>
<polyline points="369.25,216.63 371.54,216.61 373.82,216.60 376.11,216.59 378.40,216.58 380.69,216.58 382.98,216.58 385.26,216.57 387.55,216.57 389.84,216.56 392.12,216.56 394.41,216.55 396.70,216.54 398.99,216.52 401.27,216.50 403.56,216.48 405.85,216.45 408.14,216.41 410.43,216.36 412.71,216.31 415.00,216.25 417.31,216.18 419.62,216.10 421.94,216.01 424.25,215.92 426.56,215.81 428.88,215.71 431.19,215.59 433.50,215.47 435.81,215.35 438.12,215.23 440.44,215.10 442.75,214.97 445.06,214.84 447.38,214.71 449.69,214.58 452.00,214.46 454.31,214.33 456.62,214.21 458.94,214.09 461.25,213.97" fill="none" stroke="#b8904a" stroke-width="1.25"/>
<polyline points="369.25,217.01 371.54,216.97 373.82,216.94 376.11,216.92 378.40,216.89 380.69,216.87 382.98,216.85 385.26,216.83 387.55,216.82 389.84,216.79 392.12,216.77 394.41,216.75 396.70,216.72 398.99,216.68 401.27,216.65 403.56,216.60 405.85,216.55 408.14,216.49 410.43,216.42 412.71,216.34 415.00,216.25 417.31,216.15 419.62,216.04 421.94,215.92 424.25,215.79 426.56,215.65 428.88,215.51 431.19,215.35 433.50,215.20 435.81,215.04 438.12,214.87 440.44,214.70 442.75,214.54 445.06,214.36 447.38,214.19 449.69,214.02 452.00,213.85 454.31,213.69 456.62,213.52 458.94,213.36 461.25,213.21" fill="none" stroke="#74c04a" stroke-width="1.25"/>
<polyline points="369.25,221.19 371.54,221.01 373.82,220.83 376.11,220.66 378.40,220.48 380.69,220.31 382.98,220.13 385.26,219.94 387.55,219.74 389.84,219.53 392.12,219.29 394.41,219.06 396.70,218.85 398.99,218.64 401.27,218.43 403.56,218.20 405.85,217.93 408.14,217.62 410.43,217.24 412.71,216.79 415.00,216.25 417.31,215.61 419.62,214.88 421.94,214.07 424.25,213.20 426.56,212.28 428.88,211.33 431.19,210.37 433.50,209.40 435.81,208.44 438.12,207.51 440.44,206.59 442.75,205.66 445.06,204.72 447.38,203.76 449.69,202.81 452.00,201.85 454.31,200.88 456.62,199.92 458.94,198.96 461.25,198.01" fill="none" stroke="#e2489a" stroke-width="1.25"/>
<polyline points="369.25,247.41 371.54,245.86 373.82,244.31 376.11,242.77 378.40,241.24 380.69,239.71 382.98,238.18 385.26,236.66 387.55,235.13 389.84,233.60 392.12,232.07 394.41,230.53 396.70,228.99 398.99,227.44 401.27,225.88 403.56,224.31 405.85,222.73 408.14,221.13 410.43,219.52 412.71,217.89 415.00,216.25 417.31,214.59 419.62,212.91 421.94,211.21 424.25,209.50 426.56,207.78 428.88,206.04 431.19,204.29 433.50,202.54 435.81,200.78 438.12,199.01 440.44,197.23 442.75,195.46 445.06,193.68 447.38,191.90 449.69,190.12 452.00,188.34 454.31,186.57 456.62,184.80 458.94,183.04 461.25,181.29" fill="none" stroke="#7a78c6" stroke-width="1.25"/>
<polyline points="369.25,249.69 371.54,248.02 373.82,246.36 376.11,244.70 378.40,243.04 380.69,241.38 382.98,239.73 385.26,238.08 387.55,236.42 389.84,234.77 392.12,233.11 394.41,231.45 396.70,229.79 398.99,228.12 401.27,226.45 403.56,224.77 405.85,223.08 408.14,221.39 410.43,219.69 412.71,217.97 415.00,216.25 417.31,214.52 419.62,212.77 421.94,211.02 424.25,209.25 426.56,207.48 428.88,205.70 431.19,203.92 433.50,202.13 435.81,200.33 438.12,198.53 440.44,196.73 442.75,194.93 445.06,193.12 447.38,191.32 449.69,189.51 452.00,187.71 454.31,185.91 456.62,184.11 458.94,182.32 461.25,180.53" fill="none" stroke="#3eaa78" stroke-width="1.25"/>
<polyline points="369.25,248.17 371.54,246.58 373.82,245.00 376.11,243.43 378.40,241.86 380.69,240.30 382.98,238.74 385.26,237.18 387.55,235.62 389.84,234.06 392.12,232.50 394.41,230.92 396.70,229.35 398.99,227.76 401.27,226.16 403.56,224.55 405.85,222.93 408.14,221.29 410.43,219.63 412.71,217.95 415.00,216.25 417.31,214.53 419.62,212.79 421.94,211.03 424.25,209.25 426.56,207.45 428.88,205.64 431.19,203.82 433.50,201.99 435.81,200.14 438.12,198.30 440.44,196.44 442.75,194.58 445.06,192.72 447.38,190.86 449.69,189.00 452.00,187.14 454.31,185.29 456.62,183.44 458.94,181.60 461.25,179.77" fill="none" stroke="#e8703a" stroke-width="1.25"/>
<line x1="471.60" y1="170.80" x2="481.10" y2="170.80" stroke="#e8703a" stroke-width="1.2"/>
<text x="486.30" y="174.00" font-size="9.0" fill="#231f20" stroke="#231f20" stroke-width="0.2" text-anchor="start">10</text>
<line x1="471.60" y1="182.45" x2="481.10" y2="182.45" stroke="#3eaa78" stroke-width="1.2"/>
<text x="486.30" y="185.65" font-size="9.0" fill="#231f20" stroke="#231f20" stroke-width="0.2" text-anchor="start">3</text>
<line x1="471.60" y1="194.10" x2="481.10" y2="194.10" stroke="#7a78c6" stroke-width="1.2"/>
<text x="486.30" y="197.30" font-size="9.0" fill="#231f20" stroke="#231f20" stroke-width="0.2" text-anchor="start">1</text>
<line x1="471.60" y1="205.75" x2="481.10" y2="205.75" stroke="#e2489a" stroke-width="1.2"/>
<text x="486.30" y="208.95" font-size="9.0" fill="#231f20" stroke="#231f20" stroke-width="0.2" text-anchor="start">0.3</text>
<line x1="471.60" y1="217.40" x2="481.10" y2="217.40" stroke="#74c04a" stroke-width="1.2"/>
<text x="486.30" y="220.60" font-size="9.0" fill="#231f20" stroke="#231f20" stroke-width="0.2" text-anchor="start">0.1</text>
<line x1="471.60" y1="229.05" x2="481.10" y2="229.05" stroke="#b8904a" stroke-width="1.2"/>
<text x="486.30" y="232.25" font-size="9.0" fill="#231f20" stroke="#231f20" stroke-width="0.2" text-anchor="start">0.03</text>
<line x1="471.60" y1="240.70" x2="481.10" y2="240.70" stroke="#505050" stroke-width="1.2"/>
<text x="486.30" y="243.90" font-size="9.0" fill="#231f20" stroke="#231f20" stroke-width="0.2" text-anchor="start">Veh</text>
<line x1="505.50" y1="170.20" x2="505.50" y2="232.30" stroke="#333" stroke-width="1"/>
<text x="508.00" y="182.60" font-size="8.6" fill="#231f20" stroke="#231f20" stroke-width="0.2" text-anchor="start" transform="rotate(90 508.00 182.60)">DAB (μM)</text>
<text x="524.30" y="157.00" font-size="16" fill="#231f20" stroke="#231f20" stroke-width="0.2" text-anchor="start">K</text>
<text x="551.50" y="161.70" font-size="10.1" fill="#231f20" stroke="#231f20" stroke-width="0.2">37 °C, [Ca<tspan font-size="7.47" dy="-4.65">2+</tspan><tspan dy="4.65">]</tspan><tspan font-size="6.87" dy="2.83">i</tspan><tspan dy="-2.83">= 1 μM</tspan></text>
<line x1="583.25" y1="169.88" x2="583.25" y2="261.32" stroke="#3d3d3d" stroke-width="1.2"/>
<line x1="537.50" y1="215.60" x2="628.75" y2="215.60" stroke="#3d3d3d" stroke-width="1.2"/>
<line x1="580.65" y1="261.32" x2="583.25" y2="261.32" stroke="#3d3d3d" stroke-width="1"/>
<line x1="580.65" y1="238.46" x2="583.25" y2="238.46" stroke="#3d3d3d" stroke-width="1"/>
<line x1="580.65" y1="192.74" x2="583.25" y2="192.74" stroke="#3d3d3d" stroke-width="1"/>
<line x1="580.65" y1="169.88" x2="583.25" y2="169.88" stroke="#3d3d3d" stroke-width="1"/>
<text x="579.65" y="173.28" font-size="9.4" fill="#231f20" stroke="#231f20" stroke-width="0.2" text-anchor="end">4</text>
<text x="579.65" y="196.14" font-size="9.4" fill="#231f20" stroke="#231f20" stroke-width="0.2" text-anchor="end">2</text>
<text x="579.65" y="241.86" font-size="9.4" fill="#231f20" stroke="#231f20" stroke-width="0.2" text-anchor="end">-2</text>
<text x="579.65" y="264.72" font-size="9.4" fill="#231f20" stroke="#231f20" stroke-width="0.2" text-anchor="end">-4</text>
<line x1="537.50" y1="215.60" x2="537.50" y2="213.20" stroke="#3d3d3d" stroke-width="1"/>
<text x="537.50" y="228.10" font-size="9.4" fill="#231f20" stroke="#231f20" stroke-width="0.2" text-anchor="middle">-100</text>
<line x1="560.38" y1="215.60" x2="560.38" y2="213.20" stroke="#3d3d3d" stroke-width="1"/>
<text x="560.38" y="228.10" font-size="9.4" fill="#231f20" stroke="#231f20" stroke-width="0.2" text-anchor="middle">-50</text>
<line x1="606.00" y1="215.60" x2="606.00" y2="213.20" stroke="#3d3d3d" stroke-width="1"/>
<text x="606.00" y="228.10" font-size="9.4" fill="#231f20" stroke="#231f20" stroke-width="0.2" text-anchor="middle">50</text>
<line x1="628.75" y1="215.60" x2="628.75" y2="213.20" stroke="#3d3d3d" stroke-width="1"/>
<text x="628.75" y="228.10" font-size="9.4" fill="#231f20" stroke="#231f20" stroke-width="0.2" text-anchor="middle">100</text>
<text x="533.75" y="212.20" font-size="8.8" fill="#231f20" stroke="#231f20" stroke-width="0.2" text-anchor="start">V (mV)</text>
<text x="591.50" y="264.00" font-size="8.6" fill="#231f20" stroke="#231f20" stroke-width="0.2" text-anchor="start" transform="rotate(-90 591.50 264.00)">I (nA)</text>
<polyline points="537.50,215.60 539.79,215.57 542.08,215.54 544.36,215.51 546.65,215.49 548.94,215.46 551.23,215.43 553.51,215.40 555.80,215.37 558.09,215.34 560.38,215.31 562.66,215.29 564.95,215.26 567.24,215.23 569.52,215.20 571.81,215.17 574.10,215.14 576.39,215.11 578.67,215.09 580.96,215.06 583.25,215.03 585.52,215.00 587.80,214.97 590.08,214.94 592.35,214.91 594.62,214.89 596.90,214.86 599.17,214.83 601.45,214.80 603.73,214.77 606.00,214.74 608.27,214.71 610.55,214.69 612.83,214.66 615.10,214.63 617.38,214.60 619.65,214.57 621.92,214.54 624.20,214.51 626.48,214.49 628.75,214.46" fill="none" stroke="#505050" stroke-width="1.25"/>
<polyline points="537.50,216.17 539.79,216.15 542.08,216.13 544.36,216.12 546.65,216.11 548.94,216.11 551.23,216.11 553.51,216.11 555.80,216.11 558.09,216.11 560.38,216.10 562.66,216.09 564.95,216.08 567.24,216.05 569.52,216.02 571.81,215.98 574.10,215.93 576.39,215.87 578.67,215.80 580.96,215.71 583.25,215.60 585.52,215.48 587.80,215.34 590.08,215.19 592.35,215.02 594.62,214.84 596.90,214.65 599.17,214.45 601.45,214.25 603.73,214.03 606.00,213.81 608.27,213.59 610.55,213.36 612.83,213.14 615.10,212.91 617.38,212.68 619.65,212.45 621.92,212.23 624.20,212.01 626.48,211.80 628.75,211.60" fill="none" stroke="#b8904a" stroke-width="1.25"/>
<polyline points="537.50,216.74 539.79,216.69 542.08,216.64 544.36,216.60 546.65,216.57 548.94,216.54 551.23,216.51 553.51,216.48 555.80,216.45 558.09,216.42 560.38,216.39 562.66,216.35 564.95,216.30 567.24,216.25 569.52,216.19 571.81,216.13 574.10,216.05 576.39,215.96 578.67,215.85 580.96,215.73 583.25,215.60 585.52,215.45 587.80,215.28 590.08,215.10 592.35,214.91 594.62,214.70 596.90,214.48 599.17,214.25 601.45,214.02 603.73,213.78 606.00,213.53 608.27,213.28 610.55,213.02 612.83,212.76 615.10,212.51 617.38,212.25 619.65,212.00 621.92,211.75 624.20,211.50 626.48,211.26 628.75,211.03" fill="none" stroke="#74c04a" stroke-width="1.25"/>
<polyline points="537.50,225.32 539.79,224.92 542.08,224.54 544.36,224.17 546.65,223.80 548.94,223.42 551.23,223.04 553.51,222.64 555.80,222.22 558.09,221.78 560.38,221.31 562.66,220.83 564.95,220.33 567.24,219.82 569.52,219.29 571.81,218.74 574.10,218.17 576.39,217.58 578.67,216.95 580.96,216.29 583.25,215.60 585.52,214.87 587.80,214.10 590.08,213.31 592.35,212.49 594.62,211.64 596.90,210.76 599.17,209.86 601.45,208.93 603.73,207.99 606.00,207.03 608.27,206.03 610.55,205.00 612.83,203.94 615.10,202.85 617.38,201.74 619.65,200.62 621.92,199.50 624.20,198.38 626.48,197.27 628.75,196.17" fill="none" stroke="#e2489a" stroke-width="1.25"/>
<polyline points="537.50,245.55 539.79,244.05 542.08,242.55 544.36,241.05 546.65,239.56 548.94,238.06 551.23,236.56 553.51,235.07 555.80,233.57 558.09,232.07 560.38,230.57 562.66,229.08 564.95,227.58 567.24,226.08 569.52,224.58 571.81,223.09 574.10,221.59 576.39,220.09 578.67,218.59 580.96,217.10 583.25,215.60 585.52,214.10 587.80,212.61 590.08,211.11 592.35,209.61 594.62,208.11 596.90,206.62 599.17,205.12 601.45,203.62 603.73,202.12 606.00,200.63 608.27,199.13 610.55,197.63 612.83,196.13 615.10,194.64 617.38,193.14 619.65,191.64 621.92,190.15 624.20,188.65 626.48,187.15 628.75,185.65" fill="none" stroke="#7a78c6" stroke-width="1.25"/>
<polyline points="537.50,248.75 539.79,247.09 542.08,245.43 544.36,243.77 546.65,242.12 548.94,240.46 551.23,238.80 553.51,237.15 555.80,235.49 558.09,233.83 560.38,232.17 562.66,230.52 564.95,228.86 567.24,227.20 569.52,225.54 571.81,223.89 574.10,222.23 576.39,220.57 578.67,218.91 580.96,217.26 583.25,215.60 585.52,213.94 587.80,212.29 590.08,210.63 592.35,208.97 594.62,207.31 596.90,205.66 599.17,204.00 601.45,202.34 603.73,200.68 606.00,199.03 608.27,197.37 610.55,195.71 612.83,194.05 615.10,192.40 617.38,190.74 619.65,189.08 621.92,187.43 624.20,185.77 626.48,184.11 628.75,182.45" fill="none" stroke="#3eaa78" stroke-width="1.25"/>
<polyline points="537.50,244.17 539.79,242.75 542.08,241.32 544.36,239.90 546.65,238.48 548.94,237.06 551.23,235.64 553.51,234.22 555.80,232.80 558.09,231.38 560.38,229.96 562.66,228.54 564.95,227.11 567.24,225.69 569.52,224.26 571.81,222.82 574.10,221.39 576.39,219.95 578.67,218.50 580.96,217.05 583.25,215.60 585.52,214.14 587.80,212.67 590.08,211.20 592.35,209.73 594.62,208.25 596.90,206.77 599.17,205.28 601.45,203.80 603.73,202.30 606.00,200.81 608.27,199.32 610.55,197.82 612.83,196.33 615.10,194.83 617.38,193.34 619.65,191.84 621.92,190.35 624.20,188.86 626.48,187.37 628.75,185.88" fill="none" stroke="#e8703a" stroke-width="1.25"/>
<line x1="639.90" y1="173.60" x2="649.40" y2="173.60" stroke="#e8703a" stroke-width="1.2"/>
<text x="654.60" y="176.80" font-size="9.0" fill="#231f20" stroke="#231f20" stroke-width="0.2" text-anchor="start">10</text>
<line x1="639.90" y1="185.25" x2="649.40" y2="185.25" stroke="#3eaa78" stroke-width="1.2"/>
<text x="654.60" y="188.45" font-size="9.0" fill="#231f20" stroke="#231f20" stroke-width="0.2" text-anchor="start">3</text>
<line x1="639.90" y1="196.90" x2="649.40" y2="196.90" stroke="#7a78c6" stroke-width="1.2"/>
<text x="654.60" y="200.10" font-size="9.0" fill="#231f20" stroke="#231f20" stroke-width="0.2" text-anchor="start">1</text>
<line x1="639.90" y1="208.55" x2="649.40" y2="208.55" stroke="#e2489a" stroke-width="1.2"/>
<text x="654.60" y="211.75" font-size="9.0" fill="#231f20" stroke="#231f20" stroke-width="0.2" text-anchor="start">0.3</text>
<line x1="639.90" y1="220.20" x2="649.40" y2="220.20" stroke="#74c04a" stroke-width="1.2"/>
<text x="654.60" y="223.40" font-size="9.0" fill="#231f20" stroke="#231f20" stroke-width="0.2" text-anchor="start">0.1</text>
<line x1="639.90" y1="231.85" x2="649.40" y2="231.85" stroke="#b8904a" stroke-width="1.2"/>
<text x="654.60" y="235.05" font-size="9.0" fill="#231f20" stroke="#231f20" stroke-width="0.2" text-anchor="start">0.03</text>
<line x1="639.90" y1="243.50" x2="649.40" y2="243.50" stroke="#505050" stroke-width="1.2"/>
<text x="654.60" y="246.70" font-size="9.0" fill="#231f20" stroke="#231f20" stroke-width="0.2" text-anchor="start">Veh</text>
<line x1="673.50" y1="172.50" x2="673.50" y2="234.80" stroke="#333" stroke-width="1"/>
<text x="676.50" y="187.00" font-size="8.6" fill="#231f20" stroke="#231f20" stroke-width="0.2" text-anchor="start" transform="rotate(90 676.50 187.00)">DAB (μM)</text>
<text x="1.70" y="295.80" font-size="16" fill="#231f20" stroke="#231f20" stroke-width="0.2" text-anchor="start">C</text>
<text x="62.40" y="304.90" font-size="9.4" fill="#231f20" stroke="#231f20" stroke-width="0.2">25 °C, [Ca<tspan font-size="6.96" dy="-4.32">2+</tspan><tspan dy="4.32">]</tspan><tspan font-size="6.39" dy="2.63">i</tspan><tspan dy="-2.63">= 0 μM</tspan></text>
<line x1="32.40" y1="305.70" x2="32.40" y2="391.50" stroke="#3d3d3d" stroke-width="1.25"/>
<line x1="32.40" y1="391.50" x2="162.30" y2="391.50" stroke="#3d3d3d" stroke-width="1.25"/>
<line x1="29.80" y1="391.50" x2="32.40" y2="391.50" stroke="#3d3d3d" stroke-width="1"/>
<text x="29.00" y="394.90" font-size="9.4" fill="#231f20" stroke="#231f20" stroke-width="0.2" text-anchor="end">0.0</text>
<line x1="29.80" y1="370.18" x2="32.40" y2="370.18" stroke="#3d3d3d" stroke-width="1"/>
<text x="29.00" y="373.57" font-size="9.4" fill="#231f20" stroke="#231f20" stroke-width="0.2" text-anchor="end">0.3</text>
<line x1="29.80" y1="348.85" x2="32.40" y2="348.85" stroke="#3d3d3d" stroke-width="1"/>
<text x="29.00" y="352.25" font-size="9.4" fill="#231f20" stroke="#231f20" stroke-width="0.2" text-anchor="end">0.6</text>
<line x1="29.80" y1="327.52" x2="32.40" y2="327.52" stroke="#3d3d3d" stroke-width="1"/>
<text x="29.00" y="330.92" font-size="9.4" fill="#231f20" stroke="#231f20" stroke-width="0.2" text-anchor="end">0.9</text>
<line x1="29.80" y1="306.20" x2="32.40" y2="306.20" stroke="#3d3d3d" stroke-width="1"/>
<text x="29.00" y="309.60" font-size="9.4" fill="#231f20" stroke="#231f20" stroke-width="0.2" text-anchor="end">1.2</text>
<line x1="32.95" y1="391.50" x2="32.95" y2="393.00" stroke="#3d3d3d" stroke-width="0.8"/>
<line x1="39.06" y1="391.50" x2="39.06" y2="393.00" stroke="#3d3d3d" stroke-width="0.8"/>
<line x1="43.39" y1="391.50" x2="43.39" y2="393.00" stroke="#3d3d3d" stroke-width="0.8"/>
<line x1="46.75" y1="391.50" x2="46.75" y2="393.00" stroke="#3d3d3d" stroke-width="0.8"/>
<line x1="49.50" y1="391.50" x2="49.50" y2="393.00" stroke="#3d3d3d" stroke-width="0.8"/>
<line x1="51.82" y1="391.50" x2="51.82" y2="393.00" stroke="#3d3d3d" stroke-width="0.8"/>
<line x1="53.84" y1="391.50" x2="53.84" y2="393.00" stroke="#3d3d3d" stroke-width="0.8"/>
<line x1="55.61" y1="391.50" x2="55.61" y2="393.00" stroke="#3d3d3d" stroke-width="0.8"/>
<line x1="57.20" y1="391.50" x2="57.20" y2="394.10" stroke="#3d3d3d" stroke-width="1"/>
<line x1="67.65" y1="391.50" x2="67.65" y2="393.00" stroke="#3d3d3d" stroke-width="0.8"/>
<line x1="73.76" y1="391.50" x2="73.76" y2="393.00" stroke="#3d3d3d" stroke-width="0.8"/>
<line x1="78.09" y1="391.50" x2="78.09" y2="393.00" stroke="#3d3d3d" stroke-width="0.8"/>
<line x1="81.45" y1="391.50" x2="81.45" y2="393.00" stroke="#3d3d3d" stroke-width="0.8"/>
<line x1="84.20" y1="391.50" x2="84.20" y2="393.00" stroke="#3d3d3d" stroke-width="0.8"/>
<line x1="86.52" y1="391.50" x2="86.52" y2="393.00" stroke="#3d3d3d" stroke-width="0.8"/>
<line x1="88.54" y1="391.50" x2="88.54" y2="393.00" stroke="#3d3d3d" stroke-width="0.8"/>
<line x1="90.31" y1="391.50" x2="90.31" y2="393.00" stroke="#3d3d3d" stroke-width="0.8"/>
<line x1="91.90" y1="391.50" x2="91.90" y2="394.10" stroke="#3d3d3d" stroke-width="1"/>
<line x1="102.35" y1="391.50" x2="102.35" y2="393.00" stroke="#3d3d3d" stroke-width="0.8"/>
<line x1="108.46" y1="391.50" x2="108.46" y2="393.00" stroke="#3d3d3d" stroke-width="0.8"/>
<line x1="112.79" y1="391.50" x2="112.79" y2="393.00" stroke="#3d3d3d" stroke-width="0.8"/>
<line x1="116.15" y1="391.50" x2="116.15" y2="393.00" stroke="#3d3d3d" stroke-width="0.8"/>
<line x1="118.90" y1="391.50" x2="118.90" y2="393.00" stroke="#3d3d3d" stroke-width="0.8"/>
<line x1="121.22" y1="391.50" x2="121.22" y2="393.00" stroke="#3d3d3d" stroke-width="0.8"/>
<line x1="123.24" y1="391.50" x2="123.24" y2="393.00" stroke="#3d3d3d" stroke-width="0.8"/>
<line x1="125.01" y1="391.50" x2="125.01" y2="393.00" stroke="#3d3d3d" stroke-width="0.8"/>
<line x1="126.60" y1="391.50" x2="126.60" y2="394.10" stroke="#3d3d3d" stroke-width="1"/>
<line x1="137.05" y1="391.50" x2="137.05" y2="393.00" stroke="#3d3d3d" stroke-width="0.8"/>
<line x1="143.16" y1="391.50" x2="143.16" y2="393.00" stroke="#3d3d3d" stroke-width="0.8"/>
<line x1="147.49" y1="391.50" x2="147.49" y2="393.00" stroke="#3d3d3d" stroke-width="0.8"/>
<line x1="150.85" y1="391.50" x2="150.85" y2="393.00" stroke="#3d3d3d" stroke-width="0.8"/>
<line x1="153.60" y1="391.50" x2="153.60" y2="393.00" stroke="#3d3d3d" stroke-width="0.8"/>
<line x1="155.92" y1="391.50" x2="155.92" y2="393.00" stroke="#3d3d3d" stroke-width="0.8"/>
<line x1="157.94" y1="391.50" x2="157.94" y2="393.00" stroke="#3d3d3d" stroke-width="0.8"/>
<line x1="159.71" y1="391.50" x2="159.71" y2="393.00" stroke="#3d3d3d" stroke-width="0.8"/>
<line x1="161.30" y1="391.50" x2="161.30" y2="394.10" stroke="#3d3d3d" stroke-width="1"/>
<text x="57.20" y="403.70" font-size="9.4" fill="#231f20" stroke="#231f20" stroke-width="0.2" text-anchor="middle">0.01</text>
<text x="91.90" y="403.70" font-size="9.4" fill="#231f20" stroke="#231f20" stroke-width="0.2" text-anchor="middle">0.1</text>
<text x="126.60" y="403.70" font-size="9.4" fill="#231f20" stroke="#231f20" stroke-width="0.2" text-anchor="middle">1</text>
<text x="161.30" y="403.70" font-size="9.4" fill="#231f20" stroke="#231f20" stroke-width="0.2" text-anchor="middle">10</text>
<text x="97.50" y="416.60" font-size="9.4" fill="#231f20" stroke="#231f20" stroke-width="0.2" text-anchor="middle">DAB (μM)</text>
<text x="10.40" y="357.50" font-size="9.4" fill="#231f20" stroke="#231f20" stroke-width="0.2" transform="rotate(-90 10.40 357.50)">I/I<tspan font-size="6.7" dy="2.3">max</tspan></text>
<polyline points="39.06,388.65 39.75,388.65 40.44,388.65 41.14,388.65 41.83,388.65 42.53,388.65 43.22,388.64 43.91,388.64 44.61,388.64 45.30,388.64 46.00,388.64 46.69,388.64 47.38,388.63 48.08,388.63 48.77,388.63 49.47,388.63 50.16,388.62 50.85,388.62 51.55,388.62 52.24,388.61 52.94,388.61 53.63,388.60 54.32,388.60 55.02,388.59 55.71,388.58 56.41,388.57 57.10,388.57 57.79,388.56 58.49,388.54 59.18,388.53 59.88,388.52 60.57,388.51 61.26,388.49 61.96,388.47 62.65,388.45 63.35,388.43 64.04,388.41 64.73,388.38 65.43,388.35 66.12,388.32 66.82,388.28 67.51,388.24 68.20,388.20 68.90,388.15 69.59,388.10 70.29,388.04 70.98,387.97 71.67,387.90 72.37,387.82 73.06,387.73 73.76,387.63 74.45,387.53 75.14,387.41 75.84,387.28 76.53,387.13 77.23,386.97 77.92,386.80 78.61,386.61 79.31,386.40 80.00,386.16 80.70,385.91 81.39,385.63 82.08,385.32 82.78,384.99 83.47,384.62 84.17,384.22 84.86,383.78 85.55,383.30 86.25,382.78 86.94,382.21 87.64,381.59 88.33,380.93 89.02,380.21 89.72,379.43 90.41,378.59 91.11,377.69 91.80,376.73 92.49,375.70 93.19,374.61 93.88,373.45 94.58,372.22 95.27,370.93 95.96,369.57 96.66,368.16 97.35,366.68 98.05,365.15 98.74,363.58 99.43,361.96 100.13,360.31 100.82,358.63 101.52,356.93 102.21,355.23 102.90,353.52 103.60,351.81 104.29,350.13 104.99,348.46 105.68,346.83 106.37,345.24 107.07,343.69 107.76,342.20 108.46,340.76 109.15,339.38 109.84,338.06 110.54,336.81 111.23,335.62 111.93,334.50 112.62,333.45 113.31,332.46 114.01,331.54 114.70,330.68 115.40,329.87 116.09,329.13 116.78,328.44 117.48,327.81 118.17,327.22 118.87,326.68 119.56,326.19 120.25,325.73 120.95,325.32 121.64,324.94 122.34,324.59 123.03,324.27 123.72,323.98 124.42,323.72 125.11,323.48 125.81,323.26 126.50,323.06 127.19,322.88 127.89,322.71 128.58,322.56 129.28,322.43 129.97,322.30 130.66,322.19 131.36,322.09 132.05,322.00 132.75,321.92 133.44,321.84 134.13,321.77 134.83,321.71 135.52,321.66 136.22,321.61 136.91,321.56 137.60,321.52 138.30,321.48 138.99,321.45 139.69,321.42 140.38,321.39 141.07,321.36 141.77,321.34 142.46,321.32 143.16,321.30" fill="none" stroke="#e0a93c" stroke-width="1.1"/>
<polyline points="39.06,387.77 39.75,387.76 40.44,387.75 41.14,387.73 41.83,387.71 42.53,387.70 43.22,387.68 43.91,387.66 44.61,387.64 45.30,387.61 46.00,387.59 46.69,387.56 47.38,387.53 48.08,387.50 48.77,387.46 49.47,387.43 50.16,387.39 50.85,387.35 51.55,387.30 52.24,387.25 52.94,387.20 53.63,387.14 54.32,387.08 55.02,387.02 55.71,386.95 56.41,386.87 57.10,386.79 57.79,386.70 58.49,386.61 59.18,386.51 59.88,386.40 60.57,386.29 61.26,386.17 61.96,386.03 62.65,385.89 63.35,385.74 64.04,385.58 64.73,385.40 65.43,385.22 66.12,385.02 66.82,384.80 67.51,384.58 68.20,384.33 68.90,384.07 69.59,383.79 70.29,383.50 70.98,383.18 71.67,382.84 72.37,382.49 73.06,382.10 73.76,381.70 74.45,381.27 75.14,380.81 75.84,380.33 76.53,379.82 77.23,379.27 77.92,378.70 78.61,378.10 79.31,377.46 80.00,376.79 80.70,376.09 81.39,375.35 82.08,374.58 82.78,373.77 83.47,372.93 84.17,372.05 84.86,371.14 85.55,370.19 86.25,369.21 86.94,368.20 87.64,367.15 88.33,366.08 89.02,364.97 89.72,363.84 90.41,362.69 91.11,361.51 91.80,360.32 92.49,359.11 93.19,357.88 93.88,356.65 94.58,355.41 95.27,354.17 95.96,352.92 96.66,351.68 97.35,350.45 98.05,349.23 98.74,348.02 99.43,346.82 100.13,345.65 100.82,344.50 101.52,343.37 102.21,342.26 102.90,341.19 103.60,340.15 104.29,339.13 104.99,338.15 105.68,337.21 106.37,336.29 107.07,335.42 107.76,334.57 108.46,333.77 109.15,333.00 109.84,332.26 110.54,331.56 111.23,330.89 111.93,330.25 112.62,329.65 113.31,329.08 114.01,328.54 114.70,328.02 115.40,327.54 116.09,327.08 116.78,326.65 117.48,326.25 118.17,325.87 118.87,325.51 119.56,325.17 120.25,324.86 120.95,324.56 121.64,324.29 122.34,324.02 123.03,323.78 123.72,323.55 124.42,323.34 125.11,323.14 125.81,322.95 126.50,322.78 127.19,322.62 127.89,322.47 128.58,322.33 129.28,322.19 129.97,322.07 130.66,321.96 131.36,321.85 132.05,321.75 132.75,321.66 133.44,321.57 134.13,321.49 134.83,321.41 135.52,321.34 136.22,321.28 136.91,321.22 137.60,321.16 138.30,321.11 138.99,321.06 139.69,321.02 140.38,320.97 141.07,320.93 141.77,320.90 142.46,320.86 143.16,320.83" fill="none" stroke="#3c7dc2" stroke-width="1.1"/>
<line x1="39.06" y1="388.66" x2="39.06" y2="390.08" stroke="#e0a93c" stroke-width="0.9"/>
<line x1="37.46" y1="388.66" x2="40.66" y2="388.66" stroke="#e0a93c" stroke-width="0.9"/>
<line x1="37.46" y1="390.08" x2="40.66" y2="390.08" stroke="#e0a93c" stroke-width="0.9"/>
<circle cx="39.06" cy="389.37" r="2.0" fill="#e0a93c"/>
<line x1="57.20" y1="387.24" x2="57.20" y2="388.66" stroke="#e0a93c" stroke-width="0.9"/>
<line x1="55.60" y1="387.24" x2="58.80" y2="387.24" stroke="#e0a93c" stroke-width="0.9"/>
<line x1="55.60" y1="388.66" x2="58.80" y2="388.66" stroke="#e0a93c" stroke-width="0.9"/>
<circle cx="57.20" cy="387.95" r="2.0" fill="#e0a93c"/>
<line x1="73.76" y1="385.81" x2="73.76" y2="387.24" stroke="#e0a93c" stroke-width="0.9"/>
<line x1="72.16" y1="385.81" x2="75.36" y2="385.81" stroke="#e0a93c" stroke-width="0.9"/>
<line x1="72.16" y1="387.24" x2="75.36" y2="387.24" stroke="#e0a93c" stroke-width="0.9"/>
<circle cx="73.76" cy="386.52" r="2.0" fill="#e0a93c"/>
<line x1="91.90" y1="373.02" x2="91.90" y2="378.70" stroke="#e0a93c" stroke-width="0.9"/>
<line x1="90.30" y1="373.02" x2="93.50" y2="373.02" stroke="#e0a93c" stroke-width="0.9"/>
<line x1="90.30" y1="378.70" x2="93.50" y2="378.70" stroke="#e0a93c" stroke-width="0.9"/>
<circle cx="91.90" cy="375.86" r="2.0" fill="#e0a93c"/>
<line x1="108.46" y1="333.92" x2="108.46" y2="346.72" stroke="#e0a93c" stroke-width="0.9"/>
<line x1="106.86" y1="333.92" x2="110.06" y2="333.92" stroke="#e0a93c" stroke-width="0.9"/>
<line x1="106.86" y1="346.72" x2="110.06" y2="346.72" stroke="#e0a93c" stroke-width="0.9"/>
<circle cx="108.46" cy="340.32" r="2.0" fill="#e0a93c"/>
<line x1="126.60" y1="321.84" x2="126.60" y2="323.26" stroke="#e0a93c" stroke-width="0.9"/>
<line x1="125.00" y1="321.84" x2="128.20" y2="321.84" stroke="#e0a93c" stroke-width="0.9"/>
<line x1="125.00" y1="323.26" x2="128.20" y2="323.26" stroke="#e0a93c" stroke-width="0.9"/>
<circle cx="126.60" cy="322.55" r="2.0" fill="#e0a93c"/>
<line x1="143.16" y1="321.13" x2="143.16" y2="322.55" stroke="#e0a93c" stroke-width="0.9"/>
<line x1="141.56" y1="321.13" x2="144.76" y2="321.13" stroke="#e0a93c" stroke-width="0.9"/>
<line x1="141.56" y1="322.55" x2="144.76" y2="322.55" stroke="#e0a93c" stroke-width="0.9"/>
<circle cx="143.16" cy="321.84" r="2.0" fill="#e0a93c"/>
<line x1="39.06" y1="385.10" x2="39.06" y2="389.37" stroke="#3c7dc2" stroke-width="0.9"/>
<line x1="37.46" y1="385.10" x2="40.66" y2="385.10" stroke="#3c7dc2" stroke-width="0.9"/>
<line x1="37.46" y1="389.37" x2="40.66" y2="389.37" stroke="#3c7dc2" stroke-width="0.9"/>
<circle cx="39.06" cy="387.24" r="2.0" fill="#3c7dc2"/>
<line x1="57.20" y1="387.24" x2="57.20" y2="388.66" stroke="#3c7dc2" stroke-width="0.9"/>
<line x1="55.60" y1="387.24" x2="58.80" y2="387.24" stroke="#3c7dc2" stroke-width="0.9"/>
<line x1="55.60" y1="388.66" x2="58.80" y2="388.66" stroke="#3c7dc2" stroke-width="0.9"/>
<circle cx="57.20" cy="387.95" r="2.0" fill="#3c7dc2"/>
<line x1="73.76" y1="379.42" x2="73.76" y2="385.10" stroke="#3c7dc2" stroke-width="0.9"/>
<line x1="72.16" y1="379.42" x2="75.36" y2="379.42" stroke="#3c7dc2" stroke-width="0.9"/>
<line x1="72.16" y1="385.10" x2="75.36" y2="385.10" stroke="#3c7dc2" stroke-width="0.9"/>
<circle cx="73.76" cy="382.26" r="2.0" fill="#3c7dc2"/>
<line x1="91.90" y1="357.38" x2="91.90" y2="364.49" stroke="#3c7dc2" stroke-width="0.9"/>
<line x1="90.30" y1="357.38" x2="93.50" y2="357.38" stroke="#3c7dc2" stroke-width="0.9"/>
<line x1="90.30" y1="364.49" x2="93.50" y2="364.49" stroke="#3c7dc2" stroke-width="0.9"/>
<circle cx="91.90" cy="360.93" r="2.0" fill="#3c7dc2"/>
<line x1="108.46" y1="332.50" x2="108.46" y2="336.77" stroke="#3c7dc2" stroke-width="0.9"/>
<line x1="106.86" y1="332.50" x2="110.06" y2="332.50" stroke="#3c7dc2" stroke-width="0.9"/>
<line x1="106.86" y1="336.77" x2="110.06" y2="336.77" stroke="#3c7dc2" stroke-width="0.9"/>
<circle cx="108.46" cy="334.63" r="2.0" fill="#3c7dc2"/>
<line x1="126.60" y1="321.84" x2="126.60" y2="323.26" stroke="#3c7dc2" stroke-width="0.9"/>
<line x1="125.00" y1="321.84" x2="128.20" y2="321.84" stroke="#3c7dc2" stroke-width="0.9"/>
<line x1="125.00" y1="323.26" x2="128.20" y2="323.26" stroke="#3c7dc2" stroke-width="0.9"/>
<circle cx="126.60" cy="322.55" r="2.0" fill="#3c7dc2"/>
<line x1="143.16" y1="320.42" x2="143.16" y2="321.84" stroke="#3c7dc2" stroke-width="0.9"/>
<line x1="141.56" y1="320.42" x2="144.76" y2="320.42" stroke="#3c7dc2" stroke-width="0.9"/>
<line x1="141.56" y1="321.84" x2="144.76" y2="321.84" stroke="#3c7dc2" stroke-width="0.9"/>
<circle cx="143.16" cy="321.13" r="2.0" fill="#3c7dc2"/>
<line x1="38.00" y1="316.30" x2="47.50" y2="316.30" stroke="#3c7dc2" stroke-width="1"/>
<circle cx="42.75" cy="316.30" r="1.9" fill="#3c7dc2"/>
<text x="53.00" y="319.30" font-size="8.2" fill="#231f20" stroke="#231f20" stroke-width="0.2" text-anchor="start">+100 mV</text>
<line x1="38.00" y1="327.80" x2="47.50" y2="327.80" stroke="#e0a93c" stroke-width="1"/>
<circle cx="42.75" cy="327.80" r="2.2" fill="#e0a93c"/>
<text x="53.00" y="330.80" font-size="8.2" fill="#231f20" stroke="#231f20" stroke-width="0.2" text-anchor="start">-100 mV</text>
<text x="184.20" y="295.80" font-size="16" fill="#231f20" stroke="#231f20" stroke-width="0.2" text-anchor="start">F</text>
<text x="239.90" y="304.60" font-size="9.4" fill="#231f20" stroke="#231f20" stroke-width="0.2">25 °C, [Ca<tspan font-size="6.96" dy="-4.32">2+</tspan><tspan dy="4.32">]</tspan><tspan font-size="6.39" dy="2.63">i</tspan><tspan dy="-2.63">= 1 μM</tspan></text>
<line x1="213.00" y1="308.20" x2="213.00" y2="391.90" stroke="#3d3d3d" stroke-width="1.25"/>
<line x1="213.00" y1="391.90" x2="338.40" y2="391.90" stroke="#3d3d3d" stroke-width="1.25"/>
<line x1="210.40" y1="391.90" x2="213.00" y2="391.90" stroke="#3d3d3d" stroke-width="1"/>
<text x="209.60" y="395.30" font-size="9.4" fill="#231f20" stroke="#231f20" stroke-width="0.2" text-anchor="end">0.0</text>
<line x1="210.40" y1="371.10" x2="213.00" y2="371.10" stroke="#3d3d3d" stroke-width="1"/>
<text x="209.60" y="374.50" font-size="9.4" fill="#231f20" stroke="#231f20" stroke-width="0.2" text-anchor="end">0.3</text>
<line x1="210.40" y1="350.30" x2="213.00" y2="350.30" stroke="#3d3d3d" stroke-width="1"/>
<text x="209.60" y="353.70" font-size="9.4" fill="#231f20" stroke="#231f20" stroke-width="0.2" text-anchor="end">0.6</text>
<line x1="210.40" y1="329.50" x2="213.00" y2="329.50" stroke="#3d3d3d" stroke-width="1"/>
<text x="209.60" y="332.90" font-size="9.4" fill="#231f20" stroke="#231f20" stroke-width="0.2" text-anchor="end">0.9</text>
<line x1="210.40" y1="308.70" x2="213.00" y2="308.70" stroke="#3d3d3d" stroke-width="1"/>
<text x="209.60" y="312.10" font-size="9.4" fill="#231f20" stroke="#231f20" stroke-width="0.2" text-anchor="end">1.2</text>
<line x1="218.52" y1="391.90" x2="218.52" y2="393.40" stroke="#3d3d3d" stroke-width="0.8"/>
<line x1="222.79" y1="391.90" x2="222.79" y2="393.40" stroke="#3d3d3d" stroke-width="0.8"/>
<line x1="226.10" y1="391.90" x2="226.10" y2="393.40" stroke="#3d3d3d" stroke-width="0.8"/>
<line x1="228.81" y1="391.90" x2="228.81" y2="393.40" stroke="#3d3d3d" stroke-width="0.8"/>
<line x1="231.10" y1="391.90" x2="231.10" y2="393.40" stroke="#3d3d3d" stroke-width="0.8"/>
<line x1="233.09" y1="391.90" x2="233.09" y2="393.40" stroke="#3d3d3d" stroke-width="0.8"/>
<line x1="234.84" y1="391.90" x2="234.84" y2="393.40" stroke="#3d3d3d" stroke-width="0.8"/>
<line x1="236.40" y1="391.90" x2="236.40" y2="394.50" stroke="#3d3d3d" stroke-width="1"/>
<line x1="246.70" y1="391.90" x2="246.70" y2="393.40" stroke="#3d3d3d" stroke-width="0.8"/>
<line x1="252.72" y1="391.90" x2="252.72" y2="393.40" stroke="#3d3d3d" stroke-width="0.8"/>
<line x1="256.99" y1="391.90" x2="256.99" y2="393.40" stroke="#3d3d3d" stroke-width="0.8"/>
<line x1="260.30" y1="391.90" x2="260.30" y2="393.40" stroke="#3d3d3d" stroke-width="0.8"/>
<line x1="263.01" y1="391.90" x2="263.01" y2="393.40" stroke="#3d3d3d" stroke-width="0.8"/>
<line x1="265.30" y1="391.90" x2="265.30" y2="393.40" stroke="#3d3d3d" stroke-width="0.8"/>
<line x1="267.29" y1="391.90" x2="267.29" y2="393.40" stroke="#3d3d3d" stroke-width="0.8"/>
<line x1="269.04" y1="391.90" x2="269.04" y2="393.40" stroke="#3d3d3d" stroke-width="0.8"/>
<line x1="270.60" y1="391.90" x2="270.60" y2="394.50" stroke="#3d3d3d" stroke-width="1"/>
<line x1="280.90" y1="391.90" x2="280.90" y2="393.40" stroke="#3d3d3d" stroke-width="0.8"/>
<line x1="286.92" y1="391.90" x2="286.92" y2="393.40" stroke="#3d3d3d" stroke-width="0.8"/>
<line x1="291.19" y1="391.90" x2="291.19" y2="393.40" stroke="#3d3d3d" stroke-width="0.8"/>
<line x1="294.50" y1="391.90" x2="294.50" y2="393.40" stroke="#3d3d3d" stroke-width="0.8"/>
<line x1="297.21" y1="391.90" x2="297.21" y2="393.40" stroke="#3d3d3d" stroke-width="0.8"/>
<line x1="299.50" y1="391.90" x2="299.50" y2="393.40" stroke="#3d3d3d" stroke-width="0.8"/>
<line x1="301.49" y1="391.90" x2="301.49" y2="393.40" stroke="#3d3d3d" stroke-width="0.8"/>
<line x1="303.24" y1="391.90" x2="303.24" y2="393.40" stroke="#3d3d3d" stroke-width="0.8"/>
<line x1="304.80" y1="391.90" x2="304.80" y2="394.50" stroke="#3d3d3d" stroke-width="1"/>
<line x1="315.10" y1="391.90" x2="315.10" y2="393.40" stroke="#3d3d3d" stroke-width="0.8"/>
<line x1="321.12" y1="391.90" x2="321.12" y2="393.40" stroke="#3d3d3d" stroke-width="0.8"/>
<line x1="325.39" y1="391.90" x2="325.39" y2="393.40" stroke="#3d3d3d" stroke-width="0.8"/>
<line x1="328.70" y1="391.90" x2="328.70" y2="393.40" stroke="#3d3d3d" stroke-width="0.8"/>
<line x1="331.41" y1="391.90" x2="331.41" y2="393.40" stroke="#3d3d3d" stroke-width="0.8"/>
<line x1="333.70" y1="391.90" x2="333.70" y2="393.40" stroke="#3d3d3d" stroke-width="0.8"/>
<line x1="335.69" y1="391.90" x2="335.69" y2="393.40" stroke="#3d3d3d" stroke-width="0.8"/>
<line x1="337.44" y1="391.90" x2="337.44" y2="393.40" stroke="#3d3d3d" stroke-width="0.8"/>
<text x="236.40" y="404.10" font-size="9.4" fill="#231f20" stroke="#231f20" stroke-width="0.2" text-anchor="middle">0.01</text>
<text x="270.60" y="404.10" font-size="9.4" fill="#231f20" stroke="#231f20" stroke-width="0.2" text-anchor="middle">0.1</text>
<text x="304.80" y="404.10" font-size="9.4" fill="#231f20" stroke="#231f20" stroke-width="0.2" text-anchor="middle">0.1</text>
<text x="339.00" y="404.10" font-size="9.4" fill="#231f20" stroke="#231f20" stroke-width="0.2" text-anchor="middle">10</text>
<text x="276.00" y="416.60" font-size="9.4" fill="#231f20" stroke="#231f20" stroke-width="0.2" text-anchor="middle">DAB (μM)</text>
<text x="191.40" y="358.60" font-size="9.4" fill="#231f20" stroke="#231f20" stroke-width="0.2" transform="rotate(-90 191.40 358.60)">I/I<tspan font-size="6.7" dy="2.3">max</tspan></text>
<polyline points="218.52,391.55 219.20,391.55 219.89,391.55 220.57,391.55 221.25,391.55 221.94,391.55 222.62,391.55 223.31,391.55 223.99,391.55 224.67,391.55 225.36,391.55 226.04,391.55 226.73,391.55 227.41,391.55 228.09,391.55 228.78,391.55 229.46,391.55 230.15,391.55 230.83,391.55 231.51,391.55 232.20,391.55 232.88,391.54 233.57,391.54 234.25,391.54 234.93,391.54 235.62,391.54 236.30,391.54 236.99,391.54 237.67,391.53 238.35,391.53 239.04,391.53 239.72,391.53 240.41,391.52 241.09,391.52 241.77,391.52 242.46,391.51 243.14,391.51 243.83,391.50 244.51,391.50 245.19,391.49 245.88,391.48 246.56,391.47 247.25,391.46 247.93,391.45 248.61,391.44 249.30,391.43 249.98,391.41 250.67,391.40 251.35,391.38 252.03,391.36 252.72,391.34 253.40,391.31 254.09,391.28 254.77,391.25 255.45,391.22 256.14,391.18 256.82,391.13 257.51,391.08 258.19,391.03 258.87,390.97 259.56,390.90 260.24,390.82 260.93,390.74 261.61,390.65 262.29,390.54 262.98,390.43 263.66,390.30 264.35,390.15 265.03,389.99 265.71,389.81 266.40,389.62 267.08,389.40 267.77,389.15 268.45,388.88 269.13,388.59 269.82,388.26 270.50,387.89 271.19,387.49 271.87,387.04 272.55,386.56 273.24,386.02 273.92,385.43 274.61,384.78 275.29,384.08 275.97,383.31 276.66,382.47 277.34,381.56 278.03,380.58 278.71,379.52 279.39,378.39 280.08,377.17 280.76,375.87 281.45,374.49 282.13,373.03 282.81,371.50 283.50,369.89 284.18,368.21 284.87,366.48 285.55,364.69 286.23,362.86 286.92,360.99 287.60,359.10 288.29,357.19 288.97,355.29 289.65,353.39 290.34,351.52 291.02,349.68 291.71,347.89 292.39,346.14 293.07,344.46 293.76,342.84 294.44,341.30 295.13,339.83 295.81,338.44 296.49,337.13 297.18,335.90 297.86,334.75 298.55,333.68 299.23,332.69 299.91,331.77 300.60,330.92 301.28,330.14 301.97,329.43 302.65,328.78 303.33,328.18 304.02,327.64 304.70,327.14 305.39,326.69 306.07,326.28 306.75,325.91 307.44,325.58 308.12,325.28 308.81,325.00 309.49,324.75 310.17,324.53 310.86,324.33 311.54,324.15 312.23,323.99 312.91,323.84 313.59,323.71 314.28,323.59 314.96,323.49 315.65,323.39 316.33,323.31 317.01,323.23 317.70,323.16 318.38,323.10 319.07,323.04 319.75,322.99 320.43,322.95 321.12,322.91" fill="none" stroke="#e0a93c" stroke-width="1.1"/>
<polyline points="218.52,390.35 219.20,390.34 219.89,390.33 220.57,390.32 221.25,390.30 221.94,390.29 222.62,390.27 223.31,390.26 223.99,390.24 224.67,390.22 225.36,390.20 226.04,390.17 226.73,390.15 227.41,390.12 228.09,390.10 228.78,390.07 229.46,390.04 230.15,390.00 230.83,389.97 231.51,389.93 232.20,389.89 232.88,389.84 233.57,389.79 234.25,389.74 234.93,389.69 235.62,389.63 236.30,389.57 236.99,389.50 237.67,389.43 238.35,389.35 239.04,389.27 239.72,389.18 240.41,389.09 241.09,388.99 241.77,388.89 242.46,388.77 243.14,388.65 243.83,388.52 244.51,388.38 245.19,388.24 245.88,388.08 246.56,387.91 247.25,387.73 247.93,387.54 248.61,387.34 249.30,387.13 249.98,386.90 250.67,386.65 251.35,386.39 252.03,386.12 252.72,385.82 253.40,385.51 254.09,385.18 254.77,384.83 255.45,384.46 256.14,384.07 256.82,383.66 257.51,383.22 258.19,382.76 258.87,382.27 259.56,381.76 260.24,381.22 260.93,380.65 261.61,380.05 262.29,379.43 262.98,378.77 263.66,378.08 264.35,377.37 265.03,376.62 265.71,375.84 266.40,375.03 267.08,374.19 267.77,373.32 268.45,372.41 269.13,371.48 269.82,370.52 270.50,369.53 271.19,368.52 271.87,367.48 272.55,366.42 273.24,365.33 273.92,364.23 274.61,363.11 275.29,361.97 275.97,360.82 276.66,359.66 277.34,358.49 278.03,357.32 278.71,356.15 279.39,354.98 280.08,353.81 280.76,352.65 281.45,351.49 282.13,350.35 282.81,349.22 283.50,348.11 284.18,347.02 284.87,345.95 285.55,344.90 286.23,343.88 286.92,342.88 287.60,341.91 288.29,340.97 288.97,340.06 289.65,339.18 290.34,338.33 291.02,337.51 291.71,336.72 292.39,335.96 293.07,335.23 293.76,334.53 294.44,333.87 295.13,333.23 295.81,332.63 296.49,332.05 297.18,331.50 297.86,330.98 298.55,330.48 299.23,330.01 299.91,329.56 300.60,329.14 301.28,328.74 301.97,328.37 302.65,328.01 303.33,327.67 304.02,327.36 304.70,327.06 305.39,326.78 306.07,326.51 306.75,326.26 307.44,326.03 308.12,325.81 308.81,325.60 309.49,325.41 310.17,325.23 310.86,325.06 311.54,324.89 312.23,324.74 312.91,324.60 313.59,324.47 314.28,324.35 314.96,324.23 315.65,324.12 316.33,324.02 317.01,323.93 317.70,323.84 318.38,323.75 319.07,323.68 319.75,323.60 320.43,323.53 321.12,323.47" fill="none" stroke="#3c7dc2" stroke-width="1.1"/>
<circle cx="218.52" cy="391.90" r="2.0" fill="#e0a93c"/>
<circle cx="236.40" cy="391.21" r="2.0" fill="#e0a93c"/>
<circle cx="252.72" cy="389.82" r="2.0" fill="#e0a93c"/>
<circle cx="270.60" cy="384.97" r="2.0" fill="#e0a93c"/>
<line x1="286.92" y1="355.85" x2="286.92" y2="364.17" stroke="#e0a93c" stroke-width="0.9"/>
<line x1="285.32" y1="355.85" x2="288.52" y2="355.85" stroke="#e0a93c" stroke-width="0.9"/>
<line x1="285.32" y1="364.17" x2="288.52" y2="364.17" stroke="#e0a93c" stroke-width="0.9"/>
<circle cx="286.92" cy="360.01" r="2.0" fill="#e0a93c"/>
<line x1="304.80" y1="326.03" x2="304.80" y2="328.81" stroke="#e0a93c" stroke-width="0.9"/>
<line x1="303.20" y1="326.03" x2="306.40" y2="326.03" stroke="#e0a93c" stroke-width="0.9"/>
<line x1="303.20" y1="328.81" x2="306.40" y2="328.81" stroke="#e0a93c" stroke-width="0.9"/>
<circle cx="304.80" cy="327.42" r="2.0" fill="#e0a93c"/>
<circle cx="321.12" cy="323.95" r="2.0" fill="#e0a93c"/>
<circle cx="218.52" cy="390.51" r="2.0" fill="#3c7dc2"/>
<circle cx="236.40" cy="389.13" r="2.0" fill="#3c7dc2"/>
<circle cx="252.72" cy="386.35" r="2.0" fill="#3c7dc2"/>
<line x1="270.60" y1="366.25" x2="270.60" y2="373.18" stroke="#3c7dc2" stroke-width="0.9"/>
<line x1="269.00" y1="366.25" x2="272.20" y2="366.25" stroke="#3c7dc2" stroke-width="0.9"/>
<line x1="269.00" y1="373.18" x2="272.20" y2="373.18" stroke="#3c7dc2" stroke-width="0.9"/>
<circle cx="270.60" cy="369.71" r="2.0" fill="#3c7dc2"/>
<line x1="286.92" y1="341.29" x2="286.92" y2="348.22" stroke="#3c7dc2" stroke-width="0.9"/>
<line x1="285.32" y1="341.29" x2="288.52" y2="341.29" stroke="#3c7dc2" stroke-width="0.9"/>
<line x1="285.32" y1="348.22" x2="288.52" y2="348.22" stroke="#3c7dc2" stroke-width="0.9"/>
<circle cx="286.92" cy="344.75" r="2.0" fill="#3c7dc2"/>
<line x1="304.80" y1="326.03" x2="304.80" y2="328.81" stroke="#3c7dc2" stroke-width="0.9"/>
<line x1="303.20" y1="326.03" x2="306.40" y2="326.03" stroke="#3c7dc2" stroke-width="0.9"/>
<line x1="303.20" y1="328.81" x2="306.40" y2="328.81" stroke="#3c7dc2" stroke-width="0.9"/>
<circle cx="304.80" cy="327.42" r="2.0" fill="#3c7dc2"/>
<circle cx="321.12" cy="323.95" r="2.0" fill="#3c7dc2"/>
<line x1="217.50" y1="321.30" x2="225.80" y2="321.30" stroke="#3c7dc2" stroke-width="1"/>
<circle cx="221.65" cy="321.30" r="1.9" fill="#3c7dc2"/>
<text x="231.00" y="324.30" font-size="8.2" fill="#231f20" stroke="#231f20" stroke-width="0.2" text-anchor="start">+100 mV</text>
<line x1="217.50" y1="332.50" x2="225.80" y2="332.50" stroke="#e0a93c" stroke-width="1"/>
<circle cx="221.65" cy="332.50" r="2.2" fill="#e0a93c"/>
<text x="231.00" y="335.50" font-size="8.2" fill="#231f20" stroke="#231f20" stroke-width="0.2" text-anchor="start">-100 mV</text>
<text x="357.00" y="295.20" font-size="16" fill="#231f20" stroke="#231f20" stroke-width="0.2" text-anchor="start">I</text>
<text x="401.20" y="304.40" font-size="9.4" fill="#231f20" stroke="#231f20" stroke-width="0.2">37 °C, [Ca<tspan font-size="6.96" dy="-4.32">2+</tspan><tspan dy="4.32">]</tspan><tspan font-size="6.39" dy="2.63">i</tspan><tspan dy="-2.63">= 0 μM</tspan></text>
<line x1="380.50" y1="307.70" x2="380.50" y2="391.90" stroke="#3d3d3d" stroke-width="1.25"/>
<line x1="380.50" y1="391.90" x2="507.50" y2="391.90" stroke="#3d3d3d" stroke-width="1.25"/>
<line x1="377.90" y1="391.90" x2="380.50" y2="391.90" stroke="#3d3d3d" stroke-width="1"/>
<text x="377.10" y="395.30" font-size="9.4" fill="#231f20" stroke="#231f20" stroke-width="0.2" text-anchor="end">0.0</text>
<line x1="377.90" y1="370.97" x2="380.50" y2="370.97" stroke="#3d3d3d" stroke-width="1"/>
<text x="377.10" y="374.37" font-size="9.4" fill="#231f20" stroke="#231f20" stroke-width="0.2" text-anchor="end">0.3</text>
<line x1="377.90" y1="350.05" x2="380.50" y2="350.05" stroke="#3d3d3d" stroke-width="1"/>
<text x="377.10" y="353.45" font-size="9.4" fill="#231f20" stroke="#231f20" stroke-width="0.2" text-anchor="end">0.6</text>
<line x1="377.90" y1="329.12" x2="380.50" y2="329.12" stroke="#3d3d3d" stroke-width="1"/>
<text x="377.10" y="332.52" font-size="9.4" fill="#231f20" stroke="#231f20" stroke-width="0.2" text-anchor="end">0.9</text>
<line x1="377.90" y1="308.20" x2="380.50" y2="308.20" stroke="#3d3d3d" stroke-width="1"/>
<text x="377.10" y="311.60" font-size="9.4" fill="#231f20" stroke="#231f20" stroke-width="0.2" text-anchor="end">1.2</text>
<line x1="382.80" y1="391.90" x2="382.80" y2="393.40" stroke="#3d3d3d" stroke-width="0.8"/>
<line x1="385.08" y1="391.90" x2="385.08" y2="393.40" stroke="#3d3d3d" stroke-width="0.8"/>
<line x1="387.10" y1="391.90" x2="387.10" y2="393.40" stroke="#3d3d3d" stroke-width="0.8"/>
<line x1="388.90" y1="391.90" x2="388.90" y2="394.50" stroke="#3d3d3d" stroke-width="1"/>
<line x1="400.76" y1="391.90" x2="400.76" y2="393.40" stroke="#3d3d3d" stroke-width="0.8"/>
<line x1="407.70" y1="391.90" x2="407.70" y2="393.40" stroke="#3d3d3d" stroke-width="0.8"/>
<line x1="412.62" y1="391.90" x2="412.62" y2="393.40" stroke="#3d3d3d" stroke-width="0.8"/>
<line x1="416.44" y1="391.90" x2="416.44" y2="393.40" stroke="#3d3d3d" stroke-width="0.8"/>
<line x1="419.56" y1="391.90" x2="419.56" y2="393.40" stroke="#3d3d3d" stroke-width="0.8"/>
<line x1="422.20" y1="391.90" x2="422.20" y2="393.40" stroke="#3d3d3d" stroke-width="0.8"/>
<line x1="424.48" y1="391.90" x2="424.48" y2="393.40" stroke="#3d3d3d" stroke-width="0.8"/>
<line x1="426.50" y1="391.90" x2="426.50" y2="393.40" stroke="#3d3d3d" stroke-width="0.8"/>
<line x1="428.30" y1="391.90" x2="428.30" y2="394.50" stroke="#3d3d3d" stroke-width="1"/>
<line x1="440.16" y1="391.90" x2="440.16" y2="393.40" stroke="#3d3d3d" stroke-width="0.8"/>
<line x1="447.10" y1="391.90" x2="447.10" y2="393.40" stroke="#3d3d3d" stroke-width="0.8"/>
<line x1="452.02" y1="391.90" x2="452.02" y2="393.40" stroke="#3d3d3d" stroke-width="0.8"/>
<line x1="455.84" y1="391.90" x2="455.84" y2="393.40" stroke="#3d3d3d" stroke-width="0.8"/>
<line x1="458.96" y1="391.90" x2="458.96" y2="393.40" stroke="#3d3d3d" stroke-width="0.8"/>
<line x1="461.60" y1="391.90" x2="461.60" y2="393.40" stroke="#3d3d3d" stroke-width="0.8"/>
<line x1="463.88" y1="391.90" x2="463.88" y2="393.40" stroke="#3d3d3d" stroke-width="0.8"/>
<line x1="465.90" y1="391.90" x2="465.90" y2="393.40" stroke="#3d3d3d" stroke-width="0.8"/>
<line x1="467.70" y1="391.90" x2="467.70" y2="394.50" stroke="#3d3d3d" stroke-width="1"/>
<line x1="479.56" y1="391.90" x2="479.56" y2="393.40" stroke="#3d3d3d" stroke-width="0.8"/>
<line x1="486.50" y1="391.90" x2="486.50" y2="393.40" stroke="#3d3d3d" stroke-width="0.8"/>
<line x1="491.42" y1="391.90" x2="491.42" y2="393.40" stroke="#3d3d3d" stroke-width="0.8"/>
<line x1="495.24" y1="391.90" x2="495.24" y2="393.40" stroke="#3d3d3d" stroke-width="0.8"/>
<line x1="498.36" y1="391.90" x2="498.36" y2="393.40" stroke="#3d3d3d" stroke-width="0.8"/>
<line x1="501.00" y1="391.90" x2="501.00" y2="393.40" stroke="#3d3d3d" stroke-width="0.8"/>
<line x1="503.28" y1="391.90" x2="503.28" y2="393.40" stroke="#3d3d3d" stroke-width="0.8"/>
<line x1="505.30" y1="391.90" x2="505.30" y2="393.40" stroke="#3d3d3d" stroke-width="0.8"/>
<line x1="507.10" y1="391.90" x2="507.10" y2="394.50" stroke="#3d3d3d" stroke-width="1"/>
<text x="388.90" y="404.10" font-size="9.4" fill="#231f20" stroke="#231f20" stroke-width="0.2" text-anchor="middle">0.01</text>
<text x="428.30" y="404.10" font-size="9.4" fill="#231f20" stroke="#231f20" stroke-width="0.2" text-anchor="middle">0.1</text>
<text x="467.70" y="404.10" font-size="9.4" fill="#231f20" stroke="#231f20" stroke-width="0.2" text-anchor="middle">1</text>
<text x="507.10" y="404.10" font-size="9.4" fill="#231f20" stroke="#231f20" stroke-width="0.2" text-anchor="middle">10</text>
<text x="444.00" y="416.30" font-size="9.4" fill="#231f20" stroke="#231f20" stroke-width="0.2" text-anchor="middle">DAB (μM)</text>
<text x="359.20" y="358.40" font-size="9.4" fill="#231f20" stroke="#231f20" stroke-width="0.2" transform="rotate(-90 359.20 358.40)">I/I<tspan font-size="6.7" dy="2.3">max</tspan></text>
<polyline points="388.90,387.71 389.69,387.71 390.48,387.71 391.26,387.71 392.05,387.71 392.84,387.71 393.63,387.71 394.42,387.71 395.20,387.71 395.99,387.71 396.78,387.71 397.57,387.71 398.36,387.71 399.14,387.71 399.93,387.71 400.72,387.71 401.51,387.71 402.30,387.71 403.08,387.71 403.87,387.71 404.66,387.71 405.45,387.71 406.24,387.71 407.02,387.71 407.81,387.70 408.60,387.70 409.39,387.70 410.18,387.70 410.96,387.70 411.75,387.69 412.54,387.69 413.33,387.69 414.12,387.68 414.90,387.68 415.69,387.68 416.48,387.67 417.27,387.66 418.06,387.65 418.84,387.65 419.63,387.64 420.42,387.62 421.21,387.61 422.00,387.59 422.78,387.58 423.57,387.56 424.36,387.53 425.15,387.51 425.94,387.47 426.72,387.44 427.51,387.40 428.30,387.35 429.09,387.30 429.88,387.24 430.66,387.17 431.45,387.09 432.24,387.00 433.03,386.89 433.82,386.77 434.60,386.63 435.39,386.48 436.18,386.30 436.97,386.09 437.76,385.86 438.54,385.59 439.33,385.29 440.12,384.95 440.91,384.56 441.70,384.12 442.48,383.63 443.27,383.07 444.06,382.44 444.85,381.73 445.64,380.94 446.42,380.07 447.21,379.10 448.00,378.02 448.79,376.84 449.58,375.56 450.36,374.16 451.15,372.65 451.94,371.03 452.73,369.31 453.52,367.49 454.30,365.59 455.09,363.61 455.88,361.58 456.67,359.50 457.46,357.41 458.24,355.32 459.03,353.25 459.82,351.21 460.61,349.23 461.40,347.33 462.18,345.50 462.97,343.78 463.76,342.16 464.55,340.64 465.34,339.24 466.12,337.95 466.91,336.77 467.70,335.69 468.49,334.71 469.28,333.83 470.06,333.04 470.85,332.33 471.64,331.70 472.43,331.14 473.22,330.64 474.00,330.20 474.79,329.81 475.58,329.47 476.37,329.16 477.16,328.90 477.94,328.66 478.73,328.46 479.52,328.28 480.31,328.12 481.10,327.98 481.88,327.86 482.67,327.76 483.46,327.66 484.25,327.58 485.04,327.51 485.82,327.45 486.61,327.40 487.40,327.35 488.19,327.31 488.98,327.27 489.76,327.24 490.55,327.22 491.34,327.19 492.13,327.17 492.92,327.15 493.70,327.14 494.49,327.12 495.28,327.11 496.07,327.10 496.86,327.09 497.64,327.09 498.43,327.08 499.22,327.07 500.01,327.07 500.80,327.06 501.58,327.06 502.37,327.06 503.16,327.05 503.95,327.05 504.74,327.05 505.52,327.05 506.31,327.04 507.10,327.04" fill="none" stroke="#e0a93c" stroke-width="1.1"/>
<polyline points="388.90,387.71 389.69,387.71 390.48,387.70 391.26,387.70 392.05,387.70 392.84,387.70 393.63,387.70 394.42,387.70 395.20,387.69 395.99,387.69 396.78,387.69 397.57,387.68 398.36,387.68 399.14,387.68 399.93,387.67 400.72,387.67 401.51,387.66 402.30,387.65 403.08,387.65 403.87,387.64 404.66,387.63 405.45,387.62 406.24,387.61 407.02,387.59 407.81,387.58 408.60,387.56 409.39,387.54 410.18,387.52 410.96,387.50 411.75,387.47 412.54,387.45 413.33,387.41 414.12,387.38 414.90,387.33 415.69,387.29 416.48,387.24 417.27,387.18 418.06,387.11 418.84,387.04 419.63,386.96 420.42,386.87 421.21,386.77 422.00,386.66 422.78,386.53 423.57,386.39 424.36,386.23 425.15,386.05 425.94,385.85 426.72,385.64 427.51,385.39 428.30,385.12 429.09,384.82 429.88,384.48 430.66,384.11 431.45,383.70 432.24,383.24 433.03,382.74 433.82,382.19 434.60,381.58 435.39,380.92 436.18,380.19 436.97,379.39 437.76,378.53 438.54,377.59 439.33,376.58 440.12,375.48 440.91,374.31 441.70,373.06 442.48,371.74 443.27,370.33 444.06,368.86 444.85,367.31 445.64,365.70 446.42,364.04 447.21,362.34 448.00,360.59 448.79,358.82 449.58,357.04 450.36,355.25 451.15,353.48 451.94,351.72 452.73,350.00 453.52,348.32 454.30,346.69 455.09,345.12 455.88,343.61 456.67,342.18 457.46,340.82 458.24,339.54 459.03,338.34 459.82,337.21 460.61,336.17 461.40,335.20 462.18,334.30 462.97,333.48 463.76,332.72 464.55,332.03 465.34,331.40 466.12,330.83 466.91,330.31 467.70,329.83 468.49,329.40 469.28,329.02 470.06,328.67 470.85,328.35 471.64,328.07 472.43,327.81 473.22,327.58 474.00,327.38 474.79,327.19 475.58,327.03 476.37,326.88 477.16,326.75 477.94,326.63 478.73,326.52 479.52,326.43 480.31,326.34 481.10,326.27 481.88,326.20 482.67,326.14 483.46,326.08 484.25,326.04 485.04,325.99 485.82,325.95 486.61,325.92 487.40,325.89 488.19,325.86 488.98,325.84 489.76,325.82 490.55,325.80 491.34,325.78 492.13,325.76 492.92,325.75 493.70,325.74 494.49,325.73 495.28,325.72 496.07,325.71 496.86,325.70 497.64,325.69 498.43,325.69 499.22,325.68 500.01,325.68 500.80,325.67 501.58,325.67 502.37,325.67 503.16,325.66 503.95,325.66 504.74,325.66 505.52,325.66 506.31,325.65 507.10,325.65" fill="none" stroke="#3a9bc6" stroke-width="1.1"/>
<line x1="388.90" y1="387.02" x2="388.90" y2="388.41" stroke="#e0a93c" stroke-width="0.9"/>
<line x1="387.30" y1="387.02" x2="390.50" y2="387.02" stroke="#e0a93c" stroke-width="0.9"/>
<line x1="387.30" y1="388.41" x2="390.50" y2="388.41" stroke="#e0a93c" stroke-width="0.9"/>
<circle cx="388.90" cy="387.71" r="2.0" fill="#e0a93c"/>
<line x1="407.70" y1="387.02" x2="407.70" y2="388.41" stroke="#e0a93c" stroke-width="0.9"/>
<line x1="406.10" y1="387.02" x2="409.30" y2="387.02" stroke="#e0a93c" stroke-width="0.9"/>
<line x1="406.10" y1="388.41" x2="409.30" y2="388.41" stroke="#e0a93c" stroke-width="0.9"/>
<circle cx="407.70" cy="387.71" r="2.0" fill="#e0a93c"/>
<line x1="428.30" y1="387.02" x2="428.30" y2="388.41" stroke="#e0a93c" stroke-width="0.9"/>
<line x1="426.70" y1="387.02" x2="429.90" y2="387.02" stroke="#e0a93c" stroke-width="0.9"/>
<line x1="426.70" y1="388.41" x2="429.90" y2="388.41" stroke="#e0a93c" stroke-width="0.9"/>
<circle cx="428.30" cy="387.71" r="2.0" fill="#e0a93c"/>
<line x1="447.10" y1="375.86" x2="447.10" y2="382.83" stroke="#e0a93c" stroke-width="0.9"/>
<line x1="445.50" y1="375.86" x2="448.70" y2="375.86" stroke="#e0a93c" stroke-width="0.9"/>
<line x1="445.50" y1="382.83" x2="448.70" y2="382.83" stroke="#e0a93c" stroke-width="0.9"/>
<circle cx="447.10" cy="379.34" r="2.0" fill="#e0a93c"/>
<line x1="467.70" y1="327.73" x2="467.70" y2="337.50" stroke="#e0a93c" stroke-width="0.9"/>
<line x1="466.10" y1="327.73" x2="469.30" y2="327.73" stroke="#e0a93c" stroke-width="0.9"/>
<line x1="466.10" y1="337.50" x2="469.30" y2="337.50" stroke="#e0a93c" stroke-width="0.9"/>
<circle cx="467.70" cy="332.61" r="2.0" fill="#e0a93c"/>
<line x1="486.50" y1="326.33" x2="486.50" y2="327.73" stroke="#e0a93c" stroke-width="0.9"/>
<line x1="484.90" y1="326.33" x2="488.10" y2="326.33" stroke="#e0a93c" stroke-width="0.9"/>
<line x1="484.90" y1="327.73" x2="488.10" y2="327.73" stroke="#e0a93c" stroke-width="0.9"/>
<circle cx="486.50" cy="327.03" r="2.0" fill="#e0a93c"/>
<line x1="507.10" y1="326.33" x2="507.10" y2="327.73" stroke="#e0a93c" stroke-width="0.9"/>
<line x1="505.50" y1="326.33" x2="508.70" y2="326.33" stroke="#e0a93c" stroke-width="0.9"/>
<line x1="505.50" y1="327.73" x2="508.70" y2="327.73" stroke="#e0a93c" stroke-width="0.9"/>
<circle cx="507.10" cy="327.03" r="2.0" fill="#e0a93c"/>
<line x1="388.90" y1="387.71" x2="388.90" y2="389.11" stroke="#3a9bc6" stroke-width="0.9"/>
<line x1="387.30" y1="387.71" x2="390.50" y2="387.71" stroke="#3a9bc6" stroke-width="0.9"/>
<line x1="387.30" y1="389.11" x2="390.50" y2="389.11" stroke="#3a9bc6" stroke-width="0.9"/>
<circle cx="388.90" cy="388.41" r="2.0" fill="#3a9bc6"/>
<line x1="407.70" y1="387.02" x2="407.70" y2="388.41" stroke="#3a9bc6" stroke-width="0.9"/>
<line x1="406.10" y1="387.02" x2="409.30" y2="387.02" stroke="#3a9bc6" stroke-width="0.9"/>
<line x1="406.10" y1="388.41" x2="409.30" y2="388.41" stroke="#3a9bc6" stroke-width="0.9"/>
<circle cx="407.70" cy="387.71" r="2.0" fill="#3a9bc6"/>
<line x1="428.30" y1="378.65" x2="428.30" y2="385.62" stroke="#3a9bc6" stroke-width="0.9"/>
<line x1="426.70" y1="378.65" x2="429.90" y2="378.65" stroke="#3a9bc6" stroke-width="0.9"/>
<line x1="426.70" y1="385.62" x2="429.90" y2="385.62" stroke="#3a9bc6" stroke-width="0.9"/>
<circle cx="428.30" cy="382.13" r="2.0" fill="#3a9bc6"/>
<line x1="447.10" y1="359.12" x2="447.10" y2="367.49" stroke="#3a9bc6" stroke-width="0.9"/>
<line x1="445.50" y1="359.12" x2="448.70" y2="359.12" stroke="#3a9bc6" stroke-width="0.9"/>
<line x1="445.50" y1="367.49" x2="448.70" y2="367.49" stroke="#3a9bc6" stroke-width="0.9"/>
<circle cx="447.10" cy="363.30" r="2.0" fill="#3a9bc6"/>
<line x1="467.70" y1="324.24" x2="467.70" y2="331.22" stroke="#3a9bc6" stroke-width="0.9"/>
<line x1="466.10" y1="324.24" x2="469.30" y2="324.24" stroke="#3a9bc6" stroke-width="0.9"/>
<line x1="466.10" y1="331.22" x2="469.30" y2="331.22" stroke="#3a9bc6" stroke-width="0.9"/>
<circle cx="467.70" cy="327.73" r="2.0" fill="#3a9bc6"/>
<line x1="486.50" y1="324.94" x2="486.50" y2="326.33" stroke="#3a9bc6" stroke-width="0.9"/>
<line x1="484.90" y1="324.94" x2="488.10" y2="324.94" stroke="#3a9bc6" stroke-width="0.9"/>
<line x1="484.90" y1="326.33" x2="488.10" y2="326.33" stroke="#3a9bc6" stroke-width="0.9"/>
<circle cx="486.50" cy="325.64" r="2.0" fill="#3a9bc6"/>
<line x1="507.10" y1="324.94" x2="507.10" y2="326.33" stroke="#3a9bc6" stroke-width="0.9"/>
<line x1="505.50" y1="324.94" x2="508.70" y2="324.94" stroke="#3a9bc6" stroke-width="0.9"/>
<line x1="505.50" y1="326.33" x2="508.70" y2="326.33" stroke="#3a9bc6" stroke-width="0.9"/>
<circle cx="507.10" cy="325.64" r="2.0" fill="#3a9bc6"/>
<line x1="386.00" y1="317.10" x2="394.90" y2="317.10" stroke="#3a9bc6" stroke-width="1"/>
<circle cx="390.45" cy="317.10" r="1.9" fill="#3a9bc6"/>
<text x="400.20" y="320.10" font-size="8.2" fill="#231f20" stroke="#231f20" stroke-width="0.2" text-anchor="start">+100 mV</text>
<line x1="386.00" y1="327.20" x2="394.90" y2="327.20" stroke="#e0a93c" stroke-width="1"/>
<circle cx="390.45" cy="327.20" r="2.2" fill="#e0a93c"/>
<text x="400.20" y="330.20" font-size="8.2" fill="#231f20" stroke="#231f20" stroke-width="0.2" text-anchor="start">-100 mV</text>
<text x="524.50" y="295.60" font-size="16" fill="#231f20" stroke="#231f20" stroke-width="0.2" text-anchor="start">L</text>
<text x="573.70" y="304.40" font-size="9.4" fill="#231f20" stroke="#231f20" stroke-width="0.2">37 °C, [Ca<tspan font-size="6.96" dy="-4.32">2+</tspan><tspan dy="4.32">]</tspan><tspan font-size="6.39" dy="2.63">i</tspan><tspan dy="-2.63">= 1 μM</tspan></text>
<line x1="554.00" y1="307.70" x2="554.00" y2="392.00" stroke="#3d3d3d" stroke-width="1.25"/>
<line x1="554.00" y1="392.00" x2="680.00" y2="392.00" stroke="#3d3d3d" stroke-width="1.25"/>
<line x1="551.40" y1="392.00" x2="554.00" y2="392.00" stroke="#3d3d3d" stroke-width="1"/>
<text x="550.60" y="395.40" font-size="9.4" fill="#231f20" stroke="#231f20" stroke-width="0.2" text-anchor="end">0.0</text>
<line x1="551.40" y1="371.05" x2="554.00" y2="371.05" stroke="#3d3d3d" stroke-width="1"/>
<text x="550.60" y="374.45" font-size="9.4" fill="#231f20" stroke="#231f20" stroke-width="0.2" text-anchor="end">0.3</text>
<line x1="551.40" y1="350.10" x2="554.00" y2="350.10" stroke="#3d3d3d" stroke-width="1"/>
<text x="550.60" y="353.50" font-size="9.4" fill="#231f20" stroke="#231f20" stroke-width="0.2" text-anchor="end">0.6</text>
<line x1="551.40" y1="329.15" x2="554.00" y2="329.15" stroke="#3d3d3d" stroke-width="1"/>
<text x="550.60" y="332.55" font-size="9.4" fill="#231f20" stroke="#231f20" stroke-width="0.2" text-anchor="end">0.9</text>
<line x1="551.40" y1="308.20" x2="554.00" y2="308.20" stroke="#3d3d3d" stroke-width="1"/>
<text x="550.60" y="311.60" font-size="9.4" fill="#231f20" stroke="#231f20" stroke-width="0.2" text-anchor="end">1.2</text>
<line x1="555.68" y1="392.00" x2="555.68" y2="393.50" stroke="#3d3d3d" stroke-width="0.8"/>
<line x1="557.82" y1="392.00" x2="557.82" y2="393.50" stroke="#3d3d3d" stroke-width="0.8"/>
<line x1="559.71" y1="392.00" x2="559.71" y2="393.50" stroke="#3d3d3d" stroke-width="0.8"/>
<line x1="561.40" y1="392.00" x2="561.40" y2="394.60" stroke="#3d3d3d" stroke-width="1"/>
<line x1="572.51" y1="392.00" x2="572.51" y2="393.50" stroke="#3d3d3d" stroke-width="0.8"/>
<line x1="579.01" y1="392.00" x2="579.01" y2="393.50" stroke="#3d3d3d" stroke-width="0.8"/>
<line x1="583.62" y1="392.00" x2="583.62" y2="393.50" stroke="#3d3d3d" stroke-width="0.8"/>
<line x1="587.19" y1="392.00" x2="587.19" y2="393.50" stroke="#3d3d3d" stroke-width="0.8"/>
<line x1="590.11" y1="392.00" x2="590.11" y2="393.50" stroke="#3d3d3d" stroke-width="0.8"/>
<line x1="592.58" y1="392.00" x2="592.58" y2="393.50" stroke="#3d3d3d" stroke-width="0.8"/>
<line x1="594.72" y1="392.00" x2="594.72" y2="393.50" stroke="#3d3d3d" stroke-width="0.8"/>
<line x1="596.61" y1="392.00" x2="596.61" y2="393.50" stroke="#3d3d3d" stroke-width="0.8"/>
<line x1="598.30" y1="392.00" x2="598.30" y2="394.60" stroke="#3d3d3d" stroke-width="1"/>
<line x1="609.41" y1="392.00" x2="609.41" y2="393.50" stroke="#3d3d3d" stroke-width="0.8"/>
<line x1="615.91" y1="392.00" x2="615.91" y2="393.50" stroke="#3d3d3d" stroke-width="0.8"/>
<line x1="620.52" y1="392.00" x2="620.52" y2="393.50" stroke="#3d3d3d" stroke-width="0.8"/>
<line x1="624.09" y1="392.00" x2="624.09" y2="393.50" stroke="#3d3d3d" stroke-width="0.8"/>
<line x1="627.01" y1="392.00" x2="627.01" y2="393.50" stroke="#3d3d3d" stroke-width="0.8"/>
<line x1="629.48" y1="392.00" x2="629.48" y2="393.50" stroke="#3d3d3d" stroke-width="0.8"/>
<line x1="631.62" y1="392.00" x2="631.62" y2="393.50" stroke="#3d3d3d" stroke-width="0.8"/>
<line x1="633.51" y1="392.00" x2="633.51" y2="393.50" stroke="#3d3d3d" stroke-width="0.8"/>
<line x1="635.20" y1="392.00" x2="635.20" y2="394.60" stroke="#3d3d3d" stroke-width="1"/>
<line x1="646.31" y1="392.00" x2="646.31" y2="393.50" stroke="#3d3d3d" stroke-width="0.8"/>
<line x1="652.81" y1="392.00" x2="652.81" y2="393.50" stroke="#3d3d3d" stroke-width="0.8"/>
<line x1="657.42" y1="392.00" x2="657.42" y2="393.50" stroke="#3d3d3d" stroke-width="0.8"/>
<line x1="660.99" y1="392.00" x2="660.99" y2="393.50" stroke="#3d3d3d" stroke-width="0.8"/>
<line x1="663.91" y1="392.00" x2="663.91" y2="393.50" stroke="#3d3d3d" stroke-width="0.8"/>
<line x1="666.38" y1="392.00" x2="666.38" y2="393.50" stroke="#3d3d3d" stroke-width="0.8"/>
<line x1="668.52" y1="392.00" x2="668.52" y2="393.50" stroke="#3d3d3d" stroke-width="0.8"/>
<line x1="670.41" y1="392.00" x2="670.41" y2="393.50" stroke="#3d3d3d" stroke-width="0.8"/>
<line x1="672.10" y1="392.00" x2="672.10" y2="394.60" stroke="#3d3d3d" stroke-width="1"/>
<text x="561.40" y="404.20" font-size="9.4" fill="#231f20" stroke="#231f20" stroke-width="0.2" text-anchor="middle">0.01</text>
<text x="598.30" y="404.20" font-size="9.4" fill="#231f20" stroke="#231f20" stroke-width="0.2" text-anchor="middle">0.1</text>
<text x="635.20" y="404.20" font-size="9.4" fill="#231f20" stroke="#231f20" stroke-width="0.2" text-anchor="middle">1</text>
<text x="672.10" y="404.20" font-size="9.4" fill="#231f20" stroke="#231f20" stroke-width="0.2" text-anchor="middle">10</text>
<text x="617.00" y="416.90" font-size="9.4" fill="#231f20" stroke="#231f20" stroke-width="0.2" text-anchor="middle">DAB (μM)</text>
<text x="533.40" y="358.40" font-size="9.4" fill="#231f20" stroke="#231f20" stroke-width="0.2" transform="rotate(-90 533.40 358.40)">I/I<tspan font-size="6.7" dy="2.3">max</tspan></text>
<polyline points="561.40,385.71 562.14,385.71 562.88,385.71 563.61,385.71 564.35,385.71 565.09,385.71 565.83,385.71 566.57,385.71 567.30,385.71 568.04,385.71 568.78,385.71 569.52,385.71 570.26,385.71 570.99,385.71 571.73,385.71 572.47,385.71 573.21,385.71 573.95,385.71 574.68,385.71 575.42,385.71 576.16,385.71 576.90,385.71 577.64,385.71 578.37,385.71 579.11,385.71 579.85,385.71 580.59,385.71 581.33,385.71 582.06,385.71 582.80,385.71 583.54,385.71 584.28,385.71 585.02,385.71 585.75,385.71 586.49,385.71 587.23,385.71 587.97,385.71 588.71,385.70 589.44,385.70 590.18,385.70 590.92,385.69 591.66,385.69 592.40,385.69 593.13,385.68 593.87,385.67 594.61,385.66 595.35,385.65 596.09,385.64 596.82,385.62 597.56,385.61 598.30,385.58 599.04,385.56 599.78,385.53 600.51,385.49 601.25,385.44 601.99,385.39 602.73,385.32 603.47,385.24 604.20,385.15 604.94,385.04 605.68,384.90 606.42,384.74 607.16,384.54 607.89,384.31 608.63,384.04 609.37,383.71 610.11,383.32 610.85,382.86 611.58,382.32 612.32,381.68 613.06,380.93 613.80,380.05 614.54,379.03 615.27,377.86 616.01,376.53 616.75,375.01 617.49,373.30 618.23,371.40 618.96,369.31 619.70,367.05 620.44,364.63 621.18,362.09 621.92,359.45 622.65,356.76 623.39,354.06 624.13,351.40 624.87,348.83 625.61,346.37 626.34,344.06 627.08,341.93 627.82,339.98 628.56,338.22 629.30,336.65 630.03,335.26 630.77,334.04 631.51,332.99 632.25,332.07 632.99,331.29 633.72,330.62 634.46,330.05 635.20,329.57 635.94,329.16 636.68,328.82 637.41,328.53 638.15,328.29 638.89,328.08 639.63,327.91 640.37,327.77 641.10,327.65 641.84,327.55 642.58,327.47 643.32,327.40 644.06,327.34 644.79,327.29 645.53,327.25 646.27,327.22 647.01,327.19 647.75,327.17 648.48,327.15 649.22,327.13 649.96,327.12 650.70,327.11 651.44,327.10 652.17,327.09 652.91,327.09 653.65,327.08 654.39,327.08 655.13,327.07 655.86,327.07 656.60,327.07 657.34,327.07 658.08,327.06 658.82,327.06 659.55,327.06 660.29,327.06 661.03,327.06 661.77,327.06 662.51,327.06 663.24,327.06 663.98,327.06 664.72,327.06 665.46,327.06 666.20,327.06 666.93,327.06 667.67,327.06 668.41,327.06 669.15,327.06 669.89,327.06 670.62,327.06 671.36,327.06 672.10,327.06" fill="none" stroke="#e0a93c" stroke-width="1.1"/>
<polyline points="561.40,383.27 562.14,383.27 562.88,383.27 563.61,383.27 564.35,383.27 565.09,383.27 565.83,383.27 566.57,383.26 567.30,383.26 568.04,383.26 568.78,383.26 569.52,383.26 570.26,383.26 570.99,383.26 571.73,383.25 572.47,383.25 573.21,383.25 573.95,383.25 574.68,383.24 575.42,383.24 576.16,383.23 576.90,383.23 577.64,383.22 578.37,383.22 579.11,383.21 579.85,383.20 580.59,383.19 581.33,383.17 582.06,383.16 582.80,383.14 583.54,383.13 584.28,383.10 585.02,383.08 585.75,383.05 586.49,383.02 587.23,382.98 587.97,382.94 588.71,382.89 589.44,382.84 590.18,382.77 590.92,382.70 591.66,382.61 592.40,382.52 593.13,382.41 593.87,382.28 594.61,382.14 595.35,381.98 596.09,381.79 596.82,381.58 597.56,381.33 598.30,381.06 599.04,380.74 599.78,380.39 600.51,379.99 601.25,379.53 601.99,379.02 602.73,378.44 603.47,377.80 604.20,377.08 604.94,376.27 605.68,375.38 606.42,374.40 607.16,373.32 607.89,372.13 608.63,370.85 609.37,369.46 610.11,367.97 610.85,366.38 611.58,364.71 612.32,362.95 613.06,361.13 613.80,359.25 614.54,357.33 615.27,355.40 616.01,353.46 616.75,351.53 617.49,349.64 618.23,347.80 618.96,346.03 619.70,344.33 620.44,342.73 621.18,341.21 621.92,339.80 622.65,338.49 623.39,337.28 624.13,336.18 624.87,335.17 625.61,334.26 626.34,333.43 627.08,332.69 627.82,332.03 628.56,331.44 629.30,330.91 630.03,330.44 630.77,330.03 631.51,329.66 632.25,329.34 632.99,329.06 633.72,328.81 634.46,328.59 635.20,328.39 635.94,328.22 636.68,328.08 637.41,327.95 638.15,327.83 638.89,327.73 639.63,327.65 640.37,327.57 641.10,327.51 641.84,327.45 642.58,327.40 643.32,327.35 644.06,327.32 644.79,327.28 645.53,327.25 646.27,327.23 647.01,327.20 647.75,327.19 648.48,327.17 649.22,327.15 649.96,327.14 650.70,327.13 651.44,327.12 652.17,327.11 652.91,327.10 653.65,327.10 654.39,327.09 655.13,327.09 655.86,327.08 656.60,327.08 657.34,327.08 658.08,327.07 658.82,327.07 659.55,327.07 660.29,327.07 661.03,327.07 661.77,327.06 662.51,327.06 663.24,327.06 663.98,327.06 664.72,327.06 665.46,327.06 666.20,327.06 666.93,327.06 667.67,327.06 668.41,327.06 669.15,327.06 669.89,327.06 670.62,327.06 671.36,327.06 672.10,327.06" fill="none" stroke="#3c7dc2" stroke-width="1.1"/>
<line x1="561.40" y1="387.11" x2="561.40" y2="388.51" stroke="#e0a93c" stroke-width="0.9"/>
<line x1="559.80" y1="387.11" x2="563.00" y2="387.11" stroke="#e0a93c" stroke-width="0.9"/>
<line x1="559.80" y1="388.51" x2="563.00" y2="388.51" stroke="#e0a93c" stroke-width="0.9"/>
<circle cx="561.40" cy="387.81" r="2.0" fill="#e0a93c"/>
<line x1="579.01" y1="383.62" x2="579.01" y2="387.81" stroke="#e0a93c" stroke-width="0.9"/>
<line x1="577.41" y1="383.62" x2="580.61" y2="383.62" stroke="#e0a93c" stroke-width="0.9"/>
<line x1="577.41" y1="387.81" x2="580.61" y2="387.81" stroke="#e0a93c" stroke-width="0.9"/>
<circle cx="579.01" cy="385.71" r="2.0" fill="#e0a93c"/>
<line x1="598.30" y1="382.22" x2="598.30" y2="386.41" stroke="#e0a93c" stroke-width="0.9"/>
<line x1="596.70" y1="382.22" x2="599.90" y2="382.22" stroke="#e0a93c" stroke-width="0.9"/>
<line x1="596.70" y1="386.41" x2="599.90" y2="386.41" stroke="#e0a93c" stroke-width="0.9"/>
<circle cx="598.30" cy="384.32" r="2.0" fill="#e0a93c"/>
<line x1="615.91" y1="375.24" x2="615.91" y2="378.03" stroke="#e0a93c" stroke-width="0.9"/>
<line x1="614.31" y1="375.24" x2="617.51" y2="375.24" stroke="#e0a93c" stroke-width="0.9"/>
<line x1="614.31" y1="378.03" x2="617.51" y2="378.03" stroke="#e0a93c" stroke-width="0.9"/>
<circle cx="615.91" cy="376.64" r="2.0" fill="#e0a93c"/>
<line x1="635.20" y1="329.15" x2="635.20" y2="338.93" stroke="#e0a93c" stroke-width="0.9"/>
<line x1="633.60" y1="329.15" x2="636.80" y2="329.15" stroke="#e0a93c" stroke-width="0.9"/>
<line x1="633.60" y1="338.93" x2="636.80" y2="338.93" stroke="#e0a93c" stroke-width="0.9"/>
<circle cx="635.20" cy="334.04" r="2.0" fill="#e0a93c"/>
<line x1="652.81" y1="328.45" x2="652.81" y2="334.04" stroke="#e0a93c" stroke-width="0.9"/>
<line x1="651.21" y1="328.45" x2="654.41" y2="328.45" stroke="#e0a93c" stroke-width="0.9"/>
<line x1="651.21" y1="334.04" x2="654.41" y2="334.04" stroke="#e0a93c" stroke-width="0.9"/>
<circle cx="652.81" cy="331.25" r="2.0" fill="#e0a93c"/>
<line x1="672.10" y1="322.87" x2="672.10" y2="325.66" stroke="#e0a93c" stroke-width="0.9"/>
<line x1="670.50" y1="322.87" x2="673.70" y2="322.87" stroke="#e0a93c" stroke-width="0.9"/>
<line x1="670.50" y1="325.66" x2="673.70" y2="325.66" stroke="#e0a93c" stroke-width="0.9"/>
<circle cx="672.10" cy="324.26" r="2.0" fill="#e0a93c"/>
<line x1="561.40" y1="383.62" x2="561.40" y2="386.41" stroke="#3c7dc2" stroke-width="0.9"/>
<line x1="559.80" y1="383.62" x2="563.00" y2="383.62" stroke="#3c7dc2" stroke-width="0.9"/>
<line x1="559.80" y1="386.41" x2="563.00" y2="386.41" stroke="#3c7dc2" stroke-width="0.9"/>
<circle cx="561.40" cy="385.02" r="2.0" fill="#3c7dc2"/>
<line x1="579.01" y1="380.83" x2="579.01" y2="385.02" stroke="#3c7dc2" stroke-width="0.9"/>
<line x1="577.41" y1="380.83" x2="580.61" y2="380.83" stroke="#3c7dc2" stroke-width="0.9"/>
<line x1="577.41" y1="385.02" x2="580.61" y2="385.02" stroke="#3c7dc2" stroke-width="0.9"/>
<circle cx="579.01" cy="382.92" r="2.0" fill="#3c7dc2"/>
<line x1="598.30" y1="373.84" x2="598.30" y2="380.83" stroke="#3c7dc2" stroke-width="0.9"/>
<line x1="596.70" y1="373.84" x2="599.90" y2="373.84" stroke="#3c7dc2" stroke-width="0.9"/>
<line x1="596.70" y1="380.83" x2="599.90" y2="380.83" stroke="#3c7dc2" stroke-width="0.9"/>
<circle cx="598.30" cy="377.33" r="2.0" fill="#3c7dc2"/>
<line x1="615.91" y1="352.89" x2="615.91" y2="357.08" stroke="#3c7dc2" stroke-width="0.9"/>
<line x1="614.31" y1="352.89" x2="617.51" y2="352.89" stroke="#3c7dc2" stroke-width="0.9"/>
<line x1="614.31" y1="357.08" x2="617.51" y2="357.08" stroke="#3c7dc2" stroke-width="0.9"/>
<circle cx="615.91" cy="354.99" r="2.0" fill="#3c7dc2"/>
<line x1="635.20" y1="326.36" x2="635.20" y2="327.75" stroke="#3c7dc2" stroke-width="0.9"/>
<line x1="633.60" y1="326.36" x2="636.80" y2="326.36" stroke="#3c7dc2" stroke-width="0.9"/>
<line x1="633.60" y1="327.75" x2="636.80" y2="327.75" stroke="#3c7dc2" stroke-width="0.9"/>
<circle cx="635.20" cy="327.06" r="2.0" fill="#3c7dc2"/>
<line x1="652.81" y1="324.96" x2="652.81" y2="330.55" stroke="#3c7dc2" stroke-width="0.9"/>
<line x1="651.21" y1="324.96" x2="654.41" y2="324.96" stroke="#3c7dc2" stroke-width="0.9"/>
<line x1="651.21" y1="330.55" x2="654.41" y2="330.55" stroke="#3c7dc2" stroke-width="0.9"/>
<circle cx="652.81" cy="327.75" r="2.0" fill="#3c7dc2"/>
<line x1="672.10" y1="325.66" x2="672.10" y2="329.85" stroke="#3c7dc2" stroke-width="0.9"/>
<line x1="670.50" y1="325.66" x2="673.70" y2="325.66" stroke="#3c7dc2" stroke-width="0.9"/>
<line x1="670.50" y1="329.85" x2="673.70" y2="329.85" stroke="#3c7dc2" stroke-width="0.9"/>
<circle cx="672.10" cy="327.75" r="2.0" fill="#3c7dc2"/>
<line x1="558.80" y1="317.10" x2="568.00" y2="317.10" stroke="#3c7dc2" stroke-width="1"/>
<circle cx="563.40" cy="317.10" r="1.9" fill="#3c7dc2"/>
<text x="573.10" y="320.10" font-size="8.2" fill="#231f20" stroke="#231f20" stroke-width="0.2" text-anchor="start">+100 mV</text>
<line x1="558.80" y1="327.20" x2="568.00" y2="327.20" stroke="#e0a93c" stroke-width="1"/>
<circle cx="563.40" cy="327.20" r="2.2" fill="#e0a93c"/>
<text x="573.10" y="330.20" font-size="8.2" fill="#231f20" stroke="#231f20" stroke-width="0.2" text-anchor="start">-100 mV</text>
</svg></body></html>
